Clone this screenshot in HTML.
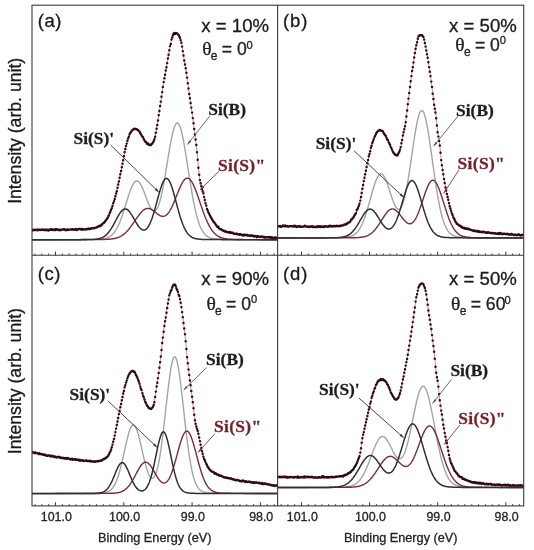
<!DOCTYPE html><html><head><meta charset="utf-8"><title>Si 2p spectra</title><style>html,body{margin:0;padding:0;background:#fff}svg{display:block;filter:blur(0.45px)}text{stroke-width:0.3px;paint-order:stroke}</style></head><body><svg width="534" height="550" viewBox="0 0 534 550">
<defs>
<clipPath id="cpa"><rect x="32.0" y="5.2" width="245.6" height="250.0"/></clipPath>
<clipPath id="cpb"><rect x="277.6" y="5.2" width="246.1" height="250.0"/></clipPath>
<clipPath id="cpc"><rect x="32.0" y="255.2" width="245.6" height="250.7"/></clipPath>
<clipPath id="cpd"><rect x="277.6" y="255.2" width="246.1" height="250.7"/></clipPath>
</defs>
<rect width="534" height="550" fill="#fff"/>
<g clip-path="url(#cpa)" fill="none">
<path d="M32.0 239.7 L32.5 239.7 L33.0 239.7 L33.5 239.7 L34.0 239.7 L34.5 239.7 L35.0 239.7 L35.5 239.7 L36.0 239.7 L36.5 239.7 L37.0 239.7 L37.5 239.7 L38.0 239.7 L38.5 239.7 L39.0 239.7 L39.5 239.7 L40.0 239.7 L40.5 239.7 L41.0 239.7 L41.5 239.7 L42.0 239.7 L42.5 239.7 L43.0 239.7 L43.5 239.7 L44.0 239.7 L44.5 239.7 L45.0 239.7 L45.5 239.7 L46.0 239.7 L46.5 239.7 L47.0 239.7 L47.5 239.7 L48.0 239.7 L48.5 239.7 L49.0 239.7 L49.5 239.7 L50.0 239.7 L50.5 239.7 L51.0 239.7 L51.5 239.7 L52.0 239.7 L52.5 239.7 L53.0 239.7 L53.5 239.7 L54.0 239.7 L54.5 239.7 L55.0 239.7 L55.5 239.7 L56.0 239.7 L56.5 239.7 L57.0 239.7 L57.5 239.7 L58.0 239.7 L58.5 239.7 L59.0 239.7 L59.5 239.7 L60.0 239.7 L60.5 239.7 L61.0 239.7 L61.5 239.6 L62.0 239.6 L62.5 239.6 L63.0 239.6 L63.5 239.6 L64.0 239.6 L64.5 239.6 L65.0 239.6 L65.5 239.6 L66.0 239.6 L66.5 239.6 L67.0 239.6 L67.5 239.6 L68.0 239.6 L68.5 239.6 L69.0 239.6 L69.5 239.6 L70.0 239.6 L70.5 239.6 L71.0 239.6 L71.5 239.6 L72.0 239.6 L72.5 239.6 L73.0 239.6 L73.5 239.6 L74.0 239.6 L74.5 239.6 L75.0 239.6 L75.5 239.6 L76.0 239.6 L76.5 239.6 L77.0 239.6 L77.5 239.6 L78.0 239.6 L78.5 239.6 L79.0 239.6 L79.5 239.6 L80.0 239.6 L80.5 239.6 L81.0 239.6 L81.5 239.6 L82.0 239.5 L82.5 239.5 L83.0 239.5 L83.5 239.5 L84.0 239.5 L84.5 239.5 L85.0 239.5 L85.5 239.5 L86.0 239.5 L86.5 239.5 L87.0 239.5 L87.5 239.5 L88.0 239.5 L88.5 239.5 L89.0 239.5 L89.5 239.5 L90.0 239.5 L90.5 239.5 L91.0 239.5 L91.5 239.5 L92.0 239.4 L92.5 239.4 L93.0 239.4 L93.5 239.4 L94.0 239.4 L94.5 239.4 L95.0 239.4 L95.5 239.4 L96.0 239.4 L96.5 239.3 L97.0 239.3 L97.5 239.3 L98.0 239.3 L98.5 239.2 L99.0 239.2 L99.5 239.2 L100.0 239.2 L100.5 239.1 L101.0 239.1 L101.5 239.0 L102.0 239.0 L102.5 238.9 L103.0 238.8 L103.5 238.8 L104.0 238.7 L104.5 238.6 L105.0 238.5 L105.5 238.3 L106.0 238.2 L106.5 238.0 L107.0 237.9 L107.5 237.7 L108.0 237.5 L108.5 237.2 L109.0 237.0 L109.5 236.7 L110.0 236.4 L110.5 236.1 L111.0 235.7 L111.5 235.3 L112.0 234.9 L112.5 234.4 L113.0 233.9 L113.5 233.3 L114.0 232.7 L114.5 232.1 L115.0 231.4 L115.5 230.6 L116.0 229.9 L116.5 229.0 L117.0 228.1 L117.5 227.2 L118.0 226.2 L118.5 225.1 L119.0 224.0 L119.5 222.8 L120.0 221.6 L120.5 220.3 L121.0 219.0 L121.5 217.6 L122.0 216.2 L122.5 214.8 L123.0 213.3 L123.5 211.8 L124.0 210.2 L124.5 208.6 L125.0 207.0 L125.5 205.4 L126.0 203.8 L126.5 202.2 L127.0 200.6 L127.5 199.0 L128.0 197.4 L128.5 195.8 L129.0 194.3 L129.5 192.8 L130.0 191.4 L130.5 190.1 L131.0 188.8 L131.5 187.6 L132.0 186.4 L132.5 185.4 L133.0 184.4 L133.5 183.6 L134.0 182.9 L134.5 182.2 L135.0 181.7 L135.5 181.4 L136.0 181.1 L136.5 181.0 L137.0 180.9 L137.5 181.0 L138.0 181.3 L138.5 181.6 L139.0 182.1 L139.5 182.7 L140.0 183.3 L140.5 184.1 L141.0 185.0 L141.5 186.0 L142.0 187.0 L142.5 188.1 L143.0 189.3 L143.5 190.5 L144.0 191.8 L144.5 193.1 L145.0 194.4 L145.5 195.8 L146.0 197.1 L146.5 198.4 L147.0 199.8 L147.5 201.0 L148.0 202.3 L148.5 203.5 L149.0 204.6 L149.5 205.7 L150.0 206.7 L150.5 207.6 L151.0 208.5 L151.5 209.2 L152.0 209.8 L152.5 210.3 L153.0 210.7 L153.5 210.9 L154.0 211.1 L154.5 211.0 L155.0 210.9 L155.5 210.5 L156.0 210.1 L156.5 209.5 L157.0 208.7 L157.5 207.7 L158.0 206.7 L158.5 205.4 L159.0 204.0 L159.5 202.4 L160.0 200.7 L160.5 198.9 L161.0 196.8 L161.5 194.7 L162.0 192.4 L162.5 190.0 L163.0 187.5 L163.5 184.9 L164.0 182.1 L164.5 179.3 L165.0 176.4 L165.5 173.5 L166.0 170.4 L166.5 167.4 L167.0 164.3 L167.5 161.3 L168.0 158.2 L168.5 155.2 L169.0 152.2 L169.5 149.2 L170.0 146.4 L170.5 143.6 L171.0 141.0 L171.5 138.4 L172.0 136.0 L172.5 133.8 L173.0 131.8 L173.5 129.9 L174.0 128.2 L174.5 126.8 L175.0 125.6 L175.5 124.6 L176.0 123.8 L176.5 123.3 L177.0 123.0 L177.5 123.0 L178.0 123.3 L178.5 123.7 L179.0 124.5 L179.5 125.5 L180.0 126.7 L180.5 128.1 L181.0 129.8 L181.5 131.7 L182.0 133.7 L182.5 136.0 L183.0 138.4 L183.5 140.9 L184.0 143.6 L184.5 146.5 L185.0 149.4 L185.5 152.4 L186.0 155.5 L186.5 158.6 L187.0 161.8 L187.5 165.1 L188.0 168.3 L188.5 171.5 L189.0 174.7 L189.5 177.9 L190.0 181.1 L190.5 184.2 L191.0 187.2 L191.5 190.2 L192.0 193.1 L192.5 195.9 L193.0 198.7 L193.5 201.3 L194.0 203.8 L194.5 206.3 L195.0 208.6 L195.5 210.8 L196.0 212.9 L196.5 214.9 L197.0 216.8 L197.5 218.6 L198.0 220.3 L198.5 221.8 L199.0 223.3 L199.5 224.7 L200.0 226.0 L200.5 227.2 L201.0 228.3 L201.5 229.3 L202.0 230.3 L202.5 231.1 L203.0 231.9 L203.5 232.7 L204.0 233.3 L204.5 233.9 L205.0 234.5 L205.5 235.0 L206.0 235.4 L206.5 235.9 L207.0 236.2 L207.5 236.6 L208.0 236.9 L208.5 237.1 L209.0 237.4 L209.5 237.6 L210.0 237.8 L210.5 238.0 L211.0 238.1 L211.5 238.3 L212.0 238.4 L212.5 238.5 L213.0 238.6 L213.5 238.7 L214.0 238.7 L214.5 238.8 L215.0 238.9 L215.5 238.9 L216.0 239.0 L216.5 239.0 L217.0 239.1 L217.5 239.1 L218.0 239.1 L218.5 239.1 L219.0 239.2 L219.5 239.2 L220.0 239.2 L220.5 239.2 L221.0 239.2 L221.5 239.3 L222.0 239.3 L222.5 239.3 L223.0 239.3 L223.5 239.3 L224.0 239.3 L224.5 239.3 L225.0 239.3 L225.5 239.4 L226.0 239.4 L226.5 239.4 L227.0 239.4 L227.5 239.4 L228.0 239.4 L228.5 239.4 L229.0 239.4 L229.5 239.4 L230.0 239.4 L230.5 239.4 L231.0 239.4 L231.5 239.4 L232.0 239.4 L232.5 239.5 L233.0 239.5 L233.5 239.5 L234.0 239.5 L234.5 239.5 L235.0 239.5 L235.5 239.5 L236.0 239.5 L236.5 239.5 L237.0 239.5 L237.5 239.5 L238.0 239.5 L238.5 239.5 L239.0 239.5 L239.5 239.5 L240.0 239.5 L240.5 239.5 L241.0 239.5 L241.5 239.5 L242.0 239.5 L242.5 239.5 L243.0 239.5 L243.5 239.6 L244.0 239.6 L244.5 239.6 L245.0 239.6 L245.5 239.6 L246.0 239.6 L246.5 239.6 L247.0 239.6 L247.5 239.6 L248.0 239.6 L248.5 239.6 L249.0 239.6 L249.5 239.6 L250.0 239.6 L250.5 239.6 L251.0 239.6 L251.5 239.6 L252.0 239.6 L252.5 239.6 L253.0 239.6 L253.5 239.6 L254.0 239.6 L254.5 239.6 L255.0 239.6 L255.5 239.6 L256.0 239.6 L256.5 239.6 L257.0 239.6 L257.5 239.6 L258.0 239.6 L258.5 239.6 L259.0 239.6 L259.5 239.6 L260.0 239.6 L260.5 239.6 L261.0 239.6 L261.5 239.6 L262.0 239.6 L262.5 239.6 L263.0 239.6 L263.5 239.6 L264.0 239.6 L264.5 239.6 L265.0 239.7 L265.5 239.7 L266.0 239.7 L266.5 239.7 L267.0 239.7 L267.5 239.7 L268.0 239.7 L268.5 239.7 L269.0 239.7 L269.5 239.7 L270.0 239.7 L270.5 239.7 L271.0 239.7 L271.5 239.7 L272.0 239.7 L272.5 239.7 L273.0 239.7 L273.5 239.7 L274.0 239.7 L274.5 239.7 L275.0 239.7 L275.5 239.7 L276.0 239.7 L276.5 239.7 L277.0 239.7 L277.5 239.7" stroke="#a4a4a4" stroke-width="1.4"/>
<path d="M32.0 239.7 L32.5 239.7 L33.0 239.7 L33.5 239.7 L34.0 239.7 L34.5 239.7 L35.0 239.7 L35.5 239.7 L36.0 239.7 L36.5 239.7 L37.0 239.7 L37.5 239.7 L38.0 239.7 L38.5 239.7 L39.0 239.7 L39.5 239.7 L40.0 239.7 L40.5 239.7 L41.0 239.7 L41.5 239.7 L42.0 239.7 L42.5 239.7 L43.0 239.7 L43.5 239.7 L44.0 239.7 L44.5 239.7 L45.0 239.7 L45.5 239.7 L46.0 239.7 L46.5 239.7 L47.0 239.7 L47.5 239.7 L48.0 239.7 L48.5 239.7 L49.0 239.7 L49.5 239.7 L50.0 239.7 L50.5 239.7 L51.0 239.7 L51.5 239.7 L52.0 239.7 L52.5 239.7 L53.0 239.7 L53.5 239.7 L54.0 239.7 L54.5 239.7 L55.0 239.7 L55.5 239.7 L56.0 239.7 L56.5 239.7 L57.0 239.7 L57.5 239.7 L58.0 239.7 L58.5 239.7 L59.0 239.7 L59.5 239.7 L60.0 239.7 L60.5 239.7 L61.0 239.7 L61.5 239.7 L62.0 239.7 L62.5 239.7 L63.0 239.7 L63.5 239.7 L64.0 239.7 L64.5 239.7 L65.0 239.7 L65.5 239.7 L66.0 239.7 L66.5 239.7 L67.0 239.7 L67.5 239.7 L68.0 239.7 L68.5 239.7 L69.0 239.7 L69.5 239.7 L70.0 239.7 L70.5 239.7 L71.0 239.7 L71.5 239.7 L72.0 239.7 L72.5 239.7 L73.0 239.7 L73.5 239.7 L74.0 239.7 L74.5 239.7 L75.0 239.7 L75.5 239.7 L76.0 239.7 L76.5 239.7 L77.0 239.7 L77.5 239.7 L78.0 239.7 L78.5 239.7 L79.0 239.7 L79.5 239.7 L80.0 239.7 L80.5 239.7 L81.0 239.7 L81.5 239.7 L82.0 239.7 L82.5 239.7 L83.0 239.7 L83.5 239.7 L84.0 239.7 L84.5 239.7 L85.0 239.7 L85.5 239.7 L86.0 239.7 L86.5 239.7 L87.0 239.6 L87.5 239.6 L88.0 239.6 L88.5 239.6 L89.0 239.6 L89.5 239.6 L90.0 239.6 L90.5 239.6 L91.0 239.6 L91.5 239.6 L92.0 239.6 L92.5 239.6 L93.0 239.6 L93.5 239.6 L94.0 239.6 L94.5 239.6 L95.0 239.6 L95.5 239.6 L96.0 239.6 L96.5 239.6 L97.0 239.6 L97.5 239.6 L98.0 239.6 L98.5 239.6 L99.0 239.6 L99.5 239.6 L100.0 239.6 L100.5 239.5 L101.0 239.5 L101.5 239.5 L102.0 239.5 L102.5 239.5 L103.0 239.5 L103.5 239.5 L104.0 239.5 L104.5 239.5 L105.0 239.4 L105.5 239.4 L106.0 239.4 L106.5 239.4 L107.0 239.4 L107.5 239.3 L108.0 239.3 L108.5 239.3 L109.0 239.2 L109.5 239.2 L110.0 239.1 L110.5 239.1 L111.0 239.0 L111.5 239.0 L112.0 238.9 L112.5 238.8 L113.0 238.8 L113.5 238.7 L114.0 238.6 L114.5 238.5 L115.0 238.4 L115.5 238.2 L116.0 238.1 L116.5 238.0 L117.0 237.8 L117.5 237.6 L118.0 237.5 L118.5 237.3 L119.0 237.1 L119.5 236.8 L120.0 236.6 L120.5 236.3 L121.0 236.1 L121.5 235.8 L122.0 235.5 L122.5 235.1 L123.0 234.8 L123.5 234.4 L124.0 234.0 L124.5 233.6 L125.0 233.2 L125.5 232.7 L126.0 232.3 L126.5 231.8 L127.0 231.3 L127.5 230.7 L128.0 230.2 L128.5 229.6 L129.0 229.0 L129.5 228.4 L130.0 227.7 L130.5 227.1 L131.0 226.4 L131.5 225.7 L132.0 225.0 L132.5 224.3 L133.0 223.6 L133.5 222.9 L134.0 222.2 L134.5 221.4 L135.0 220.7 L135.5 219.9 L136.0 219.2 L136.5 218.5 L137.0 217.7 L137.5 217.0 L138.0 216.3 L138.5 215.6 L139.0 215.0 L139.5 214.3 L140.0 213.7 L140.5 213.1 L141.0 212.5 L141.5 212.0 L142.0 211.4 L142.5 211.0 L143.0 210.5 L143.5 210.1 L144.0 209.8 L144.5 209.4 L145.0 209.2 L145.5 208.9 L146.0 208.7 L146.5 208.6 L147.0 208.5 L147.5 208.4 L148.0 208.4 L148.5 208.5 L149.0 208.5 L149.5 208.6 L150.0 208.8 L150.5 209.0 L151.0 209.2 L151.5 209.5 L152.0 209.8 L152.5 210.1 L153.0 210.4 L153.5 210.8 L154.0 211.2 L154.5 211.6 L155.0 212.0 L155.5 212.4 L156.0 212.8 L156.5 213.2 L157.0 213.6 L157.5 214.0 L158.0 214.3 L158.5 214.7 L159.0 215.0 L159.5 215.3 L160.0 215.6 L160.5 215.8 L161.0 216.0 L161.5 216.2 L162.0 216.3 L162.5 216.4 L163.0 216.4 L163.5 216.4 L164.0 216.3 L164.5 216.1 L165.0 215.9 L165.5 215.6 L166.0 215.3 L166.5 214.9 L167.0 214.5 L167.5 214.0 L168.0 213.4 L168.5 212.8 L169.0 212.1 L169.5 211.3 L170.0 210.5 L170.5 209.6 L171.0 208.7 L171.5 207.7 L172.0 206.7 L172.5 205.6 L173.0 204.5 L173.5 203.4 L174.0 202.2 L174.5 201.0 L175.0 199.8 L175.5 198.5 L176.0 197.3 L176.5 196.0 L177.0 194.7 L177.5 193.5 L178.0 192.2 L178.5 191.0 L179.0 189.8 L179.5 188.6 L180.0 187.5 L180.5 186.4 L181.0 185.3 L181.5 184.3 L182.0 183.4 L182.5 182.5 L183.0 181.7 L183.5 180.9 L184.0 180.3 L184.5 179.7 L185.0 179.2 L185.5 178.8 L186.0 178.5 L186.5 178.3 L187.0 178.2 L187.5 178.1 L188.0 178.2 L188.5 178.4 L189.0 178.7 L189.5 179.0 L190.0 179.5 L190.5 180.0 L191.0 180.7 L191.5 181.4 L192.0 182.2 L192.5 183.1 L193.0 184.0 L193.5 185.1 L194.0 186.2 L194.5 187.3 L195.0 188.5 L195.5 189.8 L196.0 191.1 L196.5 192.4 L197.0 193.8 L197.5 195.2 L198.0 196.7 L198.5 198.1 L199.0 199.6 L199.5 201.0 L200.0 202.5 L200.5 204.0 L201.0 205.4 L201.5 206.9 L202.0 208.3 L202.5 209.8 L203.0 211.2 L203.5 212.5 L204.0 213.9 L204.5 215.2 L205.0 216.5 L205.5 217.7 L206.0 218.9 L206.5 220.1 L207.0 221.3 L207.5 222.4 L208.0 223.4 L208.5 224.4 L209.0 225.4 L209.5 226.3 L210.0 227.2 L210.5 228.0 L211.0 228.8 L211.5 229.6 L212.0 230.3 L212.5 231.0 L213.0 231.6 L213.5 232.2 L214.0 232.8 L214.5 233.3 L215.0 233.8 L215.5 234.3 L216.0 234.7 L216.5 235.1 L217.0 235.5 L217.5 235.8 L218.0 236.1 L218.5 236.4 L219.0 236.7 L219.5 237.0 L220.0 237.2 L220.5 237.4 L221.0 237.6 L221.5 237.8 L222.0 238.0 L222.5 238.1 L223.0 238.2 L223.5 238.4 L224.0 238.5 L224.5 238.6 L225.0 238.7 L225.5 238.8 L226.0 238.8 L226.5 238.9 L227.0 239.0 L227.5 239.0 L228.0 239.1 L228.5 239.1 L229.0 239.2 L229.5 239.2 L230.0 239.2 L230.5 239.3 L231.0 239.3 L231.5 239.3 L232.0 239.3 L232.5 239.4 L233.0 239.4 L233.5 239.4 L234.0 239.4 L234.5 239.4 L235.0 239.4 L235.5 239.5 L236.0 239.5 L236.5 239.5 L237.0 239.5 L237.5 239.5 L238.0 239.5 L238.5 239.5 L239.0 239.5 L239.5 239.5 L240.0 239.5 L240.5 239.5 L241.0 239.5 L241.5 239.5 L242.0 239.5 L242.5 239.6 L243.0 239.6 L243.5 239.6 L244.0 239.6 L244.5 239.6 L245.0 239.6 L245.5 239.6 L246.0 239.6 L246.5 239.6 L247.0 239.6 L247.5 239.6 L248.0 239.6 L248.5 239.6 L249.0 239.6 L249.5 239.6 L250.0 239.6 L250.5 239.6 L251.0 239.6 L251.5 239.6 L252.0 239.6 L252.5 239.6 L253.0 239.6 L253.5 239.6 L254.0 239.6 L254.5 239.6 L255.0 239.6 L255.5 239.6 L256.0 239.6 L256.5 239.6 L257.0 239.6 L257.5 239.6 L258.0 239.6 L258.5 239.6 L259.0 239.6 L259.5 239.7 L260.0 239.7 L260.5 239.7 L261.0 239.7 L261.5 239.7 L262.0 239.7 L262.5 239.7 L263.0 239.7 L263.5 239.7 L264.0 239.7 L264.5 239.7 L265.0 239.7 L265.5 239.7 L266.0 239.7 L266.5 239.7 L267.0 239.7 L267.5 239.7 L268.0 239.7 L268.5 239.7 L269.0 239.7 L269.5 239.7 L270.0 239.7 L270.5 239.7 L271.0 239.7 L271.5 239.7 L272.0 239.7 L272.5 239.7 L273.0 239.7 L273.5 239.7 L274.0 239.7 L274.5 239.7 L275.0 239.7 L275.5 239.7 L276.0 239.7 L276.5 239.7 L277.0 239.7 L277.5 239.7" stroke="#7c2c32" stroke-width="1.4"/>
<path d="M32.0 239.8 L32.5 239.8 L33.0 239.8 L33.5 239.8 L34.0 239.8 L34.5 239.8 L35.0 239.8 L35.5 239.8 L36.0 239.8 L36.5 239.8 L37.0 239.8 L37.5 239.7 L38.0 239.7 L38.5 239.7 L39.0 239.7 L39.5 239.7 L40.0 239.7 L40.5 239.7 L41.0 239.7 L41.5 239.7 L42.0 239.7 L42.5 239.7 L43.0 239.7 L43.5 239.7 L44.0 239.7 L44.5 239.7 L45.0 239.7 L45.5 239.7 L46.0 239.7 L46.5 239.7 L47.0 239.7 L47.5 239.7 L48.0 239.7 L48.5 239.7 L49.0 239.7 L49.5 239.7 L50.0 239.7 L50.5 239.7 L51.0 239.7 L51.5 239.7 L52.0 239.7 L52.5 239.7 L53.0 239.7 L53.5 239.7 L54.0 239.7 L54.5 239.7 L55.0 239.7 L55.5 239.7 L56.0 239.7 L56.5 239.7 L57.0 239.7 L57.5 239.7 L58.0 239.7 L58.5 239.7 L59.0 239.7 L59.5 239.7 L60.0 239.7 L60.5 239.7 L61.0 239.7 L61.5 239.7 L62.0 239.7 L62.5 239.7 L63.0 239.7 L63.5 239.7 L64.0 239.7 L64.5 239.7 L65.0 239.7 L65.5 239.7 L66.0 239.7 L66.5 239.7 L67.0 239.7 L67.5 239.7 L68.0 239.7 L68.5 239.7 L69.0 239.7 L69.5 239.7 L70.0 239.7 L70.5 239.7 L71.0 239.7 L71.5 239.7 L72.0 239.7 L72.5 239.7 L73.0 239.7 L73.5 239.7 L74.0 239.7 L74.5 239.7 L75.0 239.7 L75.5 239.7 L76.0 239.7 L76.5 239.7 L77.0 239.7 L77.5 239.7 L78.0 239.7 L78.5 239.7 L79.0 239.7 L79.5 239.7 L80.0 239.7 L80.5 239.7 L81.0 239.6 L81.5 239.6 L82.0 239.6 L82.5 239.6 L83.0 239.6 L83.5 239.6 L84.0 239.6 L84.5 239.6 L85.0 239.6 L85.5 239.6 L86.0 239.6 L86.5 239.6 L87.0 239.6 L87.5 239.6 L88.0 239.6 L88.5 239.6 L89.0 239.6 L89.5 239.6 L90.0 239.5 L90.5 239.5 L91.0 239.5 L91.5 239.5 L92.0 239.5 L92.5 239.5 L93.0 239.4 L93.5 239.4 L94.0 239.4 L94.5 239.3 L95.0 239.3 L95.5 239.2 L96.0 239.2 L96.5 239.1 L97.0 239.0 L97.5 239.0 L98.0 238.9 L98.5 238.8 L99.0 238.7 L99.5 238.5 L100.0 238.4 L100.5 238.2 L101.0 238.1 L101.5 237.9 L102.0 237.7 L102.5 237.4 L103.0 237.2 L103.5 236.9 L104.0 236.6 L104.5 236.3 L105.0 235.9 L105.5 235.5 L106.0 235.1 L106.5 234.6 L107.0 234.1 L107.5 233.6 L108.0 233.0 L108.5 232.4 L109.0 231.8 L109.5 231.1 L110.0 230.4 L110.5 229.7 L111.0 228.9 L111.5 228.2 L112.0 227.3 L112.5 226.5 L113.0 225.6 L113.5 224.7 L114.0 223.8 L114.5 222.9 L115.0 221.9 L115.5 221.0 L116.0 220.0 L116.5 219.1 L117.0 218.2 L117.5 217.2 L118.0 216.3 L118.5 215.5 L119.0 214.6 L119.5 213.8 L120.0 213.1 L120.5 212.4 L121.0 211.7 L121.5 211.1 L122.0 210.6 L122.5 210.1 L123.0 209.7 L123.5 209.4 L124.0 209.2 L124.5 209.0 L125.0 208.9 L125.5 208.9 L126.0 209.0 L126.5 209.2 L127.0 209.4 L127.5 209.7 L128.0 210.1 L128.5 210.6 L129.0 211.1 L129.5 211.7 L130.0 212.4 L130.5 213.1 L131.0 213.8 L131.5 214.6 L132.0 215.4 L132.5 216.2 L133.0 217.1 L133.5 218.0 L134.0 218.9 L134.5 219.7 L135.0 220.6 L135.5 221.5 L136.0 222.4 L136.5 223.2 L137.0 224.0 L137.5 224.8 L138.0 225.5 L138.5 226.2 L139.0 226.9 L139.5 227.5 L140.0 228.0 L140.5 228.5 L141.0 229.0 L141.5 229.3 L142.0 229.6 L142.5 229.8 L143.0 230.0 L143.5 230.1 L144.0 230.1 L144.5 230.0 L145.0 229.8 L145.5 229.6 L146.0 229.3 L146.5 228.8 L147.0 228.3 L147.5 227.7 L148.0 227.0 L148.5 226.3 L149.0 225.4 L149.5 224.4 L150.0 223.4 L150.5 222.3 L151.0 221.0 L151.5 219.7 L152.0 218.4 L152.5 216.9 L153.0 215.4 L153.5 213.8 L154.0 212.1 L154.5 210.4 L155.0 208.7 L155.5 206.9 L156.0 205.1 L156.5 203.2 L157.0 201.4 L157.5 199.5 L158.0 197.7 L158.5 195.8 L159.0 194.1 L159.5 192.3 L160.0 190.6 L160.5 189.0 L161.0 187.4 L161.5 186.0 L162.0 184.6 L162.5 183.4 L163.0 182.2 L163.5 181.2 L164.0 180.4 L164.5 179.7 L165.0 179.1 L165.5 178.7 L166.0 178.5 L166.5 178.4 L167.0 178.5 L167.5 178.7 L168.0 179.1 L168.5 179.7 L169.0 180.4 L169.5 181.3 L170.0 182.3 L170.5 183.4 L171.0 184.7 L171.5 186.0 L172.0 187.5 L172.5 189.1 L173.0 190.7 L173.5 192.4 L174.0 194.2 L174.5 196.0 L175.0 197.9 L175.5 199.7 L176.0 201.6 L176.5 203.5 L177.0 205.4 L177.5 207.2 L178.0 209.1 L178.5 210.9 L179.0 212.7 L179.5 214.4 L180.0 216.0 L180.5 217.7 L181.0 219.2 L181.5 220.7 L182.0 222.1 L182.5 223.5 L183.0 224.8 L183.5 226.0 L184.0 227.1 L184.5 228.2 L185.0 229.2 L185.5 230.1 L186.0 231.0 L186.5 231.8 L187.0 232.6 L187.5 233.3 L188.0 233.9 L188.5 234.5 L189.0 235.0 L189.5 235.5 L190.0 235.9 L190.5 236.3 L191.0 236.7 L191.5 237.0 L192.0 237.3 L192.5 237.6 L193.0 237.8 L193.5 238.0 L194.0 238.2 L194.5 238.4 L195.0 238.5 L195.5 238.6 L196.0 238.7 L196.5 238.8 L197.0 238.9 L197.5 239.0 L198.0 239.1 L198.5 239.1 L199.0 239.2 L199.5 239.2 L200.0 239.3 L200.5 239.3 L201.0 239.3 L201.5 239.4 L202.0 239.4 L202.5 239.4 L203.0 239.4 L203.5 239.5 L204.0 239.5 L204.5 239.5 L205.0 239.5 L205.5 239.5 L206.0 239.5 L206.5 239.5 L207.0 239.5 L207.5 239.5 L208.0 239.5 L208.5 239.6 L209.0 239.6 L209.5 239.6 L210.0 239.6 L210.5 239.6 L211.0 239.6 L211.5 239.6 L212.0 239.6 L212.5 239.6 L213.0 239.6 L213.5 239.6 L214.0 239.6 L214.5 239.6 L215.0 239.6 L215.5 239.6 L216.0 239.6 L216.5 239.6 L217.0 239.6 L217.5 239.6 L218.0 239.6 L218.5 239.6 L219.0 239.6 L219.5 239.6 L220.0 239.6 L220.5 239.6 L221.0 239.6 L221.5 239.7 L222.0 239.7 L222.5 239.7 L223.0 239.7 L223.5 239.7 L224.0 239.7 L224.5 239.7 L225.0 239.7 L225.5 239.7 L226.0 239.7 L226.5 239.7 L227.0 239.7 L227.5 239.7 L228.0 239.7 L228.5 239.7 L229.0 239.7 L229.5 239.7 L230.0 239.7 L230.5 239.7 L231.0 239.7 L231.5 239.7 L232.0 239.7 L232.5 239.7 L233.0 239.7 L233.5 239.7 L234.0 239.7 L234.5 239.7 L235.0 239.7 L235.5 239.7 L236.0 239.7 L236.5 239.7 L237.0 239.7 L237.5 239.7 L238.0 239.7 L238.5 239.7 L239.0 239.7 L239.5 239.7 L240.0 239.7 L240.5 239.7 L241.0 239.7 L241.5 239.7 L242.0 239.7 L242.5 239.7 L243.0 239.7 L243.5 239.7 L244.0 239.7 L244.5 239.7 L245.0 239.7 L245.5 239.7 L246.0 239.7 L246.5 239.7 L247.0 239.7 L247.5 239.7 L248.0 239.7 L248.5 239.7 L249.0 239.7 L249.5 239.7 L250.0 239.7 L250.5 239.7 L251.0 239.7 L251.5 239.7 L252.0 239.7 L252.5 239.7 L253.0 239.7 L253.5 239.7 L254.0 239.7 L254.5 239.7 L255.0 239.7 L255.5 239.7 L256.0 239.7 L256.5 239.7 L257.0 239.7 L257.5 239.7 L258.0 239.7 L258.5 239.7 L259.0 239.7 L259.5 239.7 L260.0 239.7 L260.5 239.7 L261.0 239.7 L261.5 239.7 L262.0 239.7 L262.5 239.7 L263.0 239.7 L263.5 239.7 L264.0 239.7 L264.5 239.7 L265.0 239.7 L265.5 239.7 L266.0 239.7 L266.5 239.7 L267.0 239.8 L267.5 239.8 L268.0 239.8 L268.5 239.8 L269.0 239.8 L269.5 239.8 L270.0 239.8 L270.5 239.8 L271.0 239.8 L271.5 239.8 L272.0 239.8 L272.5 239.8 L273.0 239.8 L273.5 239.8 L274.0 239.8 L274.5 239.8 L275.0 239.8 L275.5 239.8 L276.0 239.8 L276.5 239.8 L277.0 239.8 L277.5 239.8" stroke="#303030" stroke-width="1.5"/>
<path d="M32.0 229.9 L32.5 229.9 L33.0 229.9 L33.5 229.9 L34.0 229.9 L34.5 229.9 L35.0 229.9 L35.5 229.9 L36.0 229.9 L36.5 229.9 L37.0 229.9 L37.5 229.9 L38.0 229.9 L38.5 229.9 L39.0 229.9 L39.5 229.9 L40.0 229.9 L40.5 229.9 L41.0 229.9 L41.5 229.9 L42.0 229.9 L42.5 229.9 L43.0 229.9 L43.5 229.8 L44.0 229.8 L44.5 229.8 L45.0 229.8 L45.5 229.8 L46.0 229.8 L46.5 229.8 L47.0 229.8 L47.5 229.8 L48.0 229.8 L48.5 229.8 L49.0 229.8 L49.5 229.8 L50.0 229.8 L50.5 229.8 L51.0 229.8 L51.5 229.8 L52.0 229.8 L52.5 229.8 L53.0 229.8 L53.5 229.8 L54.0 229.8 L54.5 229.8 L55.0 229.8 L55.5 229.7 L56.0 229.7 L56.5 229.7 L57.0 229.7 L57.5 229.7 L58.0 229.7 L58.5 229.7 L59.0 229.7 L59.5 229.7 L60.0 229.7 L60.5 229.7 L61.0 229.7 L61.5 229.7 L62.0 229.7 L62.5 229.7 L63.0 229.7 L63.5 229.7 L64.0 229.7 L64.5 229.6 L65.0 229.6 L65.5 229.6 L66.0 229.6 L66.5 229.6 L67.0 229.6 L67.5 229.6 L68.0 229.6 L68.5 229.6 L69.0 229.6 L69.5 229.6 L70.0 229.6 L70.5 229.6 L71.0 229.5 L71.5 229.5 L72.0 229.5 L72.5 229.5 L73.0 229.5 L73.5 229.5 L74.0 229.5 L74.5 229.5 L75.0 229.5 L75.5 229.4 L76.0 229.4 L76.5 229.4 L77.0 229.4 L77.5 229.4 L78.0 229.4 L78.5 229.4 L79.0 229.4 L79.5 229.3 L80.0 229.3 L80.5 229.3 L81.0 229.3 L81.5 229.3 L82.0 229.3 L82.5 229.2 L83.0 229.2 L83.5 229.2 L84.0 229.2 L84.5 229.2 L85.0 229.1 L85.5 229.1 L86.0 229.1 L86.5 229.1 L87.0 229.0 L87.5 229.0 L88.0 229.0 L88.5 229.0 L89.0 228.9 L89.5 228.9 L90.0 228.8 L90.5 228.7 L91.0 228.6 L91.5 228.5 L92.0 228.4 L92.5 228.3 L93.0 228.2 L93.5 228.1 L94.0 227.9 L94.5 227.8 L95.0 227.6 L95.5 227.5 L96.0 227.3 L96.5 227.1 L97.0 226.9 L97.5 226.7 L98.0 226.5 L98.5 226.3 L99.0 226.1 L99.5 225.9 L100.0 225.6 L100.5 225.3 L101.0 225.0 L101.5 224.7 L102.0 224.4 L102.5 224.0 L103.0 223.6 L103.5 223.2 L104.0 222.7 L104.5 222.1 L105.0 221.6 L105.5 220.9 L106.0 220.3 L106.5 219.5 L107.0 218.7 L107.5 217.8 L108.0 216.8 L108.5 215.8 L109.0 214.7 L109.5 213.6 L110.0 212.5 L110.5 211.3 L111.0 210.0 L111.5 208.7 L112.0 207.3 L112.5 205.9 L113.0 204.4 L113.5 202.8 L114.0 201.1 L114.5 199.4 L115.0 197.6 L115.5 195.8 L116.0 193.9 L116.5 192.0 L117.0 190.0 L117.5 187.9 L118.0 185.7 L118.5 183.3 L119.0 180.9 L119.5 178.4 L120.0 175.9 L120.5 173.4 L121.0 170.9 L121.5 168.4 L122.0 165.9 L122.5 163.4 L123.0 160.9 L123.5 158.2 L124.0 155.6 L124.5 153.0 L125.0 150.6 L125.5 148.3 L126.0 146.3 L126.5 144.4 L127.0 142.6 L127.5 140.8 L128.0 139.2 L128.5 137.6 L129.0 136.1 L129.5 134.9 L130.0 133.8 L130.5 132.8 L131.0 132.0 L131.5 131.3 L132.0 130.6 L132.5 130.1 L133.0 129.7 L133.5 129.4 L134.0 129.2 L134.5 129.1 L135.0 129.0 L135.5 129.0 L136.0 129.1 L136.5 129.2 L137.0 129.5 L137.5 129.9 L138.0 130.3 L138.5 130.8 L139.0 131.4 L139.5 132.0 L140.0 132.6 L140.5 133.3 L141.0 134.1 L141.5 134.9 L142.0 135.7 L142.5 136.6 L143.0 137.5 L143.5 138.4 L144.0 139.3 L144.5 140.2 L145.0 141.0 L145.5 141.7 L146.0 142.3 L146.5 142.8 L147.0 143.2 L147.5 143.6 L148.0 143.9 L148.5 144.2 L149.0 144.5 L149.5 144.7 L150.0 144.8 L150.5 144.8 L151.0 144.7 L151.5 144.4 L152.0 144.0 L152.5 143.4 L153.0 142.6 L153.5 141.6 L154.0 140.5 L154.5 139.1 L155.0 137.2 L155.5 134.8 L156.0 132.0 L156.5 129.1 L157.0 126.2 L157.5 123.2 L158.0 120.1 L158.5 116.8 L159.0 113.5 L159.5 110.1 L160.0 106.8 L160.5 103.6 L161.0 100.3 L161.5 96.9 L162.0 93.4 L162.5 89.9 L163.0 86.5 L163.5 83.5 L164.0 80.6 L164.5 77.8 L165.0 74.9 L165.5 72.1 L166.0 69.4 L166.5 66.8 L167.0 64.1 L167.5 61.2 L168.0 58.1 L168.5 55.1 L169.0 52.2 L169.5 49.5 L170.0 46.9 L170.5 44.5 L171.0 42.2 L171.5 40.0 L172.0 38.0 L172.5 36.2 L173.0 34.7 L173.5 33.9 L174.0 33.5 L174.5 33.5 L175.0 33.7 L175.5 33.7 L176.0 33.6 L176.5 33.5 L177.0 33.5 L177.5 33.7 L178.0 34.1 L178.5 34.7 L179.0 35.6 L179.5 36.7 L180.0 38.0 L180.5 39.5 L181.0 41.3 L181.5 43.5 L182.0 46.1 L182.5 49.0 L183.0 52.1 L183.5 55.3 L184.0 58.6 L184.5 61.9 L185.0 64.9 L185.5 67.6 L186.0 70.4 L186.5 73.5 L187.0 77.1 L187.5 80.8 L188.0 84.6 L188.5 88.4 L189.0 92.1 L189.5 95.5 L190.0 98.9 L190.5 102.2 L191.0 105.6 L191.5 108.9 L192.0 112.3 L192.5 115.9 L193.0 119.8 L193.5 123.7 L194.0 127.6 L194.5 131.4 L195.0 135.1 L195.5 138.8 L196.0 142.4 L196.5 146.7 L197.0 151.7 L197.5 157.2 L198.0 162.8 L198.5 168.2 L199.0 173.2 L199.5 177.4 L200.0 180.6 L200.5 183.1 L201.0 185.2 L201.5 187.1 L202.0 188.9 L202.5 190.6 L203.0 192.3 L203.5 194.2 L204.0 196.3 L204.5 198.4 L205.0 200.6 L205.5 202.8 L206.0 204.9 L206.5 206.9 L207.0 208.7 L207.5 210.2 L208.0 211.5 L208.5 212.7 L209.0 213.7 L209.5 214.7 L210.0 215.6 L210.5 216.5 L211.0 217.3 L211.5 218.2 L212.0 219.1 L212.5 219.9 L213.0 220.7 L213.5 221.5 L214.0 222.3 L214.5 223.0 L215.0 223.7 L215.5 224.3 L216.0 224.9 L216.5 225.5 L217.0 226.0 L217.5 226.5 L218.0 227.0 L218.5 227.5 L219.0 227.9 L219.5 228.3 L220.0 228.7 L220.5 229.1 L221.0 229.4 L221.5 229.7 L222.0 229.9 L222.5 230.2 L223.0 230.4 L223.5 230.6 L224.0 230.8 L224.5 231.0 L225.0 231.2 L225.5 231.4 L226.0 231.5 L226.5 231.7 L227.0 231.9 L227.5 232.0 L228.0 232.2 L228.5 232.3 L229.0 232.4 L229.5 232.5 L230.0 232.7 L230.5 232.8 L231.0 232.9 L231.5 233.0 L232.0 233.1 L232.5 233.2 L233.0 233.3 L233.5 233.4 L234.0 233.5 L234.5 233.6 L235.0 233.7 L235.5 233.8 L236.0 233.9 L236.5 233.9 L237.0 234.0 L237.5 234.1 L238.0 234.2 L238.5 234.2 L239.0 234.3 L239.5 234.4 L240.0 234.4 L240.5 234.5 L241.0 234.6 L241.5 234.6 L242.0 234.7 L242.5 234.7 L243.0 234.8 L243.5 234.8 L244.0 234.9 L244.5 235.0 L245.0 235.0 L245.5 235.1 L246.0 235.1 L246.5 235.2 L247.0 235.3 L247.5 235.3 L248.0 235.4 L248.5 235.4 L249.0 235.5 L249.5 235.6 L250.0 235.6 L250.5 235.7 L251.0 235.7 L251.5 235.8 L252.0 235.9 L252.5 235.9 L253.0 236.0 L253.5 236.0 L254.0 236.1 L254.5 236.2 L255.0 236.2 L255.5 236.3 L256.0 236.3 L256.5 236.4 L257.0 236.4 L257.5 236.5 L258.0 236.5 L258.5 236.6 L259.0 236.6 L259.5 236.7 L260.0 236.7 L260.5 236.8 L261.0 236.8 L261.5 236.9 L262.0 236.9 L262.5 236.9 L263.0 237.0 L263.5 237.0 L264.0 237.1 L264.5 237.1 L265.0 237.1 L265.5 237.2 L266.0 237.2 L266.5 237.2 L267.0 237.3 L267.5 237.3 L268.0 237.4 L268.5 237.4 L269.0 237.4 L269.5 237.5 L270.0 237.5 L270.5 237.5 L271.0 237.6 L271.5 237.6 L272.0 237.7 L272.5 237.7 L273.0 237.8 L273.5 237.8 L274.0 237.9 L274.5 237.9 L275.0 237.9 L275.5 238.0 L276.0 238.0 L276.5 238.0 L277.0 238.0 L277.5 238.0" stroke="#c07078" stroke-width="0.8"/>
<path d="M32.3 230.4h0M33.0 229.8h0M33.7 229.9h0M34.4 230.0h0M35.1 229.7h0M35.9 229.9h0M36.6 229.9h0M37.3 229.4h0M38.0 230.2h0M38.7 230.0h0M39.4 229.7h0M40.1 229.8h0M40.8 230.0h0M41.5 229.8h0M42.2 229.8h0M43.0 229.4h0M43.7 230.0h0M44.4 229.9h0M45.1 229.9h0M45.8 229.4h0M46.5 230.3h0M47.2 229.9h0M47.9 229.7h0M48.6 230.4h0M49.3 229.8h0M50.1 229.4h0M50.8 229.7h0M51.5 229.1h0M52.2 230.1h0M52.9 229.7h0M53.6 229.6h0M54.3 230.1h0M55.0 229.3h0M55.7 229.9h0M56.4 229.2h0M57.2 229.5h0M57.9 229.4h0M58.6 230.1h0M59.3 230.2h0M60.0 229.6h0M60.7 229.9h0M61.4 229.6h0M62.1 229.8h0M62.8 229.5h0M63.5 229.2h0M64.3 229.1h0M65.0 229.7h0M65.7 230.3h0M66.4 229.7h0M67.1 229.5h0M67.8 230.1h0M68.5 229.7h0M69.2 229.6h0M69.9 229.6h0M70.6 229.5h0M71.4 229.4h0M72.1 229.1h0M72.8 229.6h0M73.5 229.5h0M74.2 229.8h0M74.9 229.4h0M75.6 228.9h0M76.3 229.4h0M77.0 229.9h0M77.7 229.3h0M78.5 229.1h0M79.2 229.0h0M79.9 229.0h0M80.6 229.2h0M81.3 229.0h0M82.0 229.7h0M82.7 229.2h0M83.4 229.2h0M84.1 229.6h0M84.8 229.6h0M85.6 229.1h0M86.3 229.2h0M87.0 229.3h0M87.7 229.0h0M88.4 228.5h0M89.1 229.1h0M89.8 229.1h0M90.5 228.8h0M91.2 228.3h0M91.9 228.4h0M92.7 228.1h0M93.4 228.0h0M94.1 228.3h0M94.8 228.1h0M95.5 227.6h0M96.2 227.4h0M96.9 227.2h0M97.6 226.7h0M98.3 226.4h0M99.0 225.9h0M99.8 225.7h0M100.5 226.0h0M101.2 225.2h0M101.9 224.4h0M102.6 223.8h0M103.3 223.1h0M104.0 222.8h0M104.7 222.0h0M105.4 220.6h0M106.1 220.2h0M106.9 218.8h0M107.6 218.1h0M108.3 216.3h0M109.0 215.3h0M109.7 213.1h0M110.4 211.4h0M111.1 209.8h0M111.8 208.1h0M112.5 205.9h0M113.2 203.3h0M114.0 201.3h0M114.7 198.9h0M115.4 196.2h0M116.1 193.4h0M116.8 191.3h0M117.5 187.8h0M118.2 184.5h0M118.9 181.4h0M119.6 177.8h0M120.3 174.2h0M121.1 170.9h0M121.8 167.3h0M122.5 163.7h0M123.2 160.2h0M123.9 156.2h0M124.6 152.3h0M125.3 149.0h0M126.0 146.1h0M126.7 143.6h0M127.4 140.7h0M128.2 138.2h0M128.9 136.6h0M129.6 134.3h0M130.3 132.7h0M131.0 132.1h0M131.7 130.8h0M132.4 130.3h0M133.1 129.5h0M133.8 128.9h0M134.5 128.7h0M135.3 128.9h0M136.0 129.0h0M136.7 129.1h0M137.4 129.7h0M138.1 129.9h0M138.8 131.1h0M139.5 131.5h0M140.2 132.9h0M140.9 134.2h0M141.6 135.4h0M142.4 136.8h0M143.1 137.2h0M143.8 139.1h0M144.5 140.5h0M145.2 141.5h0M145.9 141.9h0M146.6 143.0h0M147.3 144.0h0M148.0 143.5h0M148.7 144.5h0M149.5 145.0h0M150.2 144.6h0M150.9 144.9h0M151.6 144.1h0M152.3 143.4h0M153.0 142.4h0M153.7 141.2h0M154.4 139.3h0M155.1 136.8h0M155.8 132.7h0M156.6 128.8h0M157.3 124.9h0M158.0 120.4h0M158.7 115.2h0M159.4 111.0h0M160.1 106.0h0M160.8 101.6h0M161.5 96.8h0M162.2 92.1h0M162.9 87.0h0M163.7 82.1h0M164.4 78.2h0M165.1 74.7h0M165.8 70.5h0M166.5 67.2h0M167.2 63.1h0M167.9 58.5h0M168.6 54.7h0M169.3 50.2h0M170.0 46.1h0M170.8 43.9h0M171.5 39.6h0M172.2 37.5h0M172.9 35.3h0M173.6 33.8h0M174.3 33.0h0M175.0 33.9h0M175.7 33.3h0M176.4 33.2h0M177.1 33.5h0M177.9 34.2h0M178.6 34.9h0M179.3 36.4h0M180.0 37.8h0M180.7 40.1h0M181.4 42.7h0M182.1 46.6h0M182.8 51.1h0M183.5 55.4h0M184.2 60.4h0M185.0 64.4h0M185.7 68.3h0M186.4 72.7h0M187.1 77.6h0M187.8 83.2h0M188.5 88.5h0M189.2 94.0h0M189.9 98.3h0M190.6 103.0h0M191.3 107.6h0M192.1 112.6h0M192.8 118.1h0M193.5 123.3h0M194.2 128.9h0M194.9 134.5h0M195.6 139.5h0M196.3 144.9h0M197.0 152.2h0M197.7 159.8h0M198.4 167.7h0M199.2 174.8h0M199.9 180.1h0M200.6 183.3h0M201.3 186.2h0M202.0 188.9h0M202.7 191.2h0M203.4 193.3h0M204.1 197.1h0M204.8 199.9h0M205.5 203.2h0M206.3 205.6h0M207.0 208.9h0M207.7 210.5h0M208.4 212.4h0M209.1 213.5h0M209.8 215.2h0M210.5 216.4h0M211.2 217.7h0M211.9 219.1h0M212.6 220.2h0M213.4 221.5h0M214.1 222.2h0M214.8 223.1h0M215.5 224.3h0M216.2 225.3h0M216.9 226.2h0M217.6 226.9h0M218.3 226.8h0M219.0 228.1h0M219.7 228.9h0M220.5 229.1h0M221.2 229.3h0M221.9 229.9h0M222.6 230.1h0M223.3 230.7h0M224.0 230.8h0M224.7 231.5h0M225.4 231.5h0M226.1 231.4h0M226.8 232.0h0M227.6 232.3h0M228.3 232.1h0M229.0 232.3h0M229.7 231.9h0M230.4 233.0h0M231.1 232.8h0M231.8 232.5h0M232.5 232.7h0M233.2 233.3h0M233.9 233.7h0M234.7 233.6h0M235.4 233.9h0M236.1 233.6h0M236.8 233.6h0M237.5 234.3h0M238.2 234.3h0M238.9 234.3h0M239.6 234.7h0M240.3 234.2h0M241.0 234.4h0M241.8 234.9h0M242.5 235.2h0M243.2 234.8h0M243.9 235.4h0M244.6 234.8h0M245.3 235.1h0M246.0 235.1h0M246.7 234.8h0M247.4 235.4h0M248.1 235.6h0M248.9 235.4h0M249.6 235.5h0M250.3 236.0h0M251.0 235.4h0M251.7 235.4h0M252.4 235.7h0M253.1 235.7h0M253.8 236.5h0M254.5 236.2h0M255.2 236.0h0M256.0 236.1h0M256.7 237.2h0M257.4 236.3h0M258.1 236.3h0M258.8 236.7h0M259.5 236.9h0M260.2 236.8h0M260.9 236.5h0M261.6 236.5h0M262.3 237.1h0M263.1 237.0h0M263.8 236.6h0M264.5 237.4h0M265.2 237.4h0M265.9 237.1h0M266.6 237.2h0M267.3 237.4h0M268.0 237.2h0M268.7 237.0h0M269.4 237.6h0M270.2 237.1h0M270.9 237.7h0M271.6 237.2h0M272.3 237.7h0M273.0 237.7h0M273.7 238.3h0M274.4 237.6h0M275.1 237.5h0M275.8 237.8h0M276.5 237.7h0M277.3 237.8h0" stroke="#300a10" stroke-width="2.45" stroke-linecap="round"/>
</g>
<g clip-path="url(#cpb)" fill="none">
<path d="M277.6 237.9 L278.1 237.9 L278.6 237.9 L279.1 237.9 L279.6 237.9 L280.1 237.9 L280.6 237.9 L281.1 237.9 L281.6 237.9 L282.1 237.9 L282.6 237.9 L283.1 237.9 L283.6 237.9 L284.1 237.9 L284.6 237.9 L285.1 237.9 L285.6 237.9 L286.1 237.9 L286.6 237.9 L287.1 237.9 L287.6 237.9 L288.1 237.9 L288.6 237.9 L289.1 237.9 L289.6 237.9 L290.1 237.9 L290.6 237.9 L291.1 237.9 L291.6 237.9 L292.1 237.9 L292.6 237.9 L293.1 237.9 L293.6 237.9 L294.1 237.9 L294.6 237.9 L295.1 237.9 L295.6 237.9 L296.1 237.9 L296.6 237.9 L297.1 237.9 L297.6 237.9 L298.1 237.9 L298.6 237.9 L299.1 237.9 L299.6 237.9 L300.1 237.9 L300.6 237.9 L301.1 237.9 L301.6 237.9 L302.1 237.9 L302.6 237.9 L303.1 237.9 L303.6 237.8 L304.1 237.8 L304.6 237.8 L305.1 237.8 L305.6 237.8 L306.1 237.8 L306.6 237.8 L307.1 237.8 L307.6 237.8 L308.1 237.8 L308.6 237.8 L309.1 237.8 L309.6 237.8 L310.1 237.8 L310.6 237.8 L311.1 237.8 L311.6 237.8 L312.1 237.8 L312.6 237.8 L313.1 237.8 L313.6 237.8 L314.1 237.8 L314.6 237.8 L315.1 237.8 L315.6 237.8 L316.1 237.8 L316.6 237.8 L317.1 237.8 L317.6 237.8 L318.1 237.8 L318.6 237.8 L319.1 237.8 L319.6 237.8 L320.1 237.8 L320.6 237.8 L321.1 237.8 L321.6 237.8 L322.1 237.8 L322.6 237.8 L323.1 237.8 L323.6 237.8 L324.1 237.8 L324.6 237.7 L325.1 237.7 L325.6 237.7 L326.1 237.7 L326.6 237.7 L327.1 237.7 L327.6 237.7 L328.1 237.7 L328.6 237.7 L329.1 237.7 L329.6 237.7 L330.1 237.7 L330.6 237.7 L331.1 237.7 L331.6 237.7 L332.1 237.7 L332.6 237.7 L333.1 237.7 L333.6 237.7 L334.1 237.7 L334.6 237.7 L335.1 237.6 L335.6 237.6 L336.1 237.6 L336.6 237.6 L337.1 237.6 L337.6 237.6 L338.1 237.6 L338.6 237.6 L339.1 237.6 L339.6 237.6 L340.1 237.5 L340.6 237.5 L341.1 237.5 L341.6 237.5 L342.1 237.5 L342.6 237.4 L343.1 237.4 L343.6 237.4 L344.1 237.4 L344.6 237.3 L345.1 237.3 L345.6 237.2 L346.1 237.2 L346.6 237.1 L347.1 237.1 L347.6 237.0 L348.1 236.9 L348.6 236.8 L349.1 236.7 L349.6 236.6 L350.1 236.5 L350.6 236.3 L351.1 236.2 L351.6 236.0 L352.1 235.8 L352.6 235.5 L353.1 235.3 L353.6 235.0 L354.1 234.7 L354.6 234.4 L355.1 234.0 L355.6 233.6 L356.1 233.2 L356.6 232.7 L357.1 232.2 L357.6 231.6 L358.1 231.0 L358.6 230.3 L359.1 229.6 L359.6 228.9 L360.1 228.0 L360.6 227.2 L361.1 226.2 L361.6 225.2 L362.1 224.2 L362.6 223.0 L363.1 221.9 L363.6 220.6 L364.1 219.3 L364.6 217.9 L365.1 216.5 L365.6 215.0 L366.1 213.5 L366.6 211.9 L367.1 210.3 L367.6 208.6 L368.1 206.9 L368.6 205.2 L369.1 203.4 L369.6 201.6 L370.1 199.8 L370.6 198.0 L371.1 196.2 L371.6 194.4 L372.1 192.6 L372.6 190.9 L373.1 189.2 L373.6 187.5 L374.1 185.9 L374.6 184.4 L375.1 182.9 L375.6 181.5 L376.1 180.2 L376.6 179.0 L377.1 177.9 L377.6 177.0 L378.1 176.1 L378.6 175.4 L379.1 174.8 L379.6 174.3 L380.1 174.0 L380.6 173.8 L381.1 173.8 L381.6 173.9 L382.1 174.1 L382.6 174.5 L383.1 175.0 L383.6 175.7 L384.1 176.4 L384.6 177.3 L385.1 178.3 L385.6 179.4 L386.1 180.6 L386.6 181.8 L387.1 183.2 L387.6 184.6 L388.1 186.1 L388.6 187.5 L389.1 189.1 L389.6 190.6 L390.1 192.2 L390.6 193.7 L391.1 195.3 L391.6 196.8 L392.1 198.2 L392.6 199.6 L393.1 201.0 L393.6 202.3 L394.1 203.5 L394.6 204.6 L395.1 205.7 L395.6 206.6 L396.1 207.4 L396.6 208.0 L397.1 208.6 L397.6 209.0 L398.1 209.3 L398.6 209.4 L399.1 209.3 L399.6 209.1 L400.1 208.7 L400.6 208.2 L401.1 207.5 L401.6 206.6 L402.1 205.5 L402.6 204.3 L403.1 202.9 L403.6 201.3 L404.1 199.5 L404.6 197.6 L405.1 195.5 L405.6 193.2 L406.1 190.8 L406.6 188.2 L407.1 185.5 L407.6 182.7 L408.1 179.7 L408.6 176.7 L409.1 173.5 L409.6 170.2 L410.1 166.9 L410.6 163.5 L411.1 160.1 L411.6 156.6 L412.1 153.2 L412.6 149.7 L413.1 146.3 L413.6 142.9 L414.1 139.6 L414.6 136.4 L415.1 133.3 L415.6 130.3 L416.1 127.5 L416.6 124.8 L417.1 122.3 L417.6 120.1 L418.1 118.0 L418.6 116.1 L419.1 114.5 L419.6 113.2 L420.1 112.1 L420.6 111.3 L421.1 110.8 L421.6 110.5 L422.1 110.6 L422.6 110.9 L423.1 111.5 L423.6 112.4 L424.1 113.6 L424.6 115.0 L425.1 116.7 L425.6 118.6 L426.1 120.8 L426.6 123.1 L427.1 125.7 L427.6 128.5 L428.1 131.4 L428.6 134.5 L429.1 137.7 L429.6 141.0 L430.1 144.4 L430.6 147.9 L431.1 151.4 L431.6 155.0 L432.1 158.6 L432.6 162.2 L433.1 165.7 L433.6 169.3 L434.1 172.8 L434.6 176.3 L435.1 179.7 L435.6 183.1 L436.1 186.3 L436.6 189.5 L437.1 192.5 L437.6 195.5 L438.1 198.3 L438.6 201.0 L439.1 203.6 L439.6 206.1 L440.1 208.5 L440.6 210.7 L441.1 212.8 L441.6 214.8 L442.1 216.7 L442.6 218.5 L443.1 220.1 L443.6 221.6 L444.1 223.1 L444.6 224.4 L445.1 225.6 L445.6 226.7 L446.1 227.8 L446.6 228.7 L447.1 229.6 L447.6 230.4 L448.1 231.1 L448.6 231.8 L449.1 232.4 L449.6 232.9 L450.1 233.4 L450.6 233.8 L451.1 234.2 L451.6 234.6 L452.1 234.9 L452.6 235.2 L453.1 235.5 L453.6 235.7 L454.1 235.9 L454.6 236.1 L455.1 236.2 L455.6 236.4 L456.1 236.5 L456.6 236.6 L457.1 236.7 L457.6 236.8 L458.1 236.9 L458.6 237.0 L459.1 237.0 L459.6 237.1 L460.1 237.1 L460.6 237.2 L461.1 237.2 L461.6 237.2 L462.1 237.3 L462.6 237.3 L463.1 237.3 L463.6 237.4 L464.1 237.4 L464.6 237.4 L465.1 237.4 L465.6 237.4 L466.1 237.4 L466.6 237.5 L467.1 237.5 L467.6 237.5 L468.1 237.5 L468.6 237.5 L469.1 237.5 L469.6 237.5 L470.1 237.5 L470.6 237.5 L471.1 237.6 L471.6 237.6 L472.1 237.6 L472.6 237.6 L473.1 237.6 L473.6 237.6 L474.1 237.6 L474.6 237.6 L475.1 237.6 L475.6 237.6 L476.1 237.6 L476.6 237.6 L477.1 237.6 L477.6 237.6 L478.1 237.6 L478.6 237.7 L479.1 237.7 L479.6 237.7 L480.1 237.7 L480.6 237.7 L481.1 237.7 L481.6 237.7 L482.1 237.7 L482.6 237.7 L483.1 237.7 L483.6 237.7 L484.1 237.7 L484.6 237.7 L485.1 237.7 L485.6 237.7 L486.1 237.7 L486.6 237.7 L487.1 237.7 L487.6 237.7 L488.1 237.7 L488.6 237.7 L489.1 237.7 L489.6 237.7 L490.1 237.8 L490.6 237.8 L491.1 237.8 L491.6 237.8 L492.1 237.8 L492.6 237.8 L493.1 237.8 L493.6 237.8 L494.1 237.8 L494.6 237.8 L495.1 237.8 L495.6 237.8 L496.1 237.8 L496.6 237.8 L497.1 237.8 L497.6 237.8 L498.1 237.8 L498.6 237.8 L499.1 237.8 L499.6 237.8 L500.1 237.8 L500.6 237.8 L501.1 237.8 L501.6 237.8 L502.1 237.8 L502.6 237.8 L503.1 237.8 L503.6 237.8 L504.1 237.8 L504.6 237.8 L505.1 237.8 L505.6 237.8 L506.1 237.8 L506.6 237.8 L507.1 237.8 L507.6 237.8 L508.1 237.8 L508.6 237.8 L509.1 237.8 L509.6 237.8 L510.1 237.8 L510.6 237.8 L511.1 237.8 L511.6 237.9 L512.1 237.9 L512.6 237.9 L513.1 237.9 L513.6 237.9 L514.1 237.9 L514.6 237.9 L515.1 237.9 L515.6 237.9 L516.1 237.9 L516.6 237.9 L517.1 237.9 L517.6 237.9 L518.1 237.9 L518.6 237.9 L519.1 237.9 L519.6 237.9 L520.1 237.9 L520.6 237.9 L521.1 237.9 L521.6 237.9 L522.1 237.9 L522.6 237.9 L523.1 237.9 L523.6 237.9" stroke="#a4a4a4" stroke-width="1.4"/>
<path d="M277.6 238.0 L278.1 238.0 L278.6 238.0 L279.1 238.0 L279.6 238.0 L280.1 238.0 L280.6 238.0 L281.1 238.0 L281.6 238.0 L282.1 238.0 L282.6 238.0 L283.1 238.0 L283.6 238.0 L284.1 238.0 L284.6 238.0 L285.1 238.0 L285.6 238.0 L286.1 238.0 L286.6 238.0 L287.1 238.0 L287.6 238.0 L288.1 238.0 L288.6 238.0 L289.1 238.0 L289.6 238.0 L290.1 238.0 L290.6 238.0 L291.1 238.0 L291.6 238.0 L292.1 238.0 L292.6 238.0 L293.1 238.0 L293.6 238.0 L294.1 238.0 L294.6 238.0 L295.1 238.0 L295.6 238.0 L296.1 238.0 L296.6 237.9 L297.1 237.9 L297.6 237.9 L298.1 237.9 L298.6 237.9 L299.1 237.9 L299.6 237.9 L300.1 237.9 L300.6 237.9 L301.1 237.9 L301.6 237.9 L302.1 237.9 L302.6 237.9 L303.1 237.9 L303.6 237.9 L304.1 237.9 L304.6 237.9 L305.1 237.9 L305.6 237.9 L306.1 237.9 L306.6 237.9 L307.1 237.9 L307.6 237.9 L308.1 237.9 L308.6 237.9 L309.1 237.9 L309.6 237.9 L310.1 237.9 L310.6 237.9 L311.1 237.9 L311.6 237.9 L312.1 237.9 L312.6 237.9 L313.1 237.9 L313.6 237.9 L314.1 237.9 L314.6 237.9 L315.1 237.9 L315.6 237.9 L316.1 237.9 L316.6 237.9 L317.1 237.9 L317.6 237.9 L318.1 237.9 L318.6 237.9 L319.1 237.9 L319.6 237.9 L320.1 237.9 L320.6 237.9 L321.1 237.9 L321.6 237.9 L322.1 237.9 L322.6 237.9 L323.1 237.9 L323.6 237.9 L324.1 237.9 L324.6 237.9 L325.1 237.9 L325.6 237.9 L326.1 237.9 L326.6 237.9 L327.1 237.9 L327.6 237.9 L328.1 237.9 L328.6 237.9 L329.1 237.9 L329.6 237.9 L330.1 237.9 L330.6 237.9 L331.1 237.9 L331.6 237.9 L332.1 237.9 L332.6 237.9 L333.1 237.9 L333.6 237.9 L334.1 237.9 L334.6 237.9 L335.1 237.9 L335.6 237.9 L336.1 237.9 L336.6 237.9 L337.1 237.9 L337.6 237.9 L338.1 237.9 L338.6 237.9 L339.1 237.9 L339.6 237.9 L340.1 237.9 L340.6 237.9 L341.1 237.9 L341.6 237.9 L342.1 237.9 L342.6 237.9 L343.1 237.9 L343.6 237.8 L344.1 237.8 L344.6 237.8 L345.1 237.8 L345.6 237.8 L346.1 237.8 L346.6 237.8 L347.1 237.8 L347.6 237.8 L348.1 237.8 L348.6 237.8 L349.1 237.8 L349.6 237.8 L350.1 237.8 L350.6 237.8 L351.1 237.8 L351.6 237.8 L352.1 237.8 L352.6 237.8 L353.1 237.8 L353.6 237.7 L354.1 237.7 L354.6 237.7 L355.1 237.7 L355.6 237.7 L356.1 237.7 L356.6 237.6 L357.1 237.6 L357.6 237.6 L358.1 237.6 L358.6 237.5 L359.1 237.5 L359.6 237.4 L360.1 237.4 L360.6 237.3 L361.1 237.3 L361.6 237.2 L362.1 237.1 L362.6 237.0 L363.1 237.0 L363.6 236.9 L364.1 236.7 L364.6 236.6 L365.1 236.5 L365.6 236.3 L366.1 236.2 L366.6 236.0 L367.1 235.8 L367.6 235.6 L368.1 235.3 L368.6 235.1 L369.1 234.8 L369.6 234.5 L370.1 234.2 L370.6 233.8 L371.1 233.5 L371.6 233.1 L372.1 232.7 L372.6 232.2 L373.1 231.8 L373.6 231.3 L374.1 230.7 L374.6 230.2 L375.1 229.6 L375.6 229.0 L376.1 228.4 L376.6 227.7 L377.1 227.0 L377.6 226.3 L378.1 225.6 L378.6 224.9 L379.1 224.1 L379.6 223.4 L380.1 222.6 L380.6 221.8 L381.1 221.0 L381.6 220.2 L382.1 219.4 L382.6 218.6 L383.1 217.8 L383.6 217.0 L384.1 216.3 L384.6 215.5 L385.1 214.8 L385.6 214.1 L386.1 213.4 L386.6 212.8 L387.1 212.2 L387.6 211.6 L388.1 211.1 L388.6 210.6 L389.1 210.2 L389.6 209.9 L390.1 209.5 L390.6 209.3 L391.1 209.1 L391.6 209.0 L392.1 208.9 L392.6 208.9 L393.1 208.9 L393.6 209.1 L394.1 209.2 L394.6 209.5 L395.1 209.7 L395.6 210.1 L396.1 210.5 L396.6 210.9 L397.1 211.4 L397.6 211.9 L398.1 212.4 L398.6 213.0 L399.1 213.6 L399.6 214.3 L400.1 214.9 L400.6 215.6 L401.1 216.2 L401.6 216.9 L402.1 217.5 L402.6 218.2 L403.1 218.8 L403.6 219.5 L404.1 220.0 L404.6 220.6 L405.1 221.1 L405.6 221.6 L406.1 222.1 L406.6 222.5 L407.1 222.9 L407.6 223.2 L408.1 223.4 L408.6 223.6 L409.1 223.7 L409.6 223.8 L410.1 223.8 L410.6 223.7 L411.1 223.5 L411.6 223.3 L412.1 223.0 L412.6 222.6 L413.1 222.2 L413.6 221.6 L414.1 221.0 L414.6 220.3 L415.1 219.5 L415.6 218.7 L416.1 217.8 L416.6 216.8 L417.1 215.7 L417.6 214.6 L418.1 213.4 L418.6 212.1 L419.1 210.8 L419.6 209.5 L420.1 208.1 L420.6 206.7 L421.1 205.2 L421.6 203.7 L422.1 202.2 L422.6 200.7 L423.1 199.2 L423.6 197.7 L424.1 196.2 L424.6 194.7 L425.1 193.2 L425.6 191.8 L426.1 190.4 L426.6 189.1 L427.1 187.9 L427.6 186.7 L428.1 185.6 L428.6 184.6 L429.1 183.7 L429.6 182.8 L430.1 182.1 L430.6 181.5 L431.1 181.0 L431.6 180.6 L432.1 180.4 L432.6 180.3 L433.1 180.3 L433.6 180.4 L434.1 180.6 L434.6 181.0 L435.1 181.5 L435.6 182.1 L436.1 182.8 L436.6 183.6 L437.1 184.5 L437.6 185.6 L438.1 186.7 L438.6 187.9 L439.1 189.1 L439.6 190.5 L440.1 191.9 L440.6 193.3 L441.1 194.8 L441.6 196.3 L442.1 197.9 L442.6 199.5 L443.1 201.0 L443.6 202.6 L444.1 204.2 L444.6 205.8 L445.1 207.4 L445.6 209.0 L446.1 210.5 L446.6 212.0 L447.1 213.5 L447.6 214.9 L448.1 216.3 L448.6 217.7 L449.1 219.0 L449.6 220.2 L450.1 221.4 L450.6 222.6 L451.1 223.7 L451.6 224.7 L452.1 225.7 L452.6 226.6 L453.1 227.5 L453.6 228.3 L454.1 229.1 L454.6 229.9 L455.1 230.5 L455.6 231.2 L456.1 231.8 L456.6 232.3 L457.1 232.8 L457.6 233.3 L458.1 233.7 L458.6 234.1 L459.1 234.5 L459.6 234.8 L460.1 235.1 L460.6 235.4 L461.1 235.6 L461.6 235.8 L462.1 236.0 L462.6 236.2 L463.1 236.4 L463.6 236.5 L464.1 236.7 L464.6 236.8 L465.1 236.9 L465.6 237.0 L466.1 237.1 L466.6 237.2 L467.1 237.2 L467.6 237.3 L468.1 237.3 L468.6 237.4 L469.1 237.4 L469.6 237.5 L470.1 237.5 L470.6 237.5 L471.1 237.6 L471.6 237.6 L472.1 237.6 L472.6 237.6 L473.1 237.6 L473.6 237.7 L474.1 237.7 L474.6 237.7 L475.1 237.7 L475.6 237.7 L476.1 237.7 L476.6 237.7 L477.1 237.7 L477.6 237.7 L478.1 237.7 L478.6 237.8 L479.1 237.8 L479.6 237.8 L480.1 237.8 L480.6 237.8 L481.1 237.8 L481.6 237.8 L482.1 237.8 L482.6 237.8 L483.1 237.8 L483.6 237.8 L484.1 237.8 L484.6 237.8 L485.1 237.8 L485.6 237.8 L486.1 237.8 L486.6 237.8 L487.1 237.8 L487.6 237.8 L488.1 237.8 L488.6 237.8 L489.1 237.8 L489.6 237.8 L490.1 237.8 L490.6 237.8 L491.1 237.8 L491.6 237.8 L492.1 237.8 L492.6 237.9 L493.1 237.9 L493.6 237.9 L494.1 237.9 L494.6 237.9 L495.1 237.9 L495.6 237.9 L496.1 237.9 L496.6 237.9 L497.1 237.9 L497.6 237.9 L498.1 237.9 L498.6 237.9 L499.1 237.9 L499.6 237.9 L500.1 237.9 L500.6 237.9 L501.1 237.9 L501.6 237.9 L502.1 237.9 L502.6 237.9 L503.1 237.9 L503.6 237.9 L504.1 237.9 L504.6 237.9 L505.1 237.9 L505.6 237.9 L506.1 237.9 L506.6 237.9 L507.1 237.9 L507.6 237.9 L508.1 237.9 L508.6 237.9 L509.1 237.9 L509.6 237.9 L510.1 237.9 L510.6 237.9 L511.1 237.9 L511.6 237.9 L512.1 237.9 L512.6 237.9 L513.1 237.9 L513.6 237.9 L514.1 237.9 L514.6 237.9 L515.1 237.9 L515.6 237.9 L516.1 237.9 L516.6 237.9 L517.1 237.9 L517.6 237.9 L518.1 237.9 L518.6 237.9 L519.1 237.9 L519.6 237.9 L520.1 237.9 L520.6 237.9 L521.1 237.9 L521.6 237.9 L522.1 237.9 L522.6 237.9 L523.1 237.9 L523.6 237.9" stroke="#7c2c32" stroke-width="1.4"/>
<path d="M277.6 238.0 L278.1 238.0 L278.6 238.0 L279.1 238.0 L279.6 238.0 L280.1 238.0 L280.6 238.0 L281.1 238.0 L281.6 238.0 L282.1 238.0 L282.6 238.0 L283.1 238.0 L283.6 238.0 L284.1 238.0 L284.6 238.0 L285.1 237.9 L285.6 237.9 L286.1 237.9 L286.6 237.9 L287.1 237.9 L287.6 237.9 L288.1 237.9 L288.6 237.9 L289.1 237.9 L289.6 237.9 L290.1 237.9 L290.6 237.9 L291.1 237.9 L291.6 237.9 L292.1 237.9 L292.6 237.9 L293.1 237.9 L293.6 237.9 L294.1 237.9 L294.6 237.9 L295.1 237.9 L295.6 237.9 L296.1 237.9 L296.6 237.9 L297.1 237.9 L297.6 237.9 L298.1 237.9 L298.6 237.9 L299.1 237.9 L299.6 237.9 L300.1 237.9 L300.6 237.9 L301.1 237.9 L301.6 237.9 L302.1 237.9 L302.6 237.9 L303.1 237.9 L303.6 237.9 L304.1 237.9 L304.6 237.9 L305.1 237.9 L305.6 237.9 L306.1 237.9 L306.6 237.9 L307.1 237.9 L307.6 237.9 L308.1 237.9 L308.6 237.9 L309.1 237.9 L309.6 237.9 L310.1 237.9 L310.6 237.9 L311.1 237.9 L311.6 237.9 L312.1 237.9 L312.6 237.9 L313.1 237.9 L313.6 237.9 L314.1 237.9 L314.6 237.9 L315.1 237.9 L315.6 237.9 L316.1 237.9 L316.6 237.9 L317.1 237.9 L317.6 237.9 L318.1 237.9 L318.6 237.9 L319.1 237.9 L319.6 237.9 L320.1 237.9 L320.6 237.9 L321.1 237.9 L321.6 237.9 L322.1 237.9 L322.6 237.9 L323.1 237.9 L323.6 237.9 L324.1 237.9 L324.6 237.9 L325.1 237.9 L325.6 237.9 L326.1 237.9 L326.6 237.8 L327.1 237.8 L327.6 237.8 L328.1 237.8 L328.6 237.8 L329.1 237.8 L329.6 237.8 L330.1 237.8 L330.6 237.8 L331.1 237.8 L331.6 237.8 L332.1 237.8 L332.6 237.8 L333.1 237.8 L333.6 237.8 L334.1 237.8 L334.6 237.8 L335.1 237.7 L335.6 237.7 L336.1 237.7 L336.6 237.7 L337.1 237.7 L337.6 237.6 L338.1 237.6 L338.6 237.6 L339.1 237.5 L339.6 237.5 L340.1 237.5 L340.6 237.4 L341.1 237.3 L341.6 237.3 L342.1 237.2 L342.6 237.1 L343.1 237.0 L343.6 236.9 L344.1 236.8 L344.6 236.7 L345.1 236.5 L345.6 236.3 L346.1 236.2 L346.6 236.0 L347.1 235.7 L347.6 235.5 L348.1 235.2 L348.6 235.0 L349.1 234.6 L349.6 234.3 L350.1 233.9 L350.6 233.5 L351.1 233.1 L351.6 232.7 L352.1 232.2 L352.6 231.7 L353.1 231.1 L353.6 230.5 L354.1 229.9 L354.6 229.3 L355.1 228.6 L355.6 227.9 L356.1 227.1 L356.6 226.4 L357.1 225.6 L357.6 224.8 L358.1 224.0 L358.6 223.1 L359.1 222.3 L359.6 221.4 L360.1 220.5 L360.6 219.7 L361.1 218.8 L361.6 217.9 L362.1 217.1 L362.6 216.3 L363.1 215.4 L363.6 214.7 L364.1 213.9 L364.6 213.2 L365.1 212.5 L365.6 211.9 L366.1 211.4 L366.6 210.8 L367.1 210.4 L367.6 210.0 L368.1 209.7 L368.6 209.4 L369.1 209.3 L369.6 209.2 L370.1 209.1 L370.6 209.2 L371.1 209.3 L371.6 209.5 L372.1 209.8 L372.6 210.1 L373.1 210.5 L373.6 210.9 L374.1 211.5 L374.6 212.0 L375.1 212.7 L375.6 213.3 L376.1 214.0 L376.6 214.8 L377.1 215.5 L377.6 216.3 L378.1 217.1 L378.6 217.9 L379.1 218.7 L379.6 219.6 L380.1 220.4 L380.6 221.2 L381.1 222.0 L381.6 222.7 L382.1 223.5 L382.6 224.2 L383.1 224.9 L383.6 225.5 L384.1 226.1 L384.6 226.7 L385.1 227.2 L385.6 227.6 L386.1 228.0 L386.6 228.3 L387.1 228.6 L387.6 228.8 L388.1 229.0 L388.6 229.1 L389.1 229.1 L389.6 229.0 L390.1 228.9 L390.6 228.6 L391.1 228.3 L391.6 228.0 L392.1 227.5 L392.6 227.0 L393.1 226.4 L393.6 225.7 L394.1 224.9 L394.6 224.0 L395.1 223.1 L395.6 222.1 L396.1 221.0 L396.6 219.8 L397.1 218.5 L397.6 217.2 L398.1 215.8 L398.6 214.4 L399.1 212.9 L399.6 211.3 L400.1 209.7 L400.6 208.1 L401.1 206.4 L401.6 204.7 L402.1 203.0 L402.6 201.3 L403.1 199.6 L403.6 197.9 L404.1 196.2 L404.6 194.6 L405.1 193.0 L405.6 191.5 L406.1 190.0 L406.6 188.6 L407.1 187.3 L407.6 186.0 L408.1 184.9 L408.6 183.9 L409.1 183.0 L409.6 182.3 L410.1 181.6 L410.6 181.2 L411.1 180.8 L411.6 180.6 L412.1 180.6 L412.6 180.7 L413.1 181.0 L413.6 181.4 L414.1 181.9 L414.6 182.6 L415.1 183.4 L415.6 184.3 L416.1 185.4 L416.6 186.6 L417.1 187.8 L417.6 189.2 L418.1 190.7 L418.6 192.2 L419.1 193.8 L419.6 195.4 L420.1 197.1 L420.6 198.8 L421.1 200.5 L421.6 202.2 L422.1 204.0 L422.6 205.7 L423.1 207.4 L423.6 209.1 L424.1 210.8 L424.6 212.4 L425.1 214.0 L425.6 215.6 L426.1 217.1 L426.6 218.5 L427.1 219.9 L427.6 221.2 L428.1 222.5 L428.6 223.7 L429.1 224.8 L429.6 225.9 L430.1 226.9 L430.6 227.8 L431.1 228.7 L431.6 229.5 L432.1 230.3 L432.6 231.0 L433.1 231.7 L433.6 232.3 L434.1 232.8 L434.6 233.3 L435.1 233.8 L435.6 234.2 L436.1 234.6 L436.6 235.0 L437.1 235.3 L437.6 235.6 L438.1 235.8 L438.6 236.0 L439.1 236.2 L439.6 236.4 L440.1 236.6 L440.6 236.7 L441.1 236.8 L441.6 237.0 L442.1 237.1 L442.6 237.1 L443.1 237.2 L443.6 237.3 L444.1 237.3 L444.6 237.4 L445.1 237.4 L445.6 237.5 L446.1 237.5 L446.6 237.6 L447.1 237.6 L447.6 237.6 L448.1 237.6 L448.6 237.6 L449.1 237.7 L449.6 237.7 L450.1 237.7 L450.6 237.7 L451.1 237.7 L451.6 237.7 L452.1 237.7 L452.6 237.7 L453.1 237.7 L453.6 237.8 L454.1 237.8 L454.6 237.8 L455.1 237.8 L455.6 237.8 L456.1 237.8 L456.6 237.8 L457.1 237.8 L457.6 237.8 L458.1 237.8 L458.6 237.8 L459.1 237.8 L459.6 237.8 L460.1 237.8 L460.6 237.8 L461.1 237.8 L461.6 237.8 L462.1 237.8 L462.6 237.8 L463.1 237.8 L463.6 237.8 L464.1 237.8 L464.6 237.8 L465.1 237.8 L465.6 237.8 L466.1 237.9 L466.6 237.9 L467.1 237.9 L467.6 237.9 L468.1 237.9 L468.6 237.9 L469.1 237.9 L469.6 237.9 L470.1 237.9 L470.6 237.9 L471.1 237.9 L471.6 237.9 L472.1 237.9 L472.6 237.9 L473.1 237.9 L473.6 237.9 L474.1 237.9 L474.6 237.9 L475.1 237.9 L475.6 237.9 L476.1 237.9 L476.6 237.9 L477.1 237.9 L477.6 237.9 L478.1 237.9 L478.6 237.9 L479.1 237.9 L479.6 237.9 L480.1 237.9 L480.6 237.9 L481.1 237.9 L481.6 237.9 L482.1 237.9 L482.6 237.9 L483.1 237.9 L483.6 237.9 L484.1 237.9 L484.6 237.9 L485.1 237.9 L485.6 237.9 L486.1 237.9 L486.6 237.9 L487.1 237.9 L487.6 237.9 L488.1 237.9 L488.6 237.9 L489.1 237.9 L489.6 237.9 L490.1 237.9 L490.6 237.9 L491.1 237.9 L491.6 237.9 L492.1 237.9 L492.6 237.9 L493.1 237.9 L493.6 237.9 L494.1 237.9 L494.6 237.9 L495.1 237.9 L495.6 237.9 L496.1 237.9 L496.6 237.9 L497.1 237.9 L497.6 237.9 L498.1 237.9 L498.6 237.9 L499.1 237.9 L499.6 237.9 L500.1 237.9 L500.6 237.9 L501.1 237.9 L501.6 237.9 L502.1 237.9 L502.6 237.9 L503.1 237.9 L503.6 237.9 L504.1 237.9 L504.6 237.9 L505.1 237.9 L505.6 237.9 L506.1 237.9 L506.6 237.9 L507.1 237.9 L507.6 237.9 L508.1 237.9 L508.6 237.9 L509.1 237.9 L509.6 237.9 L510.1 238.0 L510.6 238.0 L511.1 238.0 L511.6 238.0 L512.1 238.0 L512.6 238.0 L513.1 238.0 L513.6 238.0 L514.1 238.0 L514.6 238.0 L515.1 238.0 L515.6 238.0 L516.1 238.0 L516.6 238.0 L517.1 238.0 L517.6 238.0 L518.1 238.0 L518.6 238.0 L519.1 238.0 L519.6 238.0 L520.1 238.0 L520.6 238.0 L521.1 238.0 L521.6 238.0 L522.1 238.0 L522.6 238.0 L523.1 238.0 L523.6 238.0" stroke="#303030" stroke-width="1.5"/>
<path d="M277.6 226.1 L278.1 226.1 L278.6 226.1 L279.1 226.1 L279.6 226.1 L280.1 226.1 L280.6 226.1 L281.1 226.1 L281.6 226.1 L282.1 226.1 L282.6 226.1 L283.1 226.1 L283.6 226.1 L284.1 226.1 L284.6 226.1 L285.1 226.1 L285.6 226.1 L286.1 226.2 L286.6 226.2 L287.1 226.2 L287.6 226.2 L288.1 226.2 L288.6 226.2 L289.1 226.2 L289.6 226.2 L290.1 226.2 L290.6 226.3 L291.1 226.3 L291.6 226.3 L292.1 226.3 L292.6 226.3 L293.1 226.3 L293.6 226.3 L294.1 226.3 L294.6 226.4 L295.1 226.4 L295.6 226.4 L296.1 226.4 L296.6 226.4 L297.1 226.4 L297.6 226.4 L298.1 226.5 L298.6 226.5 L299.1 226.5 L299.6 226.5 L300.1 226.5 L300.6 226.5 L301.1 226.5 L301.6 226.6 L302.1 226.6 L302.6 226.6 L303.1 226.6 L303.6 226.6 L304.1 226.6 L304.6 226.6 L305.1 226.6 L305.6 226.6 L306.1 226.6 L306.6 226.7 L307.1 226.7 L307.6 226.7 L308.1 226.7 L308.6 226.7 L309.1 226.7 L309.6 226.7 L310.1 226.7 L310.6 226.7 L311.1 226.7 L311.6 226.7 L312.1 226.7 L312.6 226.7 L313.1 226.7 L313.6 226.7 L314.1 226.7 L314.6 226.7 L315.1 226.7 L315.6 226.7 L316.1 226.7 L316.6 226.7 L317.1 226.7 L317.6 226.7 L318.1 226.7 L318.6 226.7 L319.1 226.7 L319.6 226.6 L320.1 226.6 L320.6 226.6 L321.1 226.6 L321.6 226.6 L322.1 226.6 L322.6 226.6 L323.1 226.6 L323.6 226.6 L324.1 226.6 L324.6 226.6 L325.1 226.6 L325.6 226.5 L326.1 226.5 L326.6 226.5 L327.1 226.5 L327.6 226.5 L328.1 226.5 L328.6 226.5 L329.1 226.5 L329.6 226.5 L330.1 226.4 L330.6 226.4 L331.1 226.4 L331.6 226.4 L332.1 226.4 L332.6 226.4 L333.1 226.3 L333.6 226.3 L334.1 226.3 L334.6 226.3 L335.1 226.3 L335.6 226.2 L336.1 226.2 L336.6 226.2 L337.1 226.1 L337.6 226.1 L338.1 226.0 L338.6 226.0 L339.1 225.9 L339.6 225.9 L340.1 225.8 L340.6 225.7 L341.1 225.6 L341.6 225.5 L342.1 225.4 L342.6 225.2 L343.1 225.1 L343.6 225.0 L344.1 224.8 L344.6 224.6 L345.1 224.4 L345.6 224.2 L346.1 224.0 L346.6 223.7 L347.1 223.4 L347.6 223.1 L348.1 222.8 L348.6 222.5 L349.1 222.1 L349.6 221.8 L350.1 221.3 L350.6 220.9 L351.1 220.3 L351.6 219.8 L352.1 219.2 L352.6 218.5 L353.1 217.8 L353.6 217.0 L354.1 216.2 L354.6 215.4 L355.1 214.4 L355.6 213.4 L356.1 212.4 L356.6 211.3 L357.1 210.1 L357.6 209.0 L358.1 207.8 L358.6 206.5 L359.1 205.1 L359.6 203.5 L360.1 201.7 L360.6 199.3 L361.1 196.4 L361.6 193.2 L362.1 190.1 L362.6 187.4 L363.1 184.9 L363.6 182.4 L364.1 179.9 L364.6 177.4 L365.1 174.9 L365.6 172.4 L366.1 169.8 L366.6 167.2 L367.1 164.6 L367.6 162.1 L368.1 159.7 L368.6 157.5 L369.1 155.3 L369.6 153.2 L370.1 151.2 L370.6 149.3 L371.1 147.4 L371.6 145.6 L372.1 143.9 L372.6 142.3 L373.1 140.8 L373.6 139.4 L374.1 138.1 L374.6 136.9 L375.1 135.7 L375.6 134.7 L376.1 133.7 L376.6 132.9 L377.1 132.1 L377.6 131.5 L378.1 131.0 L378.6 130.6 L379.1 130.3 L379.6 130.2 L380.1 130.1 L380.6 130.1 L381.1 130.3 L381.6 130.6 L382.1 131.0 L382.6 131.5 L383.1 132.0 L383.6 132.7 L384.1 133.4 L384.6 134.2 L385.1 135.0 L385.6 135.9 L386.1 136.8 L386.6 137.7 L387.1 138.7 L387.6 139.7 L388.1 140.8 L388.6 141.9 L389.1 143.0 L389.6 144.2 L390.1 145.3 L390.6 146.5 L391.1 147.6 L391.6 148.7 L392.1 149.8 L392.6 150.8 L393.1 151.8 L393.6 152.7 L394.1 153.6 L394.6 154.3 L395.1 154.9 L395.6 155.3 L396.1 155.5 L396.6 155.5 L397.1 155.2 L397.6 154.8 L398.1 154.2 L398.6 153.4 L399.1 152.4 L399.6 151.2 L400.1 149.8 L400.6 147.8 L401.1 145.3 L401.6 142.6 L402.1 139.8 L402.6 137.0 L403.1 134.5 L403.6 132.3 L404.1 130.1 L404.6 127.8 L405.1 125.3 L405.6 122.4 L406.1 119.1 L406.6 115.0 L407.1 110.5 L407.6 106.1 L408.1 102.0 L408.6 98.0 L409.1 94.0 L409.6 90.0 L410.1 86.0 L410.6 82.1 L411.1 78.2 L411.6 74.5 L412.1 71.2 L412.6 68.2 L413.1 65.1 L413.6 61.8 L414.1 58.5 L414.6 55.2 L415.1 52.1 L415.6 49.1 L416.1 46.5 L416.6 44.0 L417.1 41.8 L417.6 39.8 L418.1 38.0 L418.6 36.5 L419.1 35.6 L419.6 35.4 L420.1 35.4 L420.6 35.3 L421.1 35.1 L421.6 35.0 L422.1 35.2 L422.6 35.6 L423.1 36.4 L423.6 37.5 L424.1 39.3 L424.6 41.7 L425.1 44.4 L425.6 47.0 L426.1 49.4 L426.6 51.9 L427.1 54.7 L427.6 57.5 L428.1 60.6 L428.6 63.8 L429.1 66.9 L429.6 70.0 L430.1 73.2 L430.6 76.7 L431.1 80.4 L431.6 84.3 L432.1 88.4 L432.6 92.4 L433.1 96.4 L433.6 100.5 L434.1 104.4 L434.6 107.5 L435.1 109.9 L435.6 112.7 L436.1 116.9 L436.6 122.0 L437.1 127.2 L437.6 131.6 L438.1 135.0 L438.6 137.9 L439.1 140.8 L439.6 144.1 L440.1 148.7 L440.6 154.2 L441.1 159.1 L441.6 162.8 L442.1 166.3 L442.6 169.7 L443.1 173.0 L443.6 176.2 L444.1 179.4 L444.6 182.3 L445.1 185.0 L445.6 187.6 L446.1 189.9 L446.6 192.3 L447.1 194.5 L447.6 196.8 L448.1 199.0 L448.6 201.2 L449.1 203.3 L449.6 205.2 L450.1 207.1 L450.6 208.9 L451.1 210.6 L451.6 212.2 L452.1 213.7 L452.6 215.2 L453.1 216.5 L453.6 217.8 L454.1 218.9 L454.6 219.9 L455.1 220.8 L455.6 221.6 L456.1 222.3 L456.6 223.0 L457.1 223.6 L457.6 224.2 L458.1 224.7 L458.6 225.2 L459.1 225.6 L459.6 226.0 L460.1 226.3 L460.6 226.6 L461.1 226.9 L461.6 227.1 L462.1 227.3 L462.6 227.5 L463.1 227.6 L463.6 227.8 L464.1 227.9 L464.6 228.1 L465.1 228.2 L465.6 228.3 L466.1 228.4 L466.6 228.5 L467.1 228.6 L467.6 228.8 L468.1 228.9 L468.6 229.1 L469.1 229.2 L469.6 229.4 L470.1 229.5 L470.6 229.7 L471.1 229.9 L471.6 230.0 L472.1 230.2 L472.6 230.3 L473.1 230.4 L473.6 230.6 L474.1 230.7 L474.6 230.8 L475.1 230.9 L475.6 231.0 L476.1 231.0 L476.6 231.1 L477.1 231.2 L477.6 231.3 L478.1 231.4 L478.6 231.5 L479.1 231.5 L479.6 231.6 L480.1 231.7 L480.6 231.7 L481.1 231.8 L481.6 231.9 L482.1 231.9 L482.6 232.0 L483.1 232.1 L483.6 232.1 L484.1 232.2 L484.6 232.3 L485.1 232.3 L485.6 232.4 L486.1 232.4 L486.6 232.5 L487.1 232.5 L487.6 232.6 L488.1 232.6 L488.6 232.7 L489.1 232.7 L489.6 232.8 L490.1 232.8 L490.6 232.9 L491.1 232.9 L491.6 233.0 L492.1 233.0 L492.6 233.0 L493.1 233.1 L493.6 233.1 L494.1 233.2 L494.6 233.2 L495.1 233.2 L495.6 233.3 L496.1 233.3 L496.6 233.4 L497.1 233.4 L497.6 233.4 L498.1 233.5 L498.6 233.5 L499.1 233.5 L499.6 233.6 L500.1 233.6 L500.6 233.7 L501.1 233.7 L501.6 233.7 L502.1 233.8 L502.6 233.8 L503.1 233.8 L503.6 233.9 L504.1 233.9 L504.6 234.0 L505.1 234.0 L505.6 234.0 L506.1 234.1 L506.6 234.1 L507.1 234.2 L507.6 234.2 L508.1 234.2 L508.6 234.3 L509.1 234.3 L509.6 234.4 L510.1 234.4 L510.6 234.5 L511.1 234.5 L511.6 234.5 L512.1 234.6 L512.6 234.6 L513.1 234.7 L513.6 234.7 L514.1 234.7 L514.6 234.8 L515.1 234.8 L515.6 234.9 L516.1 234.9 L516.6 234.9 L517.1 234.9 L517.6 235.0 L518.1 235.0 L518.6 235.0 L519.1 235.0 L519.6 235.1 L520.1 235.1 L520.6 235.1 L521.1 235.1 L521.6 235.1 L522.1 235.1 L522.6 235.1 L523.1 235.1 L523.6 235.1" stroke="#c07078" stroke-width="0.8"/>
<path d="M277.9 226.2h0M278.6 226.3h0M279.3 226.6h0M280.0 225.9h0M280.7 226.8h0M281.4 226.7h0M282.2 226.1h0M282.9 225.5h0M283.6 226.1h0M284.3 226.2h0M285.0 225.5h0M285.7 226.2h0M286.4 226.1h0M287.1 226.0h0M287.8 226.4h0M288.5 226.5h0M289.3 226.1h0M290.0 226.3h0M290.7 226.1h0M291.4 226.1h0M292.1 226.3h0M292.8 226.5h0M293.5 226.2h0M294.2 225.7h0M294.9 226.5h0M295.6 225.9h0M296.4 226.4h0M297.1 226.9h0M297.8 226.4h0M298.5 226.1h0M299.2 226.1h0M299.9 226.8h0M300.6 226.5h0M301.3 226.7h0M302.0 226.8h0M302.7 226.6h0M303.5 226.5h0M304.2 226.3h0M304.9 225.8h0M305.6 226.2h0M306.3 226.6h0M307.0 226.6h0M307.7 226.8h0M308.4 226.6h0M309.1 226.7h0M309.8 226.9h0M310.6 226.5h0M311.3 226.6h0M312.0 226.3h0M312.7 227.0h0M313.4 226.7h0M314.1 226.8h0M314.8 227.1h0M315.5 227.0h0M316.2 226.7h0M316.9 226.9h0M317.7 226.3h0M318.4 226.8h0M319.1 226.7h0M319.8 226.2h0M320.5 227.0h0M321.2 226.4h0M321.9 226.8h0M322.6 226.5h0M323.3 226.9h0M324.0 226.9h0M324.8 226.3h0M325.5 226.1h0M326.2 226.5h0M326.9 226.8h0M327.6 226.4h0M328.3 226.3h0M329.0 226.6h0M329.7 225.7h0M330.4 226.2h0M331.1 226.0h0M331.9 226.5h0M332.6 226.2h0M333.3 226.0h0M334.0 226.2h0M334.7 225.9h0M335.4 226.2h0M336.1 226.0h0M336.8 226.0h0M337.5 225.9h0M338.2 226.3h0M339.0 225.9h0M339.7 226.0h0M340.4 225.9h0M341.1 225.4h0M341.8 225.6h0M342.5 225.4h0M343.2 225.2h0M343.9 224.7h0M344.6 224.5h0M345.3 224.5h0M346.1 224.6h0M346.8 223.4h0M347.5 223.4h0M348.2 222.7h0M348.9 222.5h0M349.6 221.9h0M350.3 221.4h0M351.0 219.6h0M351.7 219.5h0M352.4 218.4h0M353.2 217.7h0M353.9 216.4h0M354.6 215.2h0M355.3 214.2h0M356.0 213.1h0M356.7 210.2h0M357.4 209.3h0M358.1 207.8h0M358.8 205.8h0M359.5 203.6h0M360.3 200.6h0M361.0 196.9h0M361.7 192.9h0M362.4 188.8h0M363.1 184.9h0M363.8 181.1h0M364.5 177.8h0M365.2 174.2h0M365.9 170.8h0M366.6 167.0h0M367.4 163.2h0M368.1 159.9h0M368.8 156.3h0M369.5 153.9h0M370.2 151.2h0M370.9 147.8h0M371.6 145.7h0M372.3 142.9h0M373.0 141.3h0M373.7 139.3h0M374.5 137.1h0M375.2 135.8h0M375.9 134.0h0M376.6 132.7h0M377.3 131.7h0M378.0 131.1h0M378.7 130.5h0M379.4 130.3h0M380.1 129.9h0M380.8 130.4h0M381.6 130.8h0M382.3 131.0h0M383.0 131.5h0M383.7 133.0h0M384.4 134.2h0M385.1 135.0h0M385.8 135.9h0M386.5 137.7h0M387.2 139.4h0M387.9 140.0h0M388.7 142.2h0M389.4 143.5h0M390.1 145.0h0M390.8 147.1h0M391.5 148.2h0M392.2 150.1h0M392.9 151.8h0M393.6 152.8h0M394.3 153.7h0M395.0 154.4h0M395.8 155.0h0M396.5 155.0h0M397.2 155.6h0M397.9 154.4h0M398.6 153.1h0M399.3 151.6h0M400.0 149.7h0M400.7 147.1h0M401.4 143.2h0M402.1 140.0h0M402.9 135.5h0M403.6 132.2h0M404.3 129.3h0M405.0 126.3h0M405.7 122.2h0M406.4 116.4h0M407.1 110.4h0M407.8 104.2h0M408.5 98.6h0M409.2 92.9h0M410.0 86.9h0M410.7 81.2h0M411.4 76.1h0M412.1 71.0h0M412.8 67.3h0M413.5 62.4h0M414.2 57.4h0M414.9 53.0h0M415.6 48.8h0M416.3 45.2h0M417.1 42.2h0M417.8 38.7h0M418.5 36.3h0M419.2 35.6h0M419.9 35.3h0M420.6 35.3h0M421.3 35.1h0M422.0 35.1h0M422.7 36.1h0M423.4 36.9h0M424.2 39.6h0M424.9 42.9h0M425.6 46.6h0M426.3 50.5h0M427.0 54.3h0M427.7 57.7h0M428.4 62.3h0M429.1 67.1h0M429.8 71.8h0M430.5 76.1h0M431.3 81.6h0M432.0 86.9h0M432.7 93.7h0M433.4 98.9h0M434.1 104.7h0M434.8 108.7h0M435.5 112.5h0M436.2 118.3h0M436.9 125.5h0M437.6 132.2h0M438.4 136.6h0M439.1 141.0h0M439.8 145.4h0M440.5 152.8h0M441.2 160.1h0M441.9 165.3h0M442.6 169.9h0M443.3 174.3h0M444.0 179.0h0M444.7 183.0h0M445.5 187.4h0M446.2 190.5h0M446.9 193.9h0M447.6 196.9h0M448.3 199.8h0M449.0 203.2h0M449.7 206.2h0M450.4 208.5h0M451.1 210.7h0M451.8 213.3h0M452.6 215.0h0M453.3 217.2h0M454.0 218.4h0M454.7 219.8h0M455.4 221.4h0M456.1 222.4h0M456.8 223.8h0M457.5 224.0h0M458.2 224.8h0M458.9 225.2h0M459.7 225.5h0M460.4 226.0h0M461.1 227.0h0M461.8 226.8h0M462.5 227.8h0M463.2 228.1h0M463.9 227.8h0M464.6 228.5h0M465.3 228.3h0M466.0 228.7h0M466.8 228.5h0M467.5 229.0h0M468.2 228.7h0M468.9 229.3h0M469.6 229.3h0M470.3 229.6h0M471.0 230.0h0M471.7 230.1h0M472.4 230.2h0M473.1 230.7h0M473.9 230.9h0M474.6 230.4h0M475.3 231.1h0M476.0 231.2h0M476.7 230.9h0M477.4 231.4h0M478.1 231.0h0M478.8 231.9h0M479.5 231.5h0M480.2 231.7h0M481.0 232.1h0M481.7 231.9h0M482.4 232.2h0M483.1 231.8h0M483.8 232.0h0M484.5 231.9h0M485.2 232.3h0M485.9 232.7h0M486.6 232.5h0M487.3 232.8h0M488.1 232.3h0M488.8 232.4h0M489.5 232.6h0M490.2 233.0h0M490.9 233.0h0M491.6 232.9h0M492.3 233.2h0M493.0 233.0h0M493.7 233.1h0M494.4 233.6h0M495.2 233.1h0M495.9 233.4h0M496.6 233.8h0M497.3 233.4h0M498.0 233.7h0M498.7 233.3h0M499.4 234.1h0M500.1 233.0h0M500.8 233.4h0M501.5 233.4h0M502.3 234.2h0M503.0 233.9h0M503.7 233.8h0M504.4 233.6h0M505.1 234.1h0M505.8 234.1h0M506.5 233.9h0M507.2 233.8h0M507.9 233.9h0M508.6 234.4h0M509.4 234.4h0M510.1 234.4h0M510.8 234.4h0M511.5 234.0h0M512.2 234.6h0M512.9 234.4h0M513.6 234.7h0M514.3 234.9h0M515.0 234.6h0M515.7 234.6h0M516.5 235.2h0M517.2 235.0h0M517.9 234.8h0M518.6 234.2h0M519.3 235.0h0M520.0 235.2h0M520.7 235.4h0M521.4 234.9h0M522.1 234.9h0M522.8 235.0h0M523.6 235.3h0" stroke="#300a10" stroke-width="2.45" stroke-linecap="round"/>
</g>
<g clip-path="url(#cpc)" fill="none">
<path d="M32.0 493.5 L32.5 493.5 L33.0 493.5 L33.5 493.5 L34.0 493.5 L34.5 493.5 L35.0 493.5 L35.5 493.5 L36.0 493.5 L36.5 493.5 L37.0 493.5 L37.5 493.5 L38.0 493.5 L38.5 493.5 L39.0 493.5 L39.5 493.5 L40.0 493.5 L40.5 493.5 L41.0 493.5 L41.5 493.5 L42.0 493.5 L42.5 493.5 L43.0 493.5 L43.5 493.5 L44.0 493.5 L44.5 493.5 L45.0 493.5 L45.5 493.5 L46.0 493.5 L46.5 493.5 L47.0 493.5 L47.5 493.5 L48.0 493.5 L48.5 493.5 L49.0 493.5 L49.5 493.5 L50.0 493.5 L50.5 493.5 L51.0 493.5 L51.5 493.5 L52.0 493.5 L52.5 493.5 L53.0 493.5 L53.5 493.5 L54.0 493.5 L54.5 493.5 L55.0 493.5 L55.5 493.5 L56.0 493.5 L56.5 493.5 L57.0 493.5 L57.5 493.5 L58.0 493.5 L58.5 493.5 L59.0 493.5 L59.5 493.5 L60.0 493.5 L60.5 493.5 L61.0 493.5 L61.5 493.5 L62.0 493.5 L62.5 493.5 L63.0 493.5 L63.5 493.5 L64.0 493.5 L64.5 493.5 L65.0 493.5 L65.5 493.5 L66.0 493.5 L66.5 493.4 L67.0 493.4 L67.5 493.4 L68.0 493.4 L68.5 493.4 L69.0 493.4 L69.5 493.4 L70.0 493.4 L70.5 493.4 L71.0 493.4 L71.5 493.4 L72.0 493.4 L72.5 493.4 L73.0 493.4 L73.5 493.4 L74.0 493.4 L74.5 493.4 L75.0 493.4 L75.5 493.4 L76.0 493.4 L76.5 493.4 L77.0 493.4 L77.5 493.4 L78.0 493.4 L78.5 493.4 L79.0 493.4 L79.5 493.4 L80.0 493.4 L80.5 493.4 L81.0 493.4 L81.5 493.4 L82.0 493.4 L82.5 493.4 L83.0 493.4 L83.5 493.4 L84.0 493.4 L84.5 493.4 L85.0 493.3 L85.5 493.3 L86.0 493.3 L86.5 493.3 L87.0 493.3 L87.5 493.3 L88.0 493.3 L88.5 493.3 L89.0 493.3 L89.5 493.3 L90.0 493.3 L90.5 493.3 L91.0 493.3 L91.5 493.3 L92.0 493.3 L92.5 493.3 L93.0 493.3 L93.5 493.3 L94.0 493.2 L94.5 493.2 L95.0 493.2 L95.5 493.2 L96.0 493.2 L96.5 493.2 L97.0 493.2 L97.5 493.2 L98.0 493.2 L98.5 493.1 L99.0 493.1 L99.5 493.1 L100.0 493.1 L100.5 493.0 L101.0 493.0 L101.5 493.0 L102.0 492.9 L102.5 492.9 L103.0 492.8 L103.5 492.8 L104.0 492.7 L104.5 492.6 L105.0 492.5 L105.5 492.4 L106.0 492.3 L106.5 492.2 L107.0 492.0 L107.5 491.8 L108.0 491.6 L108.5 491.4 L109.0 491.1 L109.5 490.8 L110.0 490.5 L110.5 490.1 L111.0 489.7 L111.5 489.2 L112.0 488.7 L112.5 488.1 L113.0 487.4 L113.5 486.7 L114.0 485.9 L114.5 485.1 L115.0 484.1 L115.5 483.1 L116.0 482.0 L116.5 480.8 L117.0 479.6 L117.5 478.2 L118.0 476.7 L118.5 475.2 L119.0 473.5 L119.5 471.8 L120.0 470.0 L120.5 468.1 L121.0 466.1 L121.5 464.1 L122.0 462.0 L122.5 459.8 L123.0 457.6 L123.5 455.4 L124.0 453.1 L124.5 450.9 L125.0 448.6 L125.5 446.3 L126.0 444.1 L126.5 441.9 L127.0 439.8 L127.5 437.8 L128.0 435.9 L128.5 434.1 L129.0 432.4 L129.5 430.8 L130.0 429.4 L130.5 428.2 L131.0 427.1 L131.5 426.3 L132.0 425.6 L132.5 425.2 L133.0 424.9 L133.5 424.9 L134.0 425.1 L134.5 425.5 L135.0 426.1 L135.5 426.9 L136.0 427.8 L136.5 429.0 L137.0 430.3 L137.5 431.8 L138.0 433.5 L138.5 435.3 L139.0 437.1 L139.5 439.1 L140.0 441.2 L140.5 443.3 L141.0 445.4 L141.5 447.6 L142.0 449.9 L142.5 452.1 L143.0 454.3 L143.5 456.4 L144.0 458.5 L144.5 460.6 L145.0 462.6 L145.5 464.5 L146.0 466.3 L146.5 468.0 L147.0 469.6 L147.5 471.1 L148.0 472.5 L148.5 473.7 L149.0 474.8 L149.5 475.8 L150.0 476.6 L150.5 477.3 L151.0 477.8 L151.5 478.1 L152.0 478.3 L152.5 478.3 L153.0 478.1 L153.5 477.8 L154.0 477.3 L154.5 476.5 L155.0 475.6 L155.5 474.5 L156.0 473.2 L156.5 471.7 L157.0 470.0 L157.5 468.1 L158.0 465.9 L158.5 463.6 L159.0 461.0 L159.5 458.3 L160.0 455.3 L160.5 452.1 L161.0 448.8 L161.5 445.2 L162.0 441.5 L162.5 437.6 L163.0 433.6 L163.5 429.4 L164.0 425.2 L164.5 420.8 L165.0 416.4 L165.5 411.9 L166.0 407.4 L166.5 402.9 L167.0 398.4 L167.5 394.0 L168.0 389.7 L168.5 385.6 L169.0 381.6 L169.5 377.8 L170.0 374.2 L170.5 370.9 L171.0 367.9 L171.5 365.2 L172.0 362.8 L172.5 360.8 L173.0 359.2 L173.5 358.0 L174.0 357.2 L174.5 356.8 L175.0 356.9 L175.5 357.3 L176.0 358.2 L176.5 359.5 L177.0 361.2 L177.5 363.3 L178.0 365.8 L178.5 368.6 L179.0 371.6 L179.5 375.0 L180.0 378.7 L180.5 382.5 L181.0 386.6 L181.5 390.8 L182.0 395.1 L182.5 399.5 L183.0 404.0 L183.5 408.6 L184.0 413.1 L184.5 417.6 L185.0 422.1 L185.5 426.5 L186.0 430.8 L186.5 435.0 L187.0 439.1 L187.5 443.0 L188.0 446.8 L188.5 450.4 L189.0 453.9 L189.5 457.1 L190.0 460.2 L190.5 463.1 L191.0 465.9 L191.5 468.4 L192.0 470.8 L192.5 473.0 L193.0 475.0 L193.5 476.9 L194.0 478.6 L194.5 480.1 L195.0 481.6 L195.5 482.9 L196.0 484.0 L196.5 485.1 L197.0 486.0 L197.5 486.9 L198.0 487.6 L198.5 488.3 L199.0 488.9 L199.5 489.4 L200.0 489.9 L200.5 490.3 L201.0 490.7 L201.5 491.0 L202.0 491.3 L202.5 491.5 L203.0 491.7 L203.5 491.9 L204.0 492.0 L204.5 492.2 L205.0 492.3 L205.5 492.4 L206.0 492.5 L206.5 492.6 L207.0 492.6 L207.5 492.7 L208.0 492.8 L208.5 492.8 L209.0 492.8 L209.5 492.9 L210.0 492.9 L210.5 492.9 L211.0 493.0 L211.5 493.0 L212.0 493.0 L212.5 493.0 L213.0 493.0 L213.5 493.0 L214.0 493.1 L214.5 493.1 L215.0 493.1 L215.5 493.1 L216.0 493.1 L216.5 493.1 L217.0 493.1 L217.5 493.1 L218.0 493.2 L218.5 493.2 L219.0 493.2 L219.5 493.2 L220.0 493.2 L220.5 493.2 L221.0 493.2 L221.5 493.2 L222.0 493.2 L222.5 493.2 L223.0 493.2 L223.5 493.2 L224.0 493.2 L224.5 493.3 L225.0 493.3 L225.5 493.3 L226.0 493.3 L226.5 493.3 L227.0 493.3 L227.5 493.3 L228.0 493.3 L228.5 493.3 L229.0 493.3 L229.5 493.3 L230.0 493.3 L230.5 493.3 L231.0 493.3 L231.5 493.3 L232.0 493.3 L232.5 493.3 L233.0 493.3 L233.5 493.3 L234.0 493.3 L234.5 493.4 L235.0 493.4 L235.5 493.4 L236.0 493.4 L236.5 493.4 L237.0 493.4 L237.5 493.4 L238.0 493.4 L238.5 493.4 L239.0 493.4 L239.5 493.4 L240.0 493.4 L240.5 493.4 L241.0 493.4 L241.5 493.4 L242.0 493.4 L242.5 493.4 L243.0 493.4 L243.5 493.4 L244.0 493.4 L244.5 493.4 L245.0 493.4 L245.5 493.4 L246.0 493.4 L246.5 493.4 L247.0 493.4 L247.5 493.4 L248.0 493.4 L248.5 493.4 L249.0 493.4 L249.5 493.4 L250.0 493.4 L250.5 493.4 L251.0 493.4 L251.5 493.4 L252.0 493.4 L252.5 493.4 L253.0 493.4 L253.5 493.5 L254.0 493.5 L254.5 493.5 L255.0 493.5 L255.5 493.5 L256.0 493.5 L256.5 493.5 L257.0 493.5 L257.5 493.5 L258.0 493.5 L258.5 493.5 L259.0 493.5 L259.5 493.5 L260.0 493.5 L260.5 493.5 L261.0 493.5 L261.5 493.5 L262.0 493.5 L262.5 493.5 L263.0 493.5 L263.5 493.5 L264.0 493.5 L264.5 493.5 L265.0 493.5 L265.5 493.5 L266.0 493.5 L266.5 493.5 L267.0 493.5 L267.5 493.5 L268.0 493.5 L268.5 493.5 L269.0 493.5 L269.5 493.5 L270.0 493.5 L270.5 493.5 L271.0 493.5 L271.5 493.5 L272.0 493.5 L272.5 493.5 L273.0 493.5 L273.5 493.5 L274.0 493.5 L274.5 493.5 L275.0 493.5 L275.5 493.5 L276.0 493.5 L276.5 493.5 L277.0 493.5 L277.5 493.5" stroke="#a4a4a4" stroke-width="1.4"/>
<path d="M32.0 493.6 L32.5 493.6 L33.0 493.6 L33.5 493.6 L34.0 493.6 L34.5 493.6 L35.0 493.6 L35.5 493.6 L36.0 493.6 L36.5 493.6 L37.0 493.6 L37.5 493.6 L38.0 493.6 L38.5 493.6 L39.0 493.6 L39.5 493.6 L40.0 493.6 L40.5 493.6 L41.0 493.6 L41.5 493.6 L42.0 493.6 L42.5 493.6 L43.0 493.6 L43.5 493.6 L44.0 493.6 L44.5 493.6 L45.0 493.6 L45.5 493.6 L46.0 493.6 L46.5 493.6 L47.0 493.6 L47.5 493.6 L48.0 493.6 L48.5 493.6 L49.0 493.6 L49.5 493.6 L50.0 493.6 L50.5 493.6 L51.0 493.6 L51.5 493.6 L52.0 493.6 L52.5 493.6 L53.0 493.6 L53.5 493.6 L54.0 493.6 L54.5 493.6 L55.0 493.6 L55.5 493.5 L56.0 493.5 L56.5 493.5 L57.0 493.5 L57.5 493.5 L58.0 493.5 L58.5 493.5 L59.0 493.5 L59.5 493.5 L60.0 493.5 L60.5 493.5 L61.0 493.5 L61.5 493.5 L62.0 493.5 L62.5 493.5 L63.0 493.5 L63.5 493.5 L64.0 493.5 L64.5 493.5 L65.0 493.5 L65.5 493.5 L66.0 493.5 L66.5 493.5 L67.0 493.5 L67.5 493.5 L68.0 493.5 L68.5 493.5 L69.0 493.5 L69.5 493.5 L70.0 493.5 L70.5 493.5 L71.0 493.5 L71.5 493.5 L72.0 493.5 L72.5 493.5 L73.0 493.5 L73.5 493.5 L74.0 493.5 L74.5 493.5 L75.0 493.5 L75.5 493.5 L76.0 493.5 L76.5 493.5 L77.0 493.5 L77.5 493.5 L78.0 493.5 L78.5 493.5 L79.0 493.5 L79.5 493.5 L80.0 493.5 L80.5 493.5 L81.0 493.5 L81.5 493.5 L82.0 493.5 L82.5 493.5 L83.0 493.5 L83.5 493.5 L84.0 493.5 L84.5 493.5 L85.0 493.5 L85.5 493.5 L86.0 493.5 L86.5 493.5 L87.0 493.5 L87.5 493.5 L88.0 493.5 L88.5 493.5 L89.0 493.5 L89.5 493.5 L90.0 493.5 L90.5 493.5 L91.0 493.5 L91.5 493.5 L92.0 493.5 L92.5 493.5 L93.0 493.5 L93.5 493.5 L94.0 493.5 L94.5 493.5 L95.0 493.5 L95.5 493.5 L96.0 493.5 L96.5 493.5 L97.0 493.5 L97.5 493.5 L98.0 493.5 L98.5 493.5 L99.0 493.5 L99.5 493.5 L100.0 493.4 L100.5 493.4 L101.0 493.4 L101.5 493.4 L102.0 493.4 L102.5 493.4 L103.0 493.4 L103.5 493.4 L104.0 493.4 L104.5 493.4 L105.0 493.4 L105.5 493.4 L106.0 493.4 L106.5 493.4 L107.0 493.4 L107.5 493.4 L108.0 493.4 L108.5 493.4 L109.0 493.4 L109.5 493.3 L110.0 493.3 L110.5 493.3 L111.0 493.3 L111.5 493.3 L112.0 493.3 L112.5 493.2 L113.0 493.2 L113.5 493.2 L114.0 493.2 L114.5 493.1 L115.0 493.1 L115.5 493.0 L116.0 493.0 L116.5 492.9 L117.0 492.8 L117.5 492.8 L118.0 492.7 L118.5 492.6 L119.0 492.5 L119.5 492.3 L120.0 492.2 L120.5 492.0 L121.0 491.9 L121.5 491.7 L122.0 491.5 L122.5 491.2 L123.0 491.0 L123.5 490.7 L124.0 490.4 L124.5 490.1 L125.0 489.7 L125.5 489.3 L126.0 488.9 L126.5 488.5 L127.0 488.0 L127.5 487.5 L128.0 486.9 L128.5 486.3 L129.0 485.7 L129.5 485.1 L130.0 484.4 L130.5 483.6 L131.0 482.9 L131.5 482.1 L132.0 481.3 L132.5 480.4 L133.0 479.6 L133.5 478.7 L134.0 477.8 L134.5 476.8 L135.0 475.9 L135.5 475.0 L136.0 474.0 L136.5 473.1 L137.0 472.1 L137.5 471.2 L138.0 470.3 L138.5 469.4 L139.0 468.5 L139.5 467.7 L140.0 466.9 L140.5 466.2 L141.0 465.5 L141.5 464.8 L142.0 464.2 L142.5 463.7 L143.0 463.3 L143.5 462.9 L144.0 462.6 L144.5 462.4 L145.0 462.2 L145.5 462.2 L146.0 462.2 L146.5 462.3 L147.0 462.5 L147.5 462.7 L148.0 463.0 L148.5 463.4 L149.0 463.9 L149.5 464.4 L150.0 465.0 L150.5 465.7 L151.0 466.4 L151.5 467.1 L152.0 467.9 L152.5 468.7 L153.0 469.6 L153.5 470.4 L154.0 471.3 L154.5 472.2 L155.0 473.1 L155.5 473.9 L156.0 474.8 L156.5 475.7 L157.0 476.5 L157.5 477.3 L158.0 478.1 L158.5 478.8 L159.0 479.5 L159.5 480.1 L160.0 480.7 L160.5 481.2 L161.0 481.7 L161.5 482.1 L162.0 482.4 L162.5 482.7 L163.0 482.9 L163.5 483.0 L164.0 483.1 L164.5 483.0 L165.0 482.9 L165.5 482.7 L166.0 482.4 L166.5 482.0 L167.0 481.6 L167.5 481.0 L168.0 480.4 L168.5 479.6 L169.0 478.8 L169.5 477.9 L170.0 476.9 L170.5 475.8 L171.0 474.6 L171.5 473.3 L172.0 471.9 L172.5 470.5 L173.0 469.0 L173.5 467.4 L174.0 465.8 L174.5 464.1 L175.0 462.4 L175.5 460.6 L176.0 458.8 L176.5 456.9 L177.0 455.1 L177.5 453.2 L178.0 451.4 L178.5 449.5 L179.0 447.7 L179.5 446.0 L180.0 444.2 L180.5 442.6 L181.0 441.0 L181.5 439.5 L182.0 438.1 L182.5 436.7 L183.0 435.6 L183.5 434.5 L184.0 433.5 L184.5 432.8 L185.0 432.1 L185.5 431.6 L186.0 431.3 L186.5 431.1 L187.0 431.1 L187.5 431.2 L188.0 431.6 L188.5 432.0 L189.0 432.6 L189.5 433.4 L190.0 434.3 L190.5 435.4 L191.0 436.6 L191.5 437.9 L192.0 439.3 L192.5 440.8 L193.0 442.4 L193.5 444.0 L194.0 445.8 L194.5 447.6 L195.0 449.4 L195.5 451.2 L196.0 453.1 L196.5 455.0 L197.0 456.9 L197.5 458.8 L198.0 460.7 L198.5 462.5 L199.0 464.3 L199.5 466.1 L200.0 467.8 L200.5 469.5 L201.0 471.1 L201.5 472.7 L202.0 474.2 L202.5 475.6 L203.0 477.0 L203.5 478.3 L204.0 479.5 L204.5 480.6 L205.0 481.7 L205.5 482.7 L206.0 483.7 L206.5 484.6 L207.0 485.4 L207.5 486.2 L208.0 486.9 L208.5 487.5 L209.0 488.1 L209.5 488.6 L210.0 489.1 L210.5 489.6 L211.0 490.0 L211.5 490.4 L212.0 490.7 L212.5 491.0 L213.0 491.3 L213.5 491.5 L214.0 491.7 L214.5 491.9 L215.0 492.1 L215.5 492.2 L216.0 492.4 L216.5 492.5 L217.0 492.6 L217.5 492.7 L218.0 492.8 L218.5 492.8 L219.0 492.9 L219.5 493.0 L220.0 493.0 L220.5 493.1 L221.0 493.1 L221.5 493.1 L222.0 493.2 L222.5 493.2 L223.0 493.2 L223.5 493.2 L224.0 493.2 L224.5 493.3 L225.0 493.3 L225.5 493.3 L226.0 493.3 L226.5 493.3 L227.0 493.3 L227.5 493.3 L228.0 493.3 L228.5 493.3 L229.0 493.3 L229.5 493.3 L230.0 493.4 L230.5 493.4 L231.0 493.4 L231.5 493.4 L232.0 493.4 L232.5 493.4 L233.0 493.4 L233.5 493.4 L234.0 493.4 L234.5 493.4 L235.0 493.4 L235.5 493.4 L236.0 493.4 L236.5 493.4 L237.0 493.4 L237.5 493.4 L238.0 493.4 L238.5 493.4 L239.0 493.4 L239.5 493.4 L240.0 493.4 L240.5 493.4 L241.0 493.4 L241.5 493.4 L242.0 493.4 L242.5 493.4 L243.0 493.4 L243.5 493.5 L244.0 493.5 L244.5 493.5 L245.0 493.5 L245.5 493.5 L246.0 493.5 L246.5 493.5 L247.0 493.5 L247.5 493.5 L248.0 493.5 L248.5 493.5 L249.0 493.5 L249.5 493.5 L250.0 493.5 L250.5 493.5 L251.0 493.5 L251.5 493.5 L252.0 493.5 L252.5 493.5 L253.0 493.5 L253.5 493.5 L254.0 493.5 L254.5 493.5 L255.0 493.5 L255.5 493.5 L256.0 493.5 L256.5 493.5 L257.0 493.5 L257.5 493.5 L258.0 493.5 L258.5 493.5 L259.0 493.5 L259.5 493.5 L260.0 493.5 L260.5 493.5 L261.0 493.5 L261.5 493.5 L262.0 493.5 L262.5 493.5 L263.0 493.5 L263.5 493.5 L264.0 493.5 L264.5 493.5 L265.0 493.5 L265.5 493.5 L266.0 493.5 L266.5 493.5 L267.0 493.5 L267.5 493.5 L268.0 493.5 L268.5 493.5 L269.0 493.5 L269.5 493.5 L270.0 493.5 L270.5 493.5 L271.0 493.5 L271.5 493.5 L272.0 493.5 L272.5 493.5 L273.0 493.5 L273.5 493.5 L274.0 493.5 L274.5 493.5 L275.0 493.5 L275.5 493.5 L276.0 493.5 L276.5 493.5 L277.0 493.5 L277.5 493.5" stroke="#7c2c32" stroke-width="1.4"/>
<path d="M32.0 493.6 L32.5 493.6 L33.0 493.6 L33.5 493.6 L34.0 493.6 L34.5 493.6 L35.0 493.6 L35.5 493.6 L36.0 493.6 L36.5 493.6 L37.0 493.6 L37.5 493.6 L38.0 493.6 L38.5 493.6 L39.0 493.6 L39.5 493.6 L40.0 493.6 L40.5 493.6 L41.0 493.6 L41.5 493.6 L42.0 493.6 L42.5 493.6 L43.0 493.6 L43.5 493.6 L44.0 493.6 L44.5 493.6 L45.0 493.6 L45.5 493.6 L46.0 493.6 L46.5 493.6 L47.0 493.6 L47.5 493.6 L48.0 493.6 L48.5 493.6 L49.0 493.6 L49.5 493.6 L50.0 493.6 L50.5 493.6 L51.0 493.6 L51.5 493.6 L52.0 493.6 L52.5 493.6 L53.0 493.6 L53.5 493.6 L54.0 493.6 L54.5 493.6 L55.0 493.6 L55.5 493.6 L56.0 493.6 L56.5 493.6 L57.0 493.6 L57.5 493.5 L58.0 493.5 L58.5 493.5 L59.0 493.5 L59.5 493.5 L60.0 493.5 L60.5 493.5 L61.0 493.5 L61.5 493.5 L62.0 493.5 L62.5 493.5 L63.0 493.5 L63.5 493.5 L64.0 493.5 L64.5 493.5 L65.0 493.5 L65.5 493.5 L66.0 493.5 L66.5 493.5 L67.0 493.5 L67.5 493.5 L68.0 493.5 L68.5 493.5 L69.0 493.5 L69.5 493.5 L70.0 493.5 L70.5 493.5 L71.0 493.5 L71.5 493.5 L72.0 493.5 L72.5 493.5 L73.0 493.5 L73.5 493.5 L74.0 493.5 L74.5 493.5 L75.0 493.5 L75.5 493.5 L76.0 493.5 L76.5 493.5 L77.0 493.5 L77.5 493.5 L78.0 493.5 L78.5 493.5 L79.0 493.5 L79.5 493.5 L80.0 493.5 L80.5 493.5 L81.0 493.5 L81.5 493.5 L82.0 493.5 L82.5 493.5 L83.0 493.5 L83.5 493.5 L84.0 493.5 L84.5 493.5 L85.0 493.5 L85.5 493.5 L86.0 493.5 L86.5 493.5 L87.0 493.5 L87.5 493.5 L88.0 493.5 L88.5 493.5 L89.0 493.5 L89.5 493.4 L90.0 493.4 L90.5 493.4 L91.0 493.4 L91.5 493.4 L92.0 493.4 L92.5 493.4 L93.0 493.4 L93.5 493.4 L94.0 493.4 L94.5 493.4 L95.0 493.4 L95.5 493.3 L96.0 493.3 L96.5 493.3 L97.0 493.3 L97.5 493.2 L98.0 493.2 L98.5 493.1 L99.0 493.1 L99.5 493.0 L100.0 492.9 L100.5 492.8 L101.0 492.7 L101.5 492.6 L102.0 492.5 L102.5 492.3 L103.0 492.1 L103.5 491.9 L104.0 491.6 L104.5 491.3 L105.0 491.0 L105.5 490.6 L106.0 490.2 L106.5 489.8 L107.0 489.3 L107.5 488.7 L108.0 488.1 L108.5 487.4 L109.0 486.7 L109.5 485.9 L110.0 485.0 L110.5 484.1 L111.0 483.2 L111.5 482.1 L112.0 481.1 L112.5 480.0 L113.0 478.8 L113.5 477.6 L114.0 476.4 L114.5 475.2 L115.0 474.0 L115.5 472.8 L116.0 471.6 L116.5 470.4 L117.0 469.2 L117.5 468.2 L118.0 467.2 L118.5 466.2 L119.0 465.4 L119.5 464.6 L120.0 464.0 L120.5 463.5 L121.0 463.1 L121.5 462.8 L122.0 462.7 L122.5 462.7 L123.0 462.8 L123.5 463.1 L124.0 463.5 L124.5 464.1 L125.0 464.7 L125.5 465.5 L126.0 466.3 L126.5 467.3 L127.0 468.3 L127.5 469.4 L128.0 470.5 L128.5 471.7 L129.0 472.9 L129.5 474.1 L130.0 475.3 L130.5 476.5 L131.0 477.7 L131.5 478.9 L132.0 480.0 L132.5 481.1 L133.0 482.2 L133.5 483.2 L134.0 484.1 L134.5 485.0 L135.0 485.8 L135.5 486.6 L136.0 487.2 L136.5 487.9 L137.0 488.4 L137.5 488.9 L138.0 489.4 L138.5 489.8 L139.0 490.1 L139.5 490.4 L140.0 490.6 L140.5 490.7 L141.0 490.8 L141.5 490.9 L142.0 490.9 L142.5 490.8 L143.0 490.7 L143.5 490.5 L144.0 490.2 L144.5 489.9 L145.0 489.5 L145.5 489.0 L146.0 488.4 L146.5 487.8 L147.0 487.0 L147.5 486.2 L148.0 485.2 L148.5 484.2 L149.0 483.0 L149.5 481.7 L150.0 480.3 L150.5 478.8 L151.0 477.2 L151.5 475.4 L152.0 473.5 L152.5 471.5 L153.0 469.5 L153.5 467.3 L154.0 465.0 L154.5 462.7 L155.0 460.3 L155.5 457.9 L156.0 455.4 L156.5 453.0 L157.0 450.6 L157.5 448.2 L158.0 445.9 L158.5 443.7 L159.0 441.6 L159.5 439.7 L160.0 437.9 L160.5 436.4 L161.0 435.0 L161.5 433.9 L162.0 433.0 L162.5 432.4 L163.0 432.0 L163.5 431.9 L164.0 432.1 L164.5 432.6 L165.0 433.3 L165.5 434.3 L166.0 435.5 L166.5 437.0 L167.0 438.6 L167.5 440.5 L168.0 442.5 L168.5 444.6 L169.0 446.9 L169.5 449.2 L170.0 451.6 L170.5 454.0 L171.0 456.5 L171.5 458.9 L172.0 461.3 L172.5 463.7 L173.0 466.0 L173.5 468.2 L174.0 470.4 L174.5 472.4 L175.0 474.4 L175.5 476.2 L176.0 477.9 L176.5 479.6 L177.0 481.0 L177.5 482.4 L178.0 483.7 L178.5 484.8 L179.0 485.8 L179.5 486.8 L180.0 487.6 L180.5 488.4 L181.0 489.0 L181.5 489.6 L182.0 490.2 L182.5 490.6 L183.0 491.0 L183.5 491.4 L184.0 491.7 L184.5 491.9 L185.0 492.1 L185.5 492.3 L186.0 492.5 L186.5 492.6 L187.0 492.7 L187.5 492.8 L188.0 492.9 L188.5 493.0 L189.0 493.1 L189.5 493.1 L190.0 493.1 L190.5 493.2 L191.0 493.2 L191.5 493.2 L192.0 493.3 L192.5 493.3 L193.0 493.3 L193.5 493.3 L194.0 493.3 L194.5 493.3 L195.0 493.3 L195.5 493.4 L196.0 493.4 L196.5 493.4 L197.0 493.4 L197.5 493.4 L198.0 493.4 L198.5 493.4 L199.0 493.4 L199.5 493.4 L200.0 493.4 L200.5 493.4 L201.0 493.4 L201.5 493.4 L202.0 493.4 L202.5 493.4 L203.0 493.4 L203.5 493.4 L204.0 493.4 L204.5 493.4 L205.0 493.4 L205.5 493.5 L206.0 493.5 L206.5 493.5 L207.0 493.5 L207.5 493.5 L208.0 493.5 L208.5 493.5 L209.0 493.5 L209.5 493.5 L210.0 493.5 L210.5 493.5 L211.0 493.5 L211.5 493.5 L212.0 493.5 L212.5 493.5 L213.0 493.5 L213.5 493.5 L214.0 493.5 L214.5 493.5 L215.0 493.5 L215.5 493.5 L216.0 493.5 L216.5 493.5 L217.0 493.5 L217.5 493.5 L218.0 493.5 L218.5 493.5 L219.0 493.5 L219.5 493.5 L220.0 493.5 L220.5 493.5 L221.0 493.5 L221.5 493.5 L222.0 493.5 L222.5 493.5 L223.0 493.5 L223.5 493.5 L224.0 493.5 L224.5 493.5 L225.0 493.5 L225.5 493.5 L226.0 493.5 L226.5 493.5 L227.0 493.5 L227.5 493.5 L228.0 493.5 L228.5 493.5 L229.0 493.5 L229.5 493.5 L230.0 493.5 L230.5 493.5 L231.0 493.5 L231.5 493.5 L232.0 493.5 L232.5 493.5 L233.0 493.5 L233.5 493.5 L234.0 493.5 L234.5 493.5 L235.0 493.5 L235.5 493.5 L236.0 493.5 L236.5 493.5 L237.0 493.5 L237.5 493.5 L238.0 493.5 L238.5 493.5 L239.0 493.5 L239.5 493.5 L240.0 493.6 L240.5 493.6 L241.0 493.6 L241.5 493.6 L242.0 493.6 L242.5 493.6 L243.0 493.6 L243.5 493.6 L244.0 493.6 L244.5 493.6 L245.0 493.6 L245.5 493.6 L246.0 493.6 L246.5 493.6 L247.0 493.6 L247.5 493.6 L248.0 493.6 L248.5 493.6 L249.0 493.6 L249.5 493.6 L250.0 493.6 L250.5 493.6 L251.0 493.6 L251.5 493.6 L252.0 493.6 L252.5 493.6 L253.0 493.6 L253.5 493.6 L254.0 493.6 L254.5 493.6 L255.0 493.6 L255.5 493.6 L256.0 493.6 L256.5 493.6 L257.0 493.6 L257.5 493.6 L258.0 493.6 L258.5 493.6 L259.0 493.6 L259.5 493.6 L260.0 493.6 L260.5 493.6 L261.0 493.6 L261.5 493.6 L262.0 493.6 L262.5 493.6 L263.0 493.6 L263.5 493.6 L264.0 493.6 L264.5 493.6 L265.0 493.6 L265.5 493.6 L266.0 493.6 L266.5 493.6 L267.0 493.6 L267.5 493.6 L268.0 493.6 L268.5 493.6 L269.0 493.6 L269.5 493.6 L270.0 493.6 L270.5 493.6 L271.0 493.6 L271.5 493.6 L272.0 493.6 L272.5 493.6 L273.0 493.6 L273.5 493.6 L274.0 493.6 L274.5 493.6 L275.0 493.6 L275.5 493.6 L276.0 493.6 L276.5 493.6 L277.0 493.6 L277.5 493.6" stroke="#303030" stroke-width="1.5"/>
<path d="M32.0 452.4 L32.5 452.5 L33.0 452.6 L33.5 452.7 L34.0 452.7 L34.5 452.8 L35.0 452.9 L35.5 453.0 L36.0 453.1 L36.5 453.1 L37.0 453.2 L37.5 453.3 L38.0 453.4 L38.5 453.5 L39.0 453.6 L39.5 453.7 L40.0 453.8 L40.5 453.9 L41.0 454.0 L41.5 454.1 L42.0 454.2 L42.5 454.3 L43.0 454.4 L43.5 454.5 L44.0 454.6 L44.5 454.7 L45.0 454.8 L45.5 454.9 L46.0 455.0 L46.5 455.2 L47.0 455.3 L47.5 455.4 L48.0 455.5 L48.5 455.6 L49.0 455.7 L49.5 455.8 L50.0 455.9 L50.5 456.0 L51.0 456.1 L51.5 456.2 L52.0 456.3 L52.5 456.4 L53.0 456.5 L53.5 456.6 L54.0 456.7 L54.5 456.7 L55.0 456.8 L55.5 456.9 L56.0 457.0 L56.5 457.1 L57.0 457.2 L57.5 457.2 L58.0 457.3 L58.5 457.4 L59.0 457.4 L59.5 457.5 L60.0 457.6 L60.5 457.6 L61.0 457.7 L61.5 457.8 L62.0 457.8 L62.5 457.9 L63.0 458.0 L63.5 458.0 L64.0 458.1 L64.5 458.2 L65.0 458.2 L65.5 458.3 L66.0 458.4 L66.5 458.4 L67.0 458.5 L67.5 458.6 L68.0 458.6 L68.5 458.7 L69.0 458.8 L69.5 458.8 L70.0 458.9 L70.5 459.0 L71.0 459.0 L71.5 459.1 L72.0 459.1 L72.5 459.2 L73.0 459.3 L73.5 459.3 L74.0 459.4 L74.5 459.5 L75.0 459.5 L75.5 459.6 L76.0 459.7 L76.5 459.7 L77.0 459.8 L77.5 459.8 L78.0 459.9 L78.5 460.0 L79.0 460.0 L79.5 460.1 L80.0 460.2 L80.5 460.2 L81.0 460.3 L81.5 460.3 L82.0 460.4 L82.5 460.5 L83.0 460.5 L83.5 460.6 L84.0 460.6 L84.5 460.7 L85.0 460.7 L85.5 460.8 L86.0 460.8 L86.5 460.9 L87.0 460.9 L87.5 461.0 L88.0 461.0 L88.5 461.1 L89.0 461.1 L89.5 461.1 L90.0 461.2 L90.5 461.2 L91.0 461.3 L91.5 461.3 L92.0 461.3 L92.5 461.4 L93.0 461.4 L93.5 461.4 L94.0 461.4 L94.5 461.5 L95.0 461.5 L95.5 461.5 L96.0 461.5 L96.5 461.5 L97.0 461.5 L97.5 461.5 L98.0 461.4 L98.5 461.3 L99.0 461.2 L99.5 461.0 L100.0 460.9 L100.5 460.7 L101.0 460.5 L101.5 460.3 L102.0 460.0 L102.5 459.8 L103.0 459.6 L103.5 459.3 L104.0 459.0 L104.5 458.8 L105.0 458.5 L105.5 458.2 L106.0 457.9 L106.5 457.5 L107.0 457.0 L107.5 456.5 L108.0 455.8 L108.5 455.1 L109.0 454.3 L109.5 453.3 L110.0 452.3 L110.5 451.0 L111.0 449.7 L111.5 448.2 L112.0 446.6 L112.5 444.8 L113.0 443.0 L113.5 441.0 L114.0 438.8 L114.5 436.4 L115.0 433.9 L115.5 431.5 L116.0 429.0 L116.5 426.5 L117.0 424.0 L117.5 421.4 L118.0 418.9 L118.5 416.4 L119.0 413.9 L119.5 411.3 L120.0 408.8 L120.5 406.3 L121.0 403.9 L121.5 401.5 L122.0 399.1 L122.5 396.8 L123.0 394.5 L123.5 392.4 L124.0 390.3 L124.5 388.3 L125.0 386.4 L125.5 384.5 L126.0 382.8 L126.5 381.1 L127.0 379.6 L127.5 378.2 L128.0 376.9 L128.5 375.7 L129.0 374.7 L129.5 373.8 L130.0 373.0 L130.5 372.3 L131.0 371.8 L131.5 371.4 L132.0 371.1 L132.5 371.0 L133.0 371.0 L133.5 371.2 L134.0 371.6 L134.5 372.1 L135.0 372.8 L135.5 373.6 L136.0 374.6 L136.5 375.7 L137.0 376.8 L137.5 378.1 L138.0 379.4 L138.5 380.8 L139.0 382.2 L139.5 383.7 L140.0 385.2 L140.5 386.8 L141.0 388.5 L141.5 390.1 L142.0 391.8 L142.5 393.5 L143.0 395.1 L143.5 396.6 L144.0 398.0 L144.5 399.4 L145.0 400.8 L145.5 402.0 L146.0 403.2 L146.5 404.4 L147.0 405.4 L147.5 406.3 L148.0 407.0 L148.5 407.6 L149.0 408.0 L149.5 408.2 L150.0 408.3 L150.5 408.4 L151.0 408.4 L151.5 408.3 L152.0 408.0 L152.5 407.5 L153.0 406.7 L153.5 405.4 L154.0 403.8 L154.5 401.5 L155.0 398.3 L155.5 394.5 L156.0 390.7 L156.5 387.4 L157.0 384.3 L157.5 381.1 L158.0 377.9 L158.5 374.4 L159.0 370.8 L159.5 367.1 L160.0 363.3 L160.5 359.3 L161.0 355.1 L161.5 350.2 L162.0 345.1 L162.5 340.7 L163.0 336.7 L163.5 332.7 L164.0 328.9 L164.5 325.2 L165.0 321.9 L165.5 318.8 L166.0 315.7 L166.5 312.5 L167.0 309.2 L167.5 305.8 L168.0 302.6 L168.5 299.6 L169.0 297.0 L169.5 295.0 L170.0 293.4 L170.5 292.1 L171.0 290.8 L171.5 289.4 L172.0 288.0 L172.5 286.8 L173.0 285.8 L173.5 285.0 L174.0 284.5 L174.5 284.4 L175.0 284.8 L175.5 285.6 L176.0 286.7 L176.5 288.1 L177.0 289.7 L177.5 291.2 L178.0 292.4 L178.5 293.7 L179.0 295.2 L179.5 297.0 L180.0 299.4 L180.5 301.9 L181.0 304.7 L181.5 307.7 L182.0 311.1 L182.5 314.7 L183.0 318.5 L183.5 322.5 L184.0 326.6 L184.5 330.8 L185.0 335.2 L185.5 339.7 L186.0 344.5 L186.5 350.1 L187.0 356.0 L187.5 360.8 L188.0 365.1 L188.5 369.2 L189.0 373.4 L189.5 377.4 L190.0 381.1 L190.5 384.7 L191.0 388.4 L191.5 392.3 L192.0 396.2 L192.5 400.2 L193.0 404.1 L193.5 408.2 L194.0 412.7 L194.5 417.0 L195.0 420.5 L195.5 423.3 L196.0 425.5 L196.5 427.3 L197.0 428.8 L197.5 430.3 L198.0 432.0 L198.5 434.1 L199.0 436.5 L199.5 439.1 L200.0 441.8 L200.5 444.4 L201.0 446.9 L201.5 449.2 L202.0 451.2 L202.5 453.1 L203.0 454.9 L203.5 456.6 L204.0 458.2 L204.5 459.7 L205.0 461.0 L205.5 462.2 L206.0 463.3 L206.5 464.3 L207.0 465.3 L207.5 466.1 L208.0 466.9 L208.5 467.6 L209.0 468.3 L209.5 468.9 L210.0 469.5 L210.5 470.0 L211.0 470.5 L211.5 471.0 L212.0 471.4 L212.5 471.8 L213.0 472.1 L213.5 472.5 L214.0 472.7 L214.5 473.0 L215.0 473.3 L215.5 473.5 L216.0 473.7 L216.5 473.9 L217.0 474.2 L217.5 474.4 L218.0 474.6 L218.5 474.8 L219.0 475.0 L219.5 475.2 L220.0 475.4 L220.5 475.6 L221.0 475.8 L221.5 476.0 L222.0 476.2 L222.5 476.4 L223.0 476.6 L223.5 476.7 L224.0 476.9 L224.5 477.1 L225.0 477.2 L225.5 477.3 L226.0 477.5 L226.5 477.6 L227.0 477.7 L227.5 477.9 L228.0 478.0 L228.5 478.1 L229.0 478.3 L229.5 478.4 L230.0 478.5 L230.5 478.7 L231.0 478.8 L231.5 478.9 L232.0 479.0 L232.5 479.1 L233.0 479.3 L233.5 479.4 L234.0 479.5 L234.5 479.6 L235.0 479.7 L235.5 479.8 L236.0 479.9 L236.5 480.0 L237.0 480.0 L237.5 480.1 L238.0 480.2 L238.5 480.3 L239.0 480.4 L239.5 480.5 L240.0 480.5 L240.5 480.6 L241.0 480.7 L241.5 480.8 L242.0 480.9 L242.5 481.0 L243.0 481.0 L243.5 481.1 L244.0 481.2 L244.5 481.3 L245.0 481.3 L245.5 481.4 L246.0 481.5 L246.5 481.6 L247.0 481.6 L247.5 481.7 L248.0 481.8 L248.5 481.9 L249.0 481.9 L249.5 482.0 L250.0 482.0 L250.5 482.1 L251.0 482.1 L251.5 482.2 L252.0 482.2 L252.5 482.3 L253.0 482.3 L253.5 482.4 L254.0 482.5 L254.5 482.5 L255.0 482.6 L255.5 482.6 L256.0 482.7 L256.5 482.7 L257.0 482.8 L257.5 482.8 L258.0 482.9 L258.5 483.0 L259.0 483.0 L259.5 483.1 L260.0 483.2 L260.5 483.3 L261.0 483.3 L261.5 483.4 L262.0 483.5 L262.5 483.5 L263.0 483.6 L263.5 483.7 L264.0 483.8 L264.5 483.8 L265.0 483.9 L265.5 484.0 L266.0 484.0 L266.5 484.1 L267.0 484.2 L267.5 484.3 L268.0 484.3 L268.5 484.4 L269.0 484.5 L269.5 484.5 L270.0 484.6 L270.5 484.7 L271.0 484.8 L271.5 484.8 L272.0 484.9 L272.5 485.0 L273.0 485.1 L273.5 485.2 L274.0 485.2 L274.5 485.3 L275.0 485.4 L275.5 485.5 L276.0 485.6 L276.5 485.6 L277.0 485.7 L277.5 485.8" stroke="#c07078" stroke-width="0.8"/>
<path d="M32.3 452.2h0M33.0 452.6h0M33.7 452.4h0M34.4 452.9h0M35.1 452.5h0M35.9 453.1h0M36.6 453.0h0M37.3 453.2h0M38.0 453.6h0M38.7 453.9h0M39.4 453.2h0M40.1 454.1h0M40.8 454.1h0M41.5 454.0h0M42.2 454.6h0M43.0 454.5h0M43.7 454.9h0M44.4 454.5h0M45.1 454.6h0M45.8 455.3h0M46.5 455.8h0M47.2 455.5h0M47.9 455.7h0M48.6 455.5h0M49.3 455.4h0M50.1 455.8h0M50.8 456.5h0M51.5 455.7h0M52.2 456.2h0M52.9 455.9h0M53.6 456.6h0M54.3 457.0h0M55.0 456.5h0M55.7 456.8h0M56.4 457.4h0M57.2 457.2h0M57.9 456.9h0M58.6 457.0h0M59.3 456.9h0M60.0 457.8h0M60.7 457.5h0M61.4 458.1h0M62.1 458.1h0M62.8 457.8h0M63.5 457.9h0M64.3 458.4h0M65.0 458.3h0M65.7 458.4h0M66.4 458.0h0M67.1 458.8h0M67.8 458.4h0M68.5 458.1h0M69.2 458.6h0M69.9 459.0h0M70.6 459.6h0M71.4 459.0h0M72.1 458.8h0M72.8 459.8h0M73.5 459.4h0M74.2 459.4h0M74.9 459.2h0M75.6 459.3h0M76.3 460.1h0M77.0 459.7h0M77.7 459.7h0M78.5 459.8h0M79.2 460.5h0M79.9 460.0h0M80.6 460.4h0M81.3 460.4h0M82.0 460.5h0M82.7 460.2h0M83.4 460.7h0M84.1 461.1h0M84.8 460.7h0M85.6 460.5h0M86.3 460.5h0M87.0 461.0h0M87.7 460.9h0M88.4 461.0h0M89.1 461.1h0M89.8 460.8h0M90.5 461.4h0M91.2 461.3h0M91.9 461.3h0M92.7 461.4h0M93.4 461.7h0M94.1 461.5h0M94.8 461.2h0M95.5 461.8h0M96.2 461.4h0M96.9 461.3h0M97.6 461.0h0M98.3 461.3h0M99.0 460.9h0M99.8 460.8h0M100.5 460.8h0M101.2 460.4h0M101.9 460.4h0M102.6 459.8h0M103.3 459.3h0M104.0 458.9h0M104.7 458.5h0M105.4 458.4h0M106.1 457.8h0M106.9 457.0h0M107.6 456.6h0M108.3 455.5h0M109.0 454.2h0M109.7 452.5h0M110.4 451.4h0M111.1 449.4h0M111.8 447.2h0M112.5 444.6h0M113.2 441.8h0M114.0 439.0h0M114.7 435.6h0M115.4 432.1h0M116.1 428.6h0M116.8 424.9h0M117.5 421.5h0M118.2 417.9h0M118.9 414.1h0M119.6 410.9h0M120.3 407.3h0M121.1 403.9h0M121.8 400.2h0M122.5 396.9h0M123.2 393.4h0M123.9 391.0h0M124.6 387.3h0M125.3 385.1h0M126.0 382.6h0M126.7 380.6h0M127.4 378.3h0M128.2 376.3h0M128.9 374.6h0M129.6 373.5h0M130.3 372.6h0M131.0 371.8h0M131.7 371.2h0M132.4 370.9h0M133.1 371.0h0M133.8 371.7h0M134.5 371.8h0M135.3 373.2h0M136.0 375.0h0M136.7 376.2h0M137.4 377.7h0M138.1 379.8h0M138.8 381.4h0M139.5 383.7h0M140.2 386.4h0M140.9 388.8h0M141.6 390.1h0M142.4 393.2h0M143.1 395.8h0M143.8 397.2h0M144.5 399.4h0M145.2 401.7h0M145.9 402.9h0M146.6 404.7h0M147.3 405.9h0M148.0 406.5h0M148.7 407.9h0M149.5 408.2h0M150.2 408.6h0M150.9 409.0h0M151.6 408.5h0M152.3 407.6h0M153.0 406.8h0M153.7 404.9h0M154.4 402.2h0M155.1 396.9h0M155.8 391.6h0M156.6 386.5h0M157.3 382.8h0M158.0 378.1h0M158.7 373.0h0M159.4 367.7h0M160.1 362.3h0M160.8 356.5h0M161.5 349.9h0M162.2 342.9h0M162.9 337.6h0M163.7 331.7h0M164.4 326.0h0M165.1 321.3h0M165.8 317.4h0M166.5 312.7h0M167.2 307.9h0M167.9 303.4h0M168.6 299.4h0M169.3 295.3h0M170.0 293.1h0M170.8 291.0h0M171.5 289.7h0M172.2 287.5h0M172.9 285.8h0M173.6 284.7h0M174.3 284.6h0M175.0 284.7h0M175.7 285.9h0M176.4 288.3h0M177.1 289.8h0M177.9 291.7h0M178.6 294.6h0M179.3 296.0h0M180.0 299.1h0M180.7 302.8h0M181.4 307.1h0M182.1 312.1h0M182.8 317.3h0M183.5 322.9h0M184.2 328.5h0M185.0 334.3h0M185.7 341.3h0M186.4 349.0h0M187.1 357.2h0M187.8 363.3h0M188.5 369.5h0M189.2 375.0h0M189.9 380.5h0M190.6 385.3h0M191.3 390.9h0M192.1 396.7h0M192.8 402.2h0M193.5 408.2h0M194.2 414.8h0M194.9 420.2h0M195.6 423.7h0M196.3 426.4h0M197.0 428.7h0M197.7 430.8h0M198.4 433.8h0M199.2 437.4h0M199.9 441.1h0M200.6 444.8h0M201.3 448.2h0M202.0 451.1h0M202.7 453.7h0M203.4 456.8h0M204.1 458.9h0M204.8 460.3h0M205.5 462.1h0M206.3 463.7h0M207.0 465.2h0M207.7 466.8h0M208.4 467.8h0M209.1 468.7h0M209.8 469.6h0M210.5 470.4h0M211.2 470.9h0M211.9 471.5h0M212.6 471.8h0M213.4 471.9h0M214.1 472.7h0M214.8 473.7h0M215.5 473.3h0M216.2 473.6h0M216.9 474.4h0M217.6 474.4h0M218.3 474.6h0M219.0 475.5h0M219.7 475.5h0M220.5 475.8h0M221.2 475.7h0M221.9 476.3h0M222.6 476.5h0M223.3 476.9h0M224.0 477.2h0M224.7 477.4h0M225.4 477.4h0M226.1 477.7h0M226.8 477.4h0M227.6 478.1h0M228.3 478.3h0M229.0 478.2h0M229.7 478.2h0M230.4 478.6h0M231.1 478.5h0M231.8 479.1h0M232.5 479.2h0M233.2 479.0h0M233.9 479.5h0M234.7 479.9h0M235.4 480.0h0M236.1 480.2h0M236.8 480.0h0M237.5 480.0h0M238.2 480.1h0M238.9 480.5h0M239.6 481.1h0M240.3 481.0h0M241.0 481.2h0M241.8 481.2h0M242.5 480.5h0M243.2 481.0h0M243.9 481.0h0M244.6 481.6h0M245.3 481.9h0M246.0 481.3h0M246.7 481.6h0M247.4 481.9h0M248.1 481.7h0M248.9 481.7h0M249.6 481.8h0M250.3 482.3h0M251.0 481.9h0M251.7 482.5h0M252.4 482.3h0M253.1 482.6h0M253.8 482.9h0M254.5 482.3h0M255.2 482.4h0M256.0 482.8h0M256.7 482.4h0M257.4 482.6h0M258.1 482.9h0M258.8 483.1h0M259.5 482.8h0M260.2 483.1h0M260.9 483.5h0M261.6 483.8h0M262.3 483.0h0M263.1 484.0h0M263.8 484.0h0M264.5 483.5h0M265.2 483.5h0M265.9 484.1h0M266.6 484.0h0M267.3 484.3h0M268.0 484.6h0M268.7 484.3h0M269.4 484.6h0M270.2 484.8h0M270.9 485.0h0M271.6 485.3h0M272.3 485.4h0M273.0 485.1h0M273.7 485.1h0M274.4 486.0h0M275.1 485.6h0M275.8 485.6h0M276.5 485.3h0M277.3 486.0h0" stroke="#300a10" stroke-width="2.45" stroke-linecap="round"/>
</g>
<g clip-path="url(#cpd)" fill="none">
<path d="M277.6 487.5 L278.1 487.5 L278.6 487.5 L279.1 487.5 L279.6 487.5 L280.1 487.5 L280.6 487.5 L281.1 487.5 L281.6 487.5 L282.1 487.5 L282.6 487.5 L283.1 487.5 L283.6 487.5 L284.1 487.5 L284.6 487.5 L285.1 487.5 L285.6 487.5 L286.1 487.5 L286.6 487.5 L287.1 487.5 L287.6 487.5 L288.1 487.5 L288.6 487.5 L289.1 487.5 L289.6 487.5 L290.1 487.5 L290.6 487.5 L291.1 487.5 L291.6 487.5 L292.1 487.5 L292.6 487.5 L293.1 487.5 L293.6 487.5 L294.1 487.5 L294.6 487.5 L295.1 487.5 L295.6 487.5 L296.1 487.5 L296.6 487.5 L297.1 487.5 L297.6 487.5 L298.1 487.5 L298.6 487.5 L299.1 487.5 L299.6 487.5 L300.1 487.5 L300.6 487.5 L301.1 487.5 L301.6 487.5 L302.1 487.5 L302.6 487.5 L303.1 487.5 L303.6 487.5 L304.1 487.5 L304.6 487.5 L305.1 487.5 L305.6 487.5 L306.1 487.5 L306.6 487.5 L307.1 487.5 L307.6 487.5 L308.1 487.5 L308.6 487.5 L309.1 487.4 L309.6 487.4 L310.1 487.4 L310.6 487.4 L311.1 487.4 L311.6 487.4 L312.1 487.4 L312.6 487.4 L313.1 487.4 L313.6 487.4 L314.1 487.4 L314.6 487.4 L315.1 487.4 L315.6 487.4 L316.1 487.4 L316.6 487.4 L317.1 487.4 L317.6 487.4 L318.1 487.4 L318.6 487.4 L319.1 487.4 L319.6 487.4 L320.1 487.4 L320.6 487.4 L321.1 487.4 L321.6 487.4 L322.1 487.4 L322.6 487.4 L323.1 487.4 L323.6 487.4 L324.1 487.4 L324.6 487.4 L325.1 487.4 L325.6 487.4 L326.1 487.4 L326.6 487.4 L327.1 487.4 L327.6 487.4 L328.1 487.4 L328.6 487.4 L329.1 487.3 L329.6 487.3 L330.1 487.3 L330.6 487.3 L331.1 487.3 L331.6 487.3 L332.1 487.3 L332.6 487.3 L333.1 487.3 L333.6 487.3 L334.1 487.3 L334.6 487.3 L335.1 487.3 L335.6 487.3 L336.1 487.3 L336.6 487.3 L337.1 487.3 L337.6 487.3 L338.1 487.2 L338.6 487.2 L339.1 487.2 L339.6 487.2 L340.1 487.2 L340.6 487.2 L341.1 487.2 L341.6 487.1 L342.1 487.1 L342.6 487.1 L343.1 487.1 L343.6 487.0 L344.1 487.0 L344.6 487.0 L345.1 486.9 L345.6 486.9 L346.1 486.9 L346.6 486.8 L347.1 486.7 L347.6 486.7 L348.1 486.6 L348.6 486.5 L349.1 486.4 L349.6 486.3 L350.1 486.2 L350.6 486.1 L351.1 485.9 L351.6 485.8 L352.1 485.6 L352.6 485.4 L353.1 485.2 L353.6 485.0 L354.1 484.8 L354.6 484.5 L355.1 484.2 L355.6 483.9 L356.1 483.6 L356.6 483.2 L357.1 482.8 L357.6 482.4 L358.1 481.9 L358.6 481.4 L359.1 480.9 L359.6 480.3 L360.1 479.7 L360.6 479.0 L361.1 478.3 L361.6 477.6 L362.1 476.8 L362.6 476.0 L363.1 475.1 L363.6 474.2 L364.1 473.3 L364.6 472.3 L365.1 471.3 L365.6 470.2 L366.1 469.1 L366.6 468.0 L367.1 466.8 L367.6 465.6 L368.1 464.4 L368.6 463.1 L369.1 461.8 L369.6 460.5 L370.1 459.2 L370.6 457.8 L371.1 456.5 L371.6 455.2 L372.1 453.8 L372.6 452.5 L373.1 451.2 L373.6 449.9 L374.1 448.6 L374.6 447.4 L375.1 446.2 L375.6 445.1 L376.1 444.0 L376.6 442.9 L377.1 442.0 L377.6 441.0 L378.1 440.2 L378.6 439.4 L379.1 438.7 L379.6 438.1 L380.1 437.6 L380.6 437.2 L381.1 436.9 L381.6 436.6 L382.1 436.5 L382.6 436.4 L383.1 436.5 L383.6 436.6 L384.1 436.9 L384.6 437.2 L385.1 437.6 L385.6 438.1 L386.1 438.7 L386.6 439.3 L387.1 440.1 L387.6 440.8 L388.1 441.7 L388.6 442.6 L389.1 443.5 L389.6 444.4 L390.1 445.4 L390.6 446.4 L391.1 447.5 L391.6 448.5 L392.1 449.5 L392.6 450.5 L393.1 451.5 L393.6 452.4 L394.1 453.4 L394.6 454.2 L395.1 455.0 L395.6 455.8 L396.1 456.5 L396.6 457.1 L397.1 457.6 L397.6 458.1 L398.1 458.5 L398.6 458.7 L399.1 458.9 L399.6 458.9 L400.1 458.9 L400.6 458.7 L401.1 458.4 L401.6 458.0 L402.1 457.4 L402.6 456.8 L403.1 456.0 L403.6 455.0 L404.1 454.0 L404.6 452.8 L405.1 451.5 L405.6 450.1 L406.1 448.5 L406.6 446.9 L407.1 445.1 L407.6 443.3 L408.1 441.3 L408.6 439.2 L409.1 437.1 L409.6 434.9 L410.1 432.6 L410.6 430.2 L411.1 427.8 L411.6 425.4 L412.1 423.0 L412.6 420.5 L413.1 418.0 L413.6 415.5 L414.1 413.1 L414.6 410.7 L415.1 408.3 L415.6 406.0 L416.1 403.7 L416.6 401.6 L417.1 399.5 L417.6 397.6 L418.1 395.7 L418.6 394.0 L419.1 392.5 L419.6 391.1 L420.1 389.9 L420.6 388.8 L421.1 387.9 L421.6 387.2 L422.1 386.7 L422.6 386.4 L423.1 386.3 L423.6 386.4 L424.1 386.6 L424.6 387.1 L425.1 387.8 L425.6 388.6 L426.1 389.6 L426.6 390.9 L427.1 392.2 L427.6 393.8 L428.1 395.5 L428.6 397.3 L429.1 399.3 L429.6 401.4 L430.1 403.6 L430.6 405.9 L431.1 408.3 L431.6 410.7 L432.1 413.2 L432.6 415.8 L433.1 418.4 L433.6 421.1 L434.1 423.7 L434.6 426.4 L435.1 429.1 L435.6 431.7 L436.1 434.4 L436.6 437.0 L437.1 439.5 L437.6 442.0 L438.1 444.5 L438.6 446.9 L439.1 449.2 L439.6 451.5 L440.1 453.7 L440.6 455.8 L441.1 457.8 L441.6 459.8 L442.1 461.6 L442.6 463.4 L443.1 465.1 L443.6 466.7 L444.1 468.2 L444.6 469.7 L445.1 471.0 L445.6 472.3 L446.1 473.5 L446.6 474.7 L447.1 475.7 L447.6 476.7 L448.1 477.6 L448.6 478.4 L449.1 479.2 L449.6 480.0 L450.1 480.6 L450.6 481.2 L451.1 481.8 L451.6 482.3 L452.1 482.8 L452.6 483.2 L453.1 483.6 L453.6 484.0 L454.1 484.3 L454.6 484.6 L455.1 484.9 L455.6 485.1 L456.1 485.3 L456.6 485.5 L457.1 485.7 L457.6 485.9 L458.1 486.0 L458.6 486.1 L459.1 486.2 L459.6 486.3 L460.1 486.4 L460.6 486.5 L461.1 486.6 L461.6 486.7 L462.1 486.7 L462.6 486.8 L463.1 486.8 L463.6 486.9 L464.1 486.9 L464.6 486.9 L465.1 487.0 L465.6 487.0 L466.1 487.0 L466.6 487.0 L467.1 487.1 L467.6 487.1 L468.1 487.1 L468.6 487.1 L469.1 487.1 L469.6 487.1 L470.1 487.1 L470.6 487.2 L471.1 487.2 L471.6 487.2 L472.1 487.2 L472.6 487.2 L473.1 487.2 L473.6 487.2 L474.1 487.2 L474.6 487.2 L475.1 487.2 L475.6 487.2 L476.1 487.2 L476.6 487.2 L477.1 487.3 L477.6 487.3 L478.1 487.3 L478.6 487.3 L479.1 487.3 L479.6 487.3 L480.1 487.3 L480.6 487.3 L481.1 487.3 L481.6 487.3 L482.1 487.3 L482.6 487.3 L483.1 487.3 L483.6 487.3 L484.1 487.3 L484.6 487.3 L485.1 487.3 L485.6 487.3 L486.1 487.3 L486.6 487.3 L487.1 487.3 L487.6 487.4 L488.1 487.4 L488.6 487.4 L489.1 487.4 L489.6 487.4 L490.1 487.4 L490.6 487.4 L491.1 487.4 L491.6 487.4 L492.1 487.4 L492.6 487.4 L493.1 487.4 L493.6 487.4 L494.1 487.4 L494.6 487.4 L495.1 487.4 L495.6 487.4 L496.1 487.4 L496.6 487.4 L497.1 487.4 L497.6 487.4 L498.1 487.4 L498.6 487.4 L499.1 487.4 L499.6 487.4 L500.1 487.4 L500.6 487.4 L501.1 487.4 L501.6 487.4 L502.1 487.4 L502.6 487.4 L503.1 487.4 L503.6 487.4 L504.1 487.4 L504.6 487.4 L505.1 487.4 L505.6 487.4 L506.1 487.4 L506.6 487.4 L507.1 487.4 L507.6 487.4 L508.1 487.4 L508.6 487.5 L509.1 487.5 L509.6 487.5 L510.1 487.5 L510.6 487.5 L511.1 487.5 L511.6 487.5 L512.1 487.5 L512.6 487.5 L513.1 487.5 L513.6 487.5 L514.1 487.5 L514.6 487.5 L515.1 487.5 L515.6 487.5 L516.1 487.5 L516.6 487.5 L517.1 487.5 L517.6 487.5 L518.1 487.5 L518.6 487.5 L519.1 487.5 L519.6 487.5 L520.1 487.5 L520.6 487.5 L521.1 487.5 L521.6 487.5 L522.1 487.5 L522.6 487.5 L523.1 487.5 L523.6 487.5" stroke="#a4a4a4" stroke-width="1.4"/>
<path d="M277.6 487.6 L278.1 487.6 L278.6 487.5 L279.1 487.5 L279.6 487.5 L280.1 487.5 L280.6 487.5 L281.1 487.5 L281.6 487.5 L282.1 487.5 L282.6 487.5 L283.1 487.5 L283.6 487.5 L284.1 487.5 L284.6 487.5 L285.1 487.5 L285.6 487.5 L286.1 487.5 L286.6 487.5 L287.1 487.5 L287.6 487.5 L288.1 487.5 L288.6 487.5 L289.1 487.5 L289.6 487.5 L290.1 487.5 L290.6 487.5 L291.1 487.5 L291.6 487.5 L292.1 487.5 L292.6 487.5 L293.1 487.5 L293.6 487.5 L294.1 487.5 L294.6 487.5 L295.1 487.5 L295.6 487.5 L296.1 487.5 L296.6 487.5 L297.1 487.5 L297.6 487.5 L298.1 487.5 L298.6 487.5 L299.1 487.5 L299.6 487.5 L300.1 487.5 L300.6 487.5 L301.1 487.5 L301.6 487.5 L302.1 487.5 L302.6 487.5 L303.1 487.5 L303.6 487.5 L304.1 487.5 L304.6 487.5 L305.1 487.5 L305.6 487.5 L306.1 487.5 L306.6 487.5 L307.1 487.5 L307.6 487.5 L308.1 487.5 L308.6 487.5 L309.1 487.5 L309.6 487.5 L310.1 487.5 L310.6 487.5 L311.1 487.5 L311.6 487.5 L312.1 487.5 L312.6 487.5 L313.1 487.5 L313.6 487.5 L314.1 487.5 L314.6 487.5 L315.1 487.5 L315.6 487.5 L316.1 487.5 L316.6 487.5 L317.1 487.5 L317.6 487.5 L318.1 487.5 L318.6 487.5 L319.1 487.5 L319.6 487.5 L320.1 487.5 L320.6 487.5 L321.1 487.5 L321.6 487.5 L322.1 487.5 L322.6 487.5 L323.1 487.5 L323.6 487.5 L324.1 487.5 L324.6 487.5 L325.1 487.5 L325.6 487.5 L326.1 487.5 L326.6 487.5 L327.1 487.5 L327.6 487.5 L328.1 487.5 L328.6 487.5 L329.1 487.5 L329.6 487.5 L330.1 487.5 L330.6 487.5 L331.1 487.5 L331.6 487.5 L332.1 487.5 L332.6 487.5 L333.1 487.4 L333.6 487.4 L334.1 487.4 L334.6 487.4 L335.1 487.4 L335.6 487.4 L336.1 487.4 L336.6 487.4 L337.1 487.4 L337.6 487.4 L338.1 487.4 L338.6 487.4 L339.1 487.4 L339.6 487.4 L340.1 487.4 L340.6 487.4 L341.1 487.4 L341.6 487.4 L342.1 487.4 L342.6 487.4 L343.1 487.4 L343.6 487.4 L344.1 487.4 L344.6 487.4 L345.1 487.4 L345.6 487.3 L346.1 487.3 L346.6 487.3 L347.1 487.3 L347.6 487.3 L348.1 487.3 L348.6 487.3 L349.1 487.3 L349.6 487.2 L350.1 487.2 L350.6 487.2 L351.1 487.2 L351.6 487.2 L352.1 487.1 L352.6 487.1 L353.1 487.1 L353.6 487.0 L354.1 487.0 L354.6 486.9 L355.1 486.9 L355.6 486.8 L356.1 486.7 L356.6 486.7 L357.1 486.6 L357.6 486.5 L358.1 486.4 L358.6 486.3 L359.1 486.2 L359.6 486.1 L360.1 485.9 L360.6 485.8 L361.1 485.6 L361.6 485.4 L362.1 485.2 L362.6 485.0 L363.1 484.8 L363.6 484.6 L364.1 484.3 L364.6 484.0 L365.1 483.7 L365.6 483.4 L366.1 483.1 L366.6 482.7 L367.1 482.3 L367.6 481.9 L368.1 481.5 L368.6 481.0 L369.1 480.6 L369.6 480.1 L370.1 479.5 L370.6 479.0 L371.1 478.4 L371.6 477.8 L372.1 477.2 L372.6 476.6 L373.1 475.9 L373.6 475.2 L374.1 474.5 L374.6 473.8 L375.1 473.1 L375.6 472.4 L376.1 471.6 L376.6 470.8 L377.1 470.1 L377.6 469.3 L378.1 468.5 L378.6 467.7 L379.1 467.0 L379.6 466.2 L380.1 465.4 L380.6 464.7 L381.1 463.9 L381.6 463.2 L382.1 462.5 L382.6 461.8 L383.1 461.2 L383.6 460.6 L384.1 460.0 L384.6 459.4 L385.1 458.9 L385.6 458.4 L386.1 458.0 L386.6 457.6 L387.1 457.3 L387.6 457.0 L388.1 456.8 L388.6 456.6 L389.1 456.5 L389.6 456.4 L390.1 456.3 L390.6 456.4 L391.1 456.4 L391.6 456.5 L392.1 456.7 L392.6 456.9 L393.1 457.2 L393.6 457.5 L394.1 457.8 L394.6 458.2 L395.1 458.5 L395.6 459.0 L396.1 459.4 L396.6 459.9 L397.1 460.4 L397.6 460.9 L398.1 461.4 L398.6 461.9 L399.1 462.3 L399.6 462.8 L400.1 463.3 L400.6 463.8 L401.1 464.2 L401.6 464.6 L402.1 465.0 L402.6 465.3 L403.1 465.7 L403.6 465.9 L404.1 466.1 L404.6 466.3 L405.1 466.4 L405.6 466.5 L406.1 466.5 L406.6 466.4 L407.1 466.3 L407.6 466.1 L408.1 465.8 L408.6 465.5 L409.1 465.1 L409.6 464.6 L410.1 464.1 L410.6 463.5 L411.1 462.8 L411.6 462.0 L412.1 461.2 L412.6 460.3 L413.1 459.4 L413.6 458.4 L414.1 457.3 L414.6 456.2 L415.1 455.0 L415.6 453.8 L416.1 452.5 L416.6 451.2 L417.1 449.9 L417.6 448.6 L418.1 447.2 L418.6 445.8 L419.1 444.5 L419.6 443.1 L420.1 441.7 L420.6 440.3 L421.1 439.0 L421.6 437.7 L422.1 436.4 L422.6 435.2 L423.1 434.0 L423.6 432.9 L424.1 431.9 L424.6 430.9 L425.1 430.0 L425.6 429.1 L426.1 428.4 L426.6 427.7 L427.1 427.2 L427.6 426.7 L428.1 426.4 L428.6 426.1 L429.1 426.0 L429.6 425.9 L430.1 426.0 L430.6 426.2 L431.1 426.5 L431.6 426.9 L432.1 427.4 L432.6 428.0 L433.1 428.7 L433.6 429.5 L434.1 430.4 L434.6 431.3 L435.1 432.4 L435.6 433.5 L436.1 434.7 L436.6 436.0 L437.1 437.3 L437.6 438.6 L438.1 440.1 L438.6 441.5 L439.1 443.0 L439.6 444.5 L440.1 446.0 L440.6 447.6 L441.1 449.1 L441.6 450.7 L442.1 452.2 L442.6 453.8 L443.1 455.3 L443.6 456.8 L444.1 458.3 L444.6 459.8 L445.1 461.2 L445.6 462.6 L446.1 464.0 L446.6 465.3 L447.1 466.6 L447.6 467.8 L448.1 469.0 L448.6 470.2 L449.1 471.3 L449.6 472.3 L450.1 473.3 L450.6 474.3 L451.1 475.2 L451.6 476.1 L452.1 476.9 L452.6 477.7 L453.1 478.5 L453.6 479.1 L454.1 479.8 L454.6 480.4 L455.1 481.0 L455.6 481.5 L456.1 482.0 L456.6 482.5 L457.1 482.9 L457.6 483.3 L458.1 483.6 L458.6 484.0 L459.1 484.3 L459.6 484.6 L460.1 484.8 L460.6 485.1 L461.1 485.3 L461.6 485.5 L462.1 485.7 L462.6 485.8 L463.1 486.0 L463.6 486.1 L464.1 486.2 L464.6 486.4 L465.1 486.5 L465.6 486.5 L466.1 486.6 L466.6 486.7 L467.1 486.8 L467.6 486.8 L468.1 486.9 L468.6 486.9 L469.1 487.0 L469.6 487.0 L470.1 487.1 L470.6 487.1 L471.1 487.1 L471.6 487.1 L472.1 487.2 L472.6 487.2 L473.1 487.2 L473.6 487.2 L474.1 487.2 L474.6 487.2 L475.1 487.3 L475.6 487.3 L476.1 487.3 L476.6 487.3 L477.1 487.3 L477.6 487.3 L478.1 487.3 L478.6 487.3 L479.1 487.3 L479.6 487.3 L480.1 487.3 L480.6 487.3 L481.1 487.3 L481.6 487.4 L482.1 487.4 L482.6 487.4 L483.1 487.4 L483.6 487.4 L484.1 487.4 L484.6 487.4 L485.1 487.4 L485.6 487.4 L486.1 487.4 L486.6 487.4 L487.1 487.4 L487.6 487.4 L488.1 487.4 L488.6 487.4 L489.1 487.4 L489.6 487.4 L490.1 487.4 L490.6 487.4 L491.1 487.4 L491.6 487.4 L492.1 487.4 L492.6 487.4 L493.1 487.4 L493.6 487.4 L494.1 487.4 L494.6 487.4 L495.1 487.4 L495.6 487.4 L496.1 487.4 L496.6 487.4 L497.1 487.4 L497.6 487.4 L498.1 487.5 L498.6 487.5 L499.1 487.5 L499.6 487.5 L500.1 487.5 L500.6 487.5 L501.1 487.5 L501.6 487.5 L502.1 487.5 L502.6 487.5 L503.1 487.5 L503.6 487.5 L504.1 487.5 L504.6 487.5 L505.1 487.5 L505.6 487.5 L506.1 487.5 L506.6 487.5 L507.1 487.5 L507.6 487.5 L508.1 487.5 L508.6 487.5 L509.1 487.5 L509.6 487.5 L510.1 487.5 L510.6 487.5 L511.1 487.5 L511.6 487.5 L512.1 487.5 L512.6 487.5 L513.1 487.5 L513.6 487.5 L514.1 487.5 L514.6 487.5 L515.1 487.5 L515.6 487.5 L516.1 487.5 L516.6 487.5 L517.1 487.5 L517.6 487.5 L518.1 487.5 L518.6 487.5 L519.1 487.5 L519.6 487.5 L520.1 487.5 L520.6 487.5 L521.1 487.5 L521.6 487.5 L522.1 487.5 L522.6 487.5 L523.1 487.5 L523.6 487.5" stroke="#7c2c32" stroke-width="1.4"/>
<path d="M277.6 487.5 L278.1 487.5 L278.6 487.5 L279.1 487.5 L279.6 487.5 L280.1 487.5 L280.6 487.5 L281.1 487.5 L281.6 487.5 L282.1 487.5 L282.6 487.5 L283.1 487.5 L283.6 487.5 L284.1 487.5 L284.6 487.5 L285.1 487.5 L285.6 487.5 L286.1 487.5 L286.6 487.5 L287.1 487.5 L287.6 487.5 L288.1 487.5 L288.6 487.5 L289.1 487.5 L289.6 487.5 L290.1 487.5 L290.6 487.5 L291.1 487.5 L291.6 487.5 L292.1 487.5 L292.6 487.5 L293.1 487.5 L293.6 487.5 L294.1 487.5 L294.6 487.5 L295.1 487.5 L295.6 487.5 L296.1 487.5 L296.6 487.5 L297.1 487.5 L297.6 487.5 L298.1 487.5 L298.6 487.5 L299.1 487.5 L299.6 487.5 L300.1 487.5 L300.6 487.5 L301.1 487.5 L301.6 487.5 L302.1 487.5 L302.6 487.5 L303.1 487.5 L303.6 487.5 L304.1 487.5 L304.6 487.5 L305.1 487.5 L305.6 487.5 L306.1 487.5 L306.6 487.5 L307.1 487.5 L307.6 487.5 L308.1 487.5 L308.6 487.5 L309.1 487.5 L309.6 487.5 L310.1 487.5 L310.6 487.5 L311.1 487.5 L311.6 487.5 L312.1 487.5 L312.6 487.5 L313.1 487.5 L313.6 487.5 L314.1 487.5 L314.6 487.5 L315.1 487.5 L315.6 487.5 L316.1 487.5 L316.6 487.5 L317.1 487.5 L317.6 487.5 L318.1 487.4 L318.6 487.4 L319.1 487.4 L319.6 487.4 L320.1 487.4 L320.6 487.4 L321.1 487.4 L321.6 487.4 L322.1 487.4 L322.6 487.4 L323.1 487.4 L323.6 487.4 L324.1 487.4 L324.6 487.4 L325.1 487.4 L325.6 487.4 L326.1 487.4 L326.6 487.4 L327.1 487.4 L327.6 487.4 L328.1 487.4 L328.6 487.4 L329.1 487.4 L329.6 487.3 L330.1 487.3 L330.6 487.3 L331.1 487.3 L331.6 487.3 L332.1 487.3 L332.6 487.3 L333.1 487.2 L333.6 487.2 L334.1 487.2 L334.6 487.2 L335.1 487.1 L335.6 487.1 L336.1 487.1 L336.6 487.0 L337.1 487.0 L337.6 486.9 L338.1 486.9 L338.6 486.8 L339.1 486.7 L339.6 486.6 L340.1 486.5 L340.6 486.4 L341.1 486.3 L341.6 486.2 L342.1 486.1 L342.6 485.9 L343.1 485.7 L343.6 485.6 L344.1 485.4 L344.6 485.2 L345.1 484.9 L345.6 484.7 L346.1 484.4 L346.6 484.1 L347.1 483.8 L347.6 483.4 L348.1 483.1 L348.6 482.7 L349.1 482.3 L349.6 481.8 L350.1 481.3 L350.6 480.8 L351.1 480.3 L351.6 479.7 L352.1 479.2 L352.6 478.5 L353.1 477.9 L353.6 477.2 L354.1 476.5 L354.6 475.8 L355.1 475.1 L355.6 474.3 L356.1 473.5 L356.6 472.7 L357.1 471.9 L357.6 471.0 L358.1 470.2 L358.6 469.3 L359.1 468.5 L359.6 467.6 L360.1 466.7 L360.6 465.9 L361.1 465.0 L361.6 464.2 L362.1 463.3 L362.6 462.5 L363.1 461.8 L363.6 461.0 L364.1 460.3 L364.6 459.6 L365.1 459.0 L365.6 458.4 L366.1 457.8 L366.6 457.3 L367.1 456.9 L367.6 456.5 L368.1 456.2 L368.6 455.9 L369.1 455.7 L369.6 455.6 L370.1 455.5 L370.6 455.5 L371.1 455.6 L371.6 455.7 L372.1 455.9 L372.6 456.1 L373.1 456.4 L373.6 456.8 L374.1 457.2 L374.6 457.7 L375.1 458.2 L375.6 458.8 L376.1 459.4 L376.6 460.0 L377.1 460.7 L377.6 461.3 L378.1 462.1 L378.6 462.8 L379.1 463.5 L379.6 464.3 L380.1 465.0 L380.6 465.7 L381.1 466.5 L381.6 467.2 L382.1 467.9 L382.6 468.5 L383.1 469.2 L383.6 469.8 L384.1 470.4 L384.6 470.9 L385.1 471.4 L385.6 471.8 L386.1 472.2 L386.6 472.5 L387.1 472.7 L387.6 472.9 L388.1 473.1 L388.6 473.1 L389.1 473.1 L389.6 473.0 L390.1 472.8 L390.6 472.6 L391.1 472.3 L391.6 471.9 L392.1 471.4 L392.6 470.8 L393.1 470.2 L393.6 469.4 L394.1 468.6 L394.6 467.7 L395.1 466.8 L395.6 465.7 L396.1 464.6 L396.6 463.4 L397.1 462.1 L397.6 460.8 L398.1 459.4 L398.6 458.0 L399.1 456.5 L399.6 455.0 L400.1 453.4 L400.6 451.8 L401.1 450.2 L401.6 448.5 L402.1 446.9 L402.6 445.2 L403.1 443.6 L403.6 441.9 L404.1 440.3 L404.6 438.7 L405.1 437.1 L405.6 435.6 L406.1 434.2 L406.6 432.8 L407.1 431.5 L407.6 430.3 L408.1 429.1 L408.6 428.1 L409.1 427.1 L409.6 426.3 L410.1 425.6 L410.6 425.0 L411.1 424.5 L411.6 424.2 L412.1 423.9 L412.6 423.8 L413.1 423.9 L413.6 424.1 L414.1 424.4 L414.6 424.8 L415.1 425.4 L415.6 426.1 L416.1 426.9 L416.6 427.8 L417.1 428.8 L417.6 429.9 L418.1 431.2 L418.6 432.5 L419.1 433.9 L419.6 435.3 L420.1 436.8 L420.6 438.4 L421.1 440.0 L421.6 441.7 L422.1 443.4 L422.6 445.1 L423.1 446.8 L423.6 448.5 L424.1 450.3 L424.6 452.0 L425.1 453.7 L425.6 455.4 L426.1 457.0 L426.6 458.7 L427.1 460.3 L427.6 461.8 L428.1 463.4 L428.6 464.8 L429.1 466.2 L429.6 467.6 L430.1 468.9 L430.6 470.2 L431.1 471.4 L431.6 472.5 L432.1 473.6 L432.6 474.7 L433.1 475.7 L433.6 476.6 L434.1 477.4 L434.6 478.3 L435.1 479.0 L435.6 479.7 L436.1 480.4 L436.6 481.0 L437.1 481.6 L437.6 482.1 L438.1 482.6 L438.6 483.0 L439.1 483.5 L439.6 483.8 L440.1 484.2 L440.6 484.5 L441.1 484.8 L441.6 485.0 L442.1 485.3 L442.6 485.5 L443.1 485.7 L443.6 485.9 L444.1 486.0 L444.6 486.2 L445.1 486.3 L445.6 486.4 L446.1 486.5 L446.6 486.6 L447.1 486.7 L447.6 486.8 L448.1 486.8 L448.6 486.9 L449.1 486.9 L449.6 487.0 L450.1 487.0 L450.6 487.1 L451.1 487.1 L451.6 487.1 L452.1 487.1 L452.6 487.2 L453.1 487.2 L453.6 487.2 L454.1 487.2 L454.6 487.2 L455.1 487.3 L455.6 487.3 L456.1 487.3 L456.6 487.3 L457.1 487.3 L457.6 487.3 L458.1 487.3 L458.6 487.3 L459.1 487.3 L459.6 487.3 L460.1 487.3 L460.6 487.3 L461.1 487.4 L461.6 487.4 L462.1 487.4 L462.6 487.4 L463.1 487.4 L463.6 487.4 L464.1 487.4 L464.6 487.4 L465.1 487.4 L465.6 487.4 L466.1 487.4 L466.6 487.4 L467.1 487.4 L467.6 487.4 L468.1 487.4 L468.6 487.4 L469.1 487.4 L469.6 487.4 L470.1 487.4 L470.6 487.4 L471.1 487.4 L471.6 487.4 L472.1 487.4 L472.6 487.4 L473.1 487.4 L473.6 487.4 L474.1 487.4 L474.6 487.4 L475.1 487.4 L475.6 487.4 L476.1 487.4 L476.6 487.5 L477.1 487.5 L477.6 487.5 L478.1 487.5 L478.6 487.5 L479.1 487.5 L479.6 487.5 L480.1 487.5 L480.6 487.5 L481.1 487.5 L481.6 487.5 L482.1 487.5 L482.6 487.5 L483.1 487.5 L483.6 487.5 L484.1 487.5 L484.6 487.5 L485.1 487.5 L485.6 487.5 L486.1 487.5 L486.6 487.5 L487.1 487.5 L487.6 487.5 L488.1 487.5 L488.6 487.5 L489.1 487.5 L489.6 487.5 L490.1 487.5 L490.6 487.5 L491.1 487.5 L491.6 487.5 L492.1 487.5 L492.6 487.5 L493.1 487.5 L493.6 487.5 L494.1 487.5 L494.6 487.5 L495.1 487.5 L495.6 487.5 L496.1 487.5 L496.6 487.5 L497.1 487.5 L497.6 487.5 L498.1 487.5 L498.6 487.5 L499.1 487.5 L499.6 487.5 L500.1 487.5 L500.6 487.5 L501.1 487.5 L501.6 487.5 L502.1 487.5 L502.6 487.5 L503.1 487.5 L503.6 487.5 L504.1 487.5 L504.6 487.5 L505.1 487.5 L505.6 487.5 L506.1 487.5 L506.6 487.5 L507.1 487.5 L507.6 487.5 L508.1 487.5 L508.6 487.5 L509.1 487.5 L509.6 487.5 L510.1 487.5 L510.6 487.5 L511.1 487.5 L511.6 487.5 L512.1 487.5 L512.6 487.5 L513.1 487.5 L513.6 487.5 L514.1 487.5 L514.6 487.5 L515.1 487.5 L515.6 487.5 L516.1 487.5 L516.6 487.5 L517.1 487.5 L517.6 487.5 L518.1 487.5 L518.6 487.5 L519.1 487.5 L519.6 487.5 L520.1 487.5 L520.6 487.5 L521.1 487.5 L521.6 487.5 L522.1 487.5 L522.6 487.5 L523.1 487.5 L523.6 487.5" stroke="#303030" stroke-width="1.5"/>
<path d="M277.6 477.2 L278.1 477.2 L278.6 477.2 L279.1 477.2 L279.6 477.2 L280.1 477.2 L280.6 477.2 L281.1 477.2 L281.6 477.2 L282.1 477.2 L282.6 477.2 L283.1 477.2 L283.6 477.2 L284.1 477.2 L284.6 477.2 L285.1 477.2 L285.6 477.2 L286.1 477.2 L286.6 477.2 L287.1 477.2 L287.6 477.2 L288.1 477.2 L288.6 477.2 L289.1 477.2 L289.6 477.2 L290.1 477.2 L290.6 477.2 L291.1 477.2 L291.6 477.2 L292.1 477.2 L292.6 477.2 L293.1 477.2 L293.6 477.2 L294.1 477.2 L294.6 477.2 L295.1 477.2 L295.6 477.2 L296.1 477.2 L296.6 477.2 L297.1 477.2 L297.6 477.2 L298.1 477.2 L298.6 477.2 L299.1 477.2 L299.6 477.2 L300.1 477.2 L300.6 477.2 L301.1 477.2 L301.6 477.2 L302.1 477.2 L302.6 477.2 L303.1 477.2 L303.6 477.2 L304.1 477.2 L304.6 477.2 L305.1 477.2 L305.6 477.2 L306.1 477.2 L306.6 477.2 L307.1 477.2 L307.6 477.2 L308.1 477.2 L308.6 477.2 L309.1 477.2 L309.6 477.2 L310.1 477.2 L310.6 477.2 L311.1 477.2 L311.6 477.2 L312.1 477.2 L312.6 477.2 L313.1 477.2 L313.6 477.2 L314.1 477.2 L314.6 477.2 L315.1 477.2 L315.6 477.2 L316.1 477.2 L316.6 477.2 L317.1 477.2 L317.6 477.2 L318.1 477.2 L318.6 477.2 L319.1 477.2 L319.6 477.2 L320.1 477.2 L320.6 477.2 L321.1 477.2 L321.6 477.2 L322.1 477.2 L322.6 477.2 L323.1 477.2 L323.6 477.2 L324.1 477.2 L324.6 477.1 L325.1 477.1 L325.6 477.1 L326.1 477.1 L326.6 477.1 L327.1 477.1 L327.6 477.1 L328.1 477.1 L328.6 477.1 L329.1 477.1 L329.6 477.1 L330.1 477.1 L330.6 477.1 L331.1 477.1 L331.6 477.0 L332.1 477.0 L332.6 477.0 L333.1 477.0 L333.6 477.0 L334.1 476.9 L334.6 476.9 L335.1 476.9 L335.6 476.9 L336.1 476.8 L336.6 476.8 L337.1 476.7 L337.6 476.7 L338.1 476.6 L338.6 476.6 L339.1 476.5 L339.6 476.4 L340.1 476.4 L340.6 476.3 L341.1 476.2 L341.6 476.1 L342.1 476.0 L342.6 475.9 L343.1 475.8 L343.6 475.6 L344.1 475.5 L344.6 475.3 L345.1 475.1 L345.6 474.9 L346.1 474.7 L346.6 474.4 L347.1 474.1 L347.6 473.8 L348.1 473.6 L348.6 473.3 L349.1 472.9 L349.6 472.6 L350.1 472.2 L350.6 471.8 L351.1 471.3 L351.6 470.8 L352.1 470.3 L352.6 469.7 L353.1 469.1 L353.6 468.5 L354.1 467.9 L354.6 467.2 L355.1 466.4 L355.6 465.5 L356.1 464.5 L356.6 463.5 L357.1 462.3 L357.6 461.2 L358.1 459.9 L358.6 458.6 L359.1 457.2 L359.6 455.7 L360.1 453.9 L360.6 451.2 L361.1 447.6 L361.6 443.7 L362.1 440.2 L362.6 437.4 L363.1 435.1 L363.6 432.8 L364.1 430.6 L364.6 428.4 L365.1 426.2 L365.6 423.9 L366.1 421.7 L366.6 419.4 L367.1 417.1 L367.6 414.8 L368.1 412.6 L368.6 410.5 L369.1 408.4 L369.6 406.4 L370.1 404.4 L370.6 402.4 L371.1 400.5 L371.6 398.6 L372.1 396.8 L372.6 395.1 L373.1 393.4 L373.6 391.7 L374.1 390.2 L374.6 388.7 L375.1 387.3 L375.6 386.0 L376.1 384.8 L376.6 383.7 L377.1 382.8 L377.6 381.9 L378.1 381.1 L378.6 380.5 L379.1 380.1 L379.6 379.8 L380.1 379.7 L380.6 379.6 L381.1 379.6 L381.6 379.6 L382.1 379.6 L382.6 379.6 L383.1 379.7 L383.6 379.9 L384.1 380.2 L384.6 380.5 L385.1 381.0 L385.6 381.5 L386.1 382.1 L386.6 382.8 L387.1 383.6 L387.6 384.6 L388.1 385.7 L388.6 386.8 L389.1 388.0 L389.6 389.2 L390.1 390.4 L390.6 391.5 L391.1 392.6 L391.6 393.7 L392.1 394.7 L392.6 395.7 L393.1 396.7 L393.6 397.5 L394.1 398.2 L394.6 398.8 L395.1 399.2 L395.6 399.5 L396.1 399.5 L396.6 399.3 L397.1 399.0 L397.6 398.5 L398.1 397.8 L398.6 396.9 L399.1 395.8 L399.6 394.5 L400.1 393.1 L400.6 391.1 L401.1 388.7 L401.6 386.1 L402.1 383.4 L402.6 380.9 L403.1 378.6 L403.6 376.4 L404.1 374.0 L404.6 371.5 L405.1 368.9 L405.6 366.2 L406.1 363.4 L406.6 361.0 L407.1 358.7 L407.6 356.2 L408.1 353.1 L408.6 349.8 L409.1 346.5 L409.6 343.1 L410.1 339.8 L410.6 336.5 L411.1 333.4 L411.6 330.1 L412.1 326.7 L412.6 323.3 L413.1 319.8 L413.6 316.5 L414.1 313.1 L414.6 309.7 L415.1 305.9 L415.6 302.0 L416.1 298.6 L416.6 295.9 L417.1 293.5 L417.6 291.2 L418.1 289.2 L418.6 287.4 L419.1 285.9 L419.6 284.7 L420.1 284.2 L420.6 283.9 L421.1 283.7 L421.6 283.4 L422.1 283.4 L422.6 283.6 L423.1 284.1 L423.6 284.8 L424.1 285.8 L424.6 287.1 L425.1 288.8 L425.6 291.0 L426.1 293.5 L426.6 296.3 L427.1 299.5 L427.6 303.6 L428.1 307.9 L428.6 311.8 L429.1 315.0 L429.6 318.1 L430.1 321.3 L430.6 324.6 L431.1 328.1 L431.6 332.0 L432.1 335.9 L432.6 340.0 L433.1 344.0 L433.6 347.8 L434.1 351.8 L434.6 356.3 L435.1 361.6 L435.6 367.1 L436.1 371.7 L436.6 375.1 L437.1 377.9 L437.6 380.7 L438.1 384.2 L438.6 388.9 L439.1 394.2 L439.6 399.1 L440.1 403.1 L440.6 406.5 L441.1 409.7 L441.6 412.9 L442.1 416.3 L442.6 419.7 L443.1 423.0 L443.6 426.2 L444.1 429.3 L444.6 432.2 L445.1 434.9 L445.6 437.4 L446.1 439.8 L446.6 442.1 L447.1 444.4 L447.6 446.9 L448.1 449.6 L448.6 452.4 L449.1 455.1 L449.6 457.5 L450.1 459.6 L450.6 461.2 L451.1 462.7 L451.6 464.1 L452.1 465.4 L452.6 466.6 L453.1 467.7 L453.6 468.7 L454.1 469.6 L454.6 470.5 L455.1 471.3 L455.6 472.0 L456.1 472.7 L456.6 473.3 L457.1 473.9 L457.6 474.4 L458.1 474.9 L458.6 475.3 L459.1 475.8 L459.6 476.2 L460.1 476.6 L460.6 477.0 L461.1 477.3 L461.6 477.7 L462.1 478.0 L462.6 478.3 L463.1 478.6 L463.6 478.9 L464.1 479.2 L464.6 479.4 L465.1 479.6 L465.6 479.9 L466.1 480.1 L466.6 480.2 L467.1 480.4 L467.6 480.6 L468.1 480.8 L468.6 481.0 L469.1 481.1 L469.6 481.3 L470.1 481.5 L470.6 481.6 L471.1 481.8 L471.6 481.9 L472.1 482.0 L472.6 482.2 L473.1 482.3 L473.6 482.4 L474.1 482.5 L474.6 482.6 L475.1 482.7 L475.6 482.7 L476.1 482.8 L476.6 482.9 L477.1 483.0 L477.6 483.0 L478.1 483.1 L478.6 483.2 L479.1 483.2 L479.6 483.3 L480.1 483.3 L480.6 483.4 L481.1 483.4 L481.6 483.5 L482.1 483.5 L482.6 483.6 L483.1 483.6 L483.6 483.7 L484.1 483.7 L484.6 483.8 L485.1 483.8 L485.6 483.9 L486.1 483.9 L486.6 484.0 L487.1 484.0 L487.6 484.0 L488.1 484.1 L488.6 484.1 L489.1 484.2 L489.6 484.2 L490.1 484.2 L490.6 484.3 L491.1 484.3 L491.6 484.4 L492.1 484.4 L492.6 484.4 L493.1 484.5 L493.6 484.5 L494.1 484.5 L494.6 484.6 L495.1 484.6 L495.6 484.6 L496.1 484.7 L496.6 484.7 L497.1 484.7 L497.6 484.8 L498.1 484.8 L498.6 484.8 L499.1 484.9 L499.6 484.9 L500.1 484.9 L500.6 484.9 L501.1 485.0 L501.6 485.0 L502.1 485.0 L502.6 485.0 L503.1 485.1 L503.6 485.1 L504.1 485.1 L504.6 485.1 L505.1 485.2 L505.6 485.2 L506.1 485.2 L506.6 485.2 L507.1 485.2 L507.6 485.3 L508.1 485.3 L508.6 485.3 L509.1 485.3 L509.6 485.4 L510.1 485.4 L510.6 485.4 L511.1 485.4 L511.6 485.4 L512.1 485.5 L512.6 485.5 L513.1 485.5 L513.6 485.5 L514.1 485.5 L514.6 485.5 L515.1 485.6 L515.6 485.6 L516.1 485.6 L516.6 485.6 L517.1 485.6 L517.6 485.6 L518.1 485.6 L518.6 485.7 L519.1 485.7 L519.6 485.7 L520.1 485.7 L520.6 485.7 L521.1 485.7 L521.6 485.7 L522.1 485.7 L522.6 485.7 L523.1 485.7 L523.6 485.7" stroke="#c07078" stroke-width="0.8"/>
<path d="M277.9 477.0h0M278.6 477.1h0M279.3 476.8h0M280.0 477.1h0M280.7 477.2h0M281.4 476.8h0M282.2 476.9h0M282.9 477.2h0M283.6 476.8h0M284.3 476.8h0M285.0 477.0h0M285.7 476.8h0M286.4 477.4h0M287.1 476.9h0M287.8 477.4h0M288.5 477.4h0M289.3 476.9h0M290.0 477.2h0M290.7 477.1h0M291.4 476.9h0M292.1 477.1h0M292.8 477.1h0M293.5 477.4h0M294.2 477.5h0M294.9 476.9h0M295.6 477.1h0M296.4 477.3h0M297.1 477.5h0M297.8 476.5h0M298.5 477.6h0M299.2 477.1h0M299.9 477.6h0M300.6 477.1h0M301.3 477.0h0M302.0 477.2h0M302.7 477.5h0M303.5 477.2h0M304.2 476.5h0M304.9 477.4h0M305.6 476.8h0M306.3 476.9h0M307.0 476.9h0M307.7 476.7h0M308.4 476.9h0M309.1 476.9h0M309.8 477.0h0M310.6 477.2h0M311.3 477.1h0M312.0 476.8h0M312.7 477.2h0M313.4 477.5h0M314.1 477.5h0M314.8 477.2h0M315.5 477.4h0M316.2 477.4h0M316.9 477.6h0M317.7 477.7h0M318.4 477.1h0M319.1 477.1h0M319.8 477.6h0M320.5 477.6h0M321.2 477.6h0M321.9 476.5h0M322.6 477.1h0M323.3 476.2h0M324.0 477.4h0M324.8 477.2h0M325.5 477.2h0M326.2 477.1h0M326.9 477.5h0M327.6 477.0h0M328.3 477.4h0M329.0 477.3h0M329.7 477.2h0M330.4 477.2h0M331.1 477.1h0M331.9 476.7h0M332.6 477.2h0M333.3 477.2h0M334.0 476.9h0M334.7 477.1h0M335.4 477.1h0M336.1 476.5h0M336.8 476.7h0M337.5 476.6h0M338.2 476.4h0M339.0 476.6h0M339.7 476.2h0M340.4 476.2h0M341.1 476.3h0M341.8 476.2h0M342.5 476.0h0M343.2 476.4h0M343.9 475.4h0M344.6 475.4h0M345.3 474.7h0M346.1 474.8h0M346.8 474.6h0M347.5 474.3h0M348.2 473.3h0M348.9 473.0h0M349.6 472.9h0M350.3 472.0h0M351.0 471.7h0M351.7 470.4h0M352.4 470.3h0M353.2 469.4h0M353.9 468.3h0M354.6 467.0h0M355.3 466.0h0M356.0 464.8h0M356.7 463.3h0M357.4 461.6h0M358.1 459.8h0M358.8 458.0h0M359.5 456.2h0M360.3 452.6h0M361.0 448.2h0M361.7 442.7h0M362.4 438.3h0M363.1 434.6h0M363.8 432.1h0M364.5 428.8h0M365.2 425.5h0M365.9 422.2h0M366.6 419.2h0M367.4 415.9h0M368.1 412.8h0M368.8 409.5h0M369.5 407.0h0M370.2 403.6h0M370.9 401.6h0M371.6 397.7h0M372.3 395.8h0M373.0 393.2h0M373.7 391.5h0M374.5 388.7h0M375.2 387.6h0M375.9 384.9h0M376.6 384.3h0M377.3 382.5h0M378.0 381.3h0M378.7 380.5h0M379.4 380.5h0M380.1 379.9h0M380.8 379.0h0M381.6 379.9h0M382.3 379.7h0M383.0 379.2h0M383.7 380.2h0M384.4 380.1h0M385.1 381.0h0M385.8 381.8h0M386.5 382.5h0M387.2 384.1h0M387.9 385.0h0M388.7 387.0h0M389.4 388.5h0M390.1 390.3h0M390.8 392.5h0M391.5 393.5h0M392.2 394.7h0M392.9 396.3h0M393.6 397.3h0M394.3 398.5h0M395.0 399.2h0M395.8 399.5h0M396.5 399.4h0M397.2 398.8h0M397.9 398.2h0M398.6 397.2h0M399.3 395.1h0M400.0 393.3h0M400.7 390.5h0M401.4 387.3h0M402.1 383.4h0M402.9 379.5h0M403.6 376.5h0M404.3 372.7h0M405.0 369.2h0M405.7 365.6h0M406.4 362.1h0M407.1 358.9h0M407.8 354.7h0M408.5 349.9h0M409.2 345.6h0M410.0 340.6h0M410.7 336.2h0M411.4 331.6h0M412.1 327.0h0M412.8 322.1h0M413.5 317.3h0M414.2 312.2h0M414.9 307.5h0M415.6 301.6h0M416.3 297.3h0M417.1 294.2h0M417.8 290.6h0M418.5 287.5h0M419.2 286.1h0M419.9 284.6h0M420.6 284.2h0M421.3 283.6h0M422.0 283.5h0M422.7 283.6h0M423.4 284.3h0M424.2 286.3h0M424.9 287.9h0M425.6 290.8h0M426.3 294.4h0M427.0 299.4h0M427.7 304.8h0M428.4 310.4h0M429.1 315.2h0M429.8 319.8h0M430.5 324.5h0M431.3 328.9h0M432.0 335.1h0M432.7 340.6h0M433.4 346.0h0M434.1 351.7h0M434.8 358.7h0M435.5 366.7h0M436.2 372.7h0M436.9 377.2h0M437.6 380.8h0M438.4 386.6h0M439.1 394.1h0M439.8 400.2h0M440.5 405.6h0M441.2 410.6h0M441.9 414.5h0M442.6 419.7h0M443.3 424.7h0M444.0 428.5h0M444.7 432.9h0M445.5 436.7h0M446.2 440.4h0M446.9 443.1h0M447.6 447.1h0M448.3 450.8h0M449.0 454.9h0M449.7 458.4h0M450.4 460.7h0M451.1 462.9h0M451.8 464.2h0M452.6 466.1h0M453.3 467.7h0M454.0 469.3h0M454.7 470.9h0M455.4 471.3h0M456.1 472.6h0M456.8 473.2h0M457.5 473.9h0M458.2 475.4h0M458.9 475.7h0M459.7 476.7h0M460.4 477.1h0M461.1 477.0h0M461.8 477.3h0M462.5 478.8h0M463.2 478.6h0M463.9 478.8h0M464.6 479.6h0M465.3 479.8h0M466.0 479.8h0M466.8 480.2h0M467.5 480.6h0M468.2 480.8h0M468.9 481.3h0M469.6 481.2h0M470.3 481.4h0M471.0 481.9h0M471.7 482.0h0M472.4 482.4h0M473.1 482.2h0M473.9 482.4h0M474.6 482.3h0M475.3 483.1h0M476.0 482.4h0M476.7 483.0h0M477.4 482.8h0M478.1 483.2h0M478.8 483.4h0M479.5 482.8h0M480.2 483.3h0M481.0 482.9h0M481.7 483.9h0M482.4 483.5h0M483.1 483.2h0M483.8 483.5h0M484.5 484.1h0M485.2 484.3h0M485.9 484.3h0M486.6 483.7h0M487.3 484.0h0M488.1 484.5h0M488.8 483.9h0M489.5 484.1h0M490.2 484.0h0M490.9 484.0h0M491.6 484.7h0M492.3 484.6h0M493.0 484.6h0M493.7 484.7h0M494.4 484.8h0M495.2 485.0h0M495.9 484.7h0M496.6 484.6h0M497.3 484.5h0M498.0 485.1h0M498.7 484.7h0M499.4 484.5h0M500.1 484.8h0M500.8 485.0h0M501.5 485.2h0M502.3 485.3h0M503.0 484.9h0M503.7 484.9h0M504.4 485.0h0M505.1 484.8h0M505.8 485.2h0M506.5 485.3h0M507.2 485.3h0M507.9 484.8h0M508.6 485.0h0M509.4 485.7h0M510.1 485.1h0M510.8 485.6h0M511.5 485.6h0M512.2 485.4h0M512.9 485.2h0M513.6 485.6h0M514.3 485.3h0M515.0 485.5h0M515.7 485.6h0M516.5 485.4h0M517.2 485.6h0M517.9 485.6h0M518.6 485.3h0M519.3 485.6h0M520.0 485.5h0M520.7 485.2h0M521.4 485.6h0M522.1 485.6h0M522.8 485.5h0M523.6 485.1h0" stroke="#300a10" stroke-width="2.45" stroke-linecap="round"/>
</g>
<g stroke="#3a3a3a" stroke-width="1.1" fill="none">
<rect x="32.0" y="5.2" width="491.7" height="500.7"/>
<path d="M277.6 5.2V505.9M32.0 255.2H523.7"/>
<path d="M274.1 255.2v-1.7M274.1 505.9v-1.7M267.2 255.2v-1.7M267.2 505.9v-1.7M260.4 255.2v-3.6M260.4 505.9v-3.6M253.6 255.2v-1.7M253.6 505.9v-1.7M246.7 255.2v-1.7M246.7 505.9v-1.7M239.9 255.2v-1.7M239.9 505.9v-1.7M233.1 255.2v-1.7M233.1 505.9v-1.7M226.2 255.2v-1.7M226.2 505.9v-1.7M219.4 255.2v-1.7M219.4 505.9v-1.7M212.6 255.2v-1.7M212.6 505.9v-1.7M205.8 255.2v-1.7M205.8 505.9v-1.7M198.9 255.2v-1.7M198.9 505.9v-1.7M192.1 255.2v-3.6M192.1 505.9v-3.6M185.3 255.2v-1.7M185.3 505.9v-1.7M178.4 255.2v-1.7M178.4 505.9v-1.7M171.6 255.2v-1.7M171.6 505.9v-1.7M164.8 255.2v-1.7M164.8 505.9v-1.7M157.9 255.2v-1.7M157.9 505.9v-1.7M151.1 255.2v-1.7M151.1 505.9v-1.7M144.3 255.2v-1.7M144.3 505.9v-1.7M137.5 255.2v-1.7M137.5 505.9v-1.7M130.6 255.2v-1.7M130.6 505.9v-1.7M123.8 255.2v-3.6M123.8 505.9v-3.6M117.0 255.2v-1.7M117.0 505.9v-1.7M110.1 255.2v-1.7M110.1 505.9v-1.7M103.3 255.2v-1.7M103.3 505.9v-1.7M96.5 255.2v-1.7M96.5 505.9v-1.7M89.7 255.2v-1.7M89.7 505.9v-1.7M82.8 255.2v-1.7M82.8 505.9v-1.7M76.0 255.2v-1.7M76.0 505.9v-1.7M69.2 255.2v-1.7M69.2 505.9v-1.7M62.3 255.2v-1.7M62.3 505.9v-1.7M55.5 255.2v-3.6M55.5 505.9v-3.6M48.7 255.2v-1.7M48.7 505.9v-1.7M41.8 255.2v-1.7M41.8 505.9v-1.7M35.0 255.2v-1.7M35.0 505.9v-1.7M519.4 255.2v-1.7M519.4 505.9v-1.7M512.6 255.2v-1.7M512.6 505.9v-1.7M505.8 255.2v-3.6M505.8 505.9v-3.6M499.0 255.2v-1.7M499.0 505.9v-1.7M492.2 255.2v-1.7M492.2 505.9v-1.7M485.4 255.2v-1.7M485.4 505.9v-1.7M478.6 255.2v-1.7M478.6 505.9v-1.7M471.8 255.2v-1.7M471.8 505.9v-1.7M464.9 255.2v-1.7M464.9 505.9v-1.7M458.1 255.2v-1.7M458.1 505.9v-1.7M451.3 255.2v-1.7M451.3 505.9v-1.7M444.5 255.2v-1.7M444.5 505.9v-1.7M437.7 255.2v-3.6M437.7 505.9v-3.6M430.9 255.2v-1.7M430.9 505.9v-1.7M424.1 255.2v-1.7M424.1 505.9v-1.7M417.3 255.2v-1.7M417.3 505.9v-1.7M410.5 255.2v-1.7M410.5 505.9v-1.7M403.7 255.2v-1.7M403.7 505.9v-1.7M396.8 255.2v-1.7M396.8 505.9v-1.7M390.0 255.2v-1.7M390.0 505.9v-1.7M383.2 255.2v-1.7M383.2 505.9v-1.7M376.4 255.2v-1.7M376.4 505.9v-1.7M369.6 255.2v-3.6M369.6 505.9v-3.6M362.8 255.2v-1.7M362.8 505.9v-1.7M356.0 255.2v-1.7M356.0 505.9v-1.7M349.2 255.2v-1.7M349.2 505.9v-1.7M342.4 255.2v-1.7M342.4 505.9v-1.7M335.6 255.2v-1.7M335.6 505.9v-1.7M328.7 255.2v-1.7M328.7 505.9v-1.7M321.9 255.2v-1.7M321.9 505.9v-1.7M315.1 255.2v-1.7M315.1 505.9v-1.7M308.3 255.2v-1.7M308.3 505.9v-1.7M301.5 255.2v-3.6M301.5 505.9v-3.6M294.7 255.2v-1.7M294.7 505.9v-1.7M287.9 255.2v-1.7M287.9 505.9v-1.7M281.1 255.2v-1.7M281.1 505.9v-1.7" stroke-width="1"/>
</g>
<text x="56.3" y="521" font-family="Liberation Sans, Arial, sans-serif" font-size="12.4" fill="#222" stroke="#222" text-anchor="middle">101.0</text>
<text x="124.6" y="521" font-family="Liberation Sans, Arial, sans-serif" font-size="12.4" fill="#222" stroke="#222" text-anchor="middle">100.0</text>
<text x="192.9" y="521" font-family="Liberation Sans, Arial, sans-serif" font-size="12.4" fill="#222" stroke="#222" text-anchor="middle">99.0</text>
<text x="261.2" y="521" font-family="Liberation Sans, Arial, sans-serif" font-size="12.4" fill="#222" stroke="#222" text-anchor="middle">98.0</text>
<text x="302.3" y="521" font-family="Liberation Sans, Arial, sans-serif" font-size="12.4" fill="#222" stroke="#222" text-anchor="middle">101.0</text>
<text x="370.4" y="521" font-family="Liberation Sans, Arial, sans-serif" font-size="12.4" fill="#222" stroke="#222" text-anchor="middle">100.0</text>
<text x="438.5" y="521" font-family="Liberation Sans, Arial, sans-serif" font-size="12.4" fill="#222" stroke="#222" text-anchor="middle">99.0</text>
<text x="506.6" y="521" font-family="Liberation Sans, Arial, sans-serif" font-size="12.4" fill="#222" stroke="#222" text-anchor="middle">98.0</text>
<text x="154.8" y="541.6" font-family="Liberation Sans, Arial, sans-serif" font-size="12.7" fill="#222" stroke="#222" text-anchor="middle">Binding Energy (eV)</text>
<text x="400.7" y="541.6" font-family="Liberation Sans, Arial, sans-serif" font-size="12.7" fill="#222" stroke="#222" text-anchor="middle">Binding Energy (eV)</text>
<text transform="translate(20.8 130.8) rotate(-90)" font-family="Liberation Sans, Arial, sans-serif" font-size="17.65" fill="#1a1a1a" stroke="#1a1a1a" text-anchor="middle">Intensity (arb. unit)</text>
<text transform="translate(20.8 381.1) rotate(-90)" font-family="Liberation Sans, Arial, sans-serif" font-size="17.65" fill="#1a1a1a" stroke="#1a1a1a" text-anchor="middle">Intensity (arb. unit)</text>
<text x="37.7" y="27.1" font-family="Liberation Sans, Arial, sans-serif" font-size="18.5" letter-spacing="0.55" fill="#1a1a1a" stroke="#1a1a1a">(a)</text>
<text x="283.0" y="27.1" font-family="Liberation Sans, Arial, sans-serif" font-size="18.5" letter-spacing="0.9" fill="#1a1a1a" stroke="#1a1a1a">(b)</text>
<text x="37.7" y="280.2" font-family="Liberation Sans, Arial, sans-serif" font-size="18.5" letter-spacing="0.6" fill="#1a1a1a" stroke="#1a1a1a">(c)</text>
<text x="283.0" y="279.7" font-family="Liberation Sans, Arial, sans-serif" font-size="18.5" letter-spacing="0.9" fill="#1a1a1a" stroke="#1a1a1a">(d)</text>
<text x="201.3" y="31.7" font-family="Liberation Sans, Arial, sans-serif" font-size="18.6" fill="#1a1a1a" stroke="#1a1a1a">x = 10%</text>
<text x="202.2" y="55.2" font-family="Liberation Serif, Times New Roman, serif" font-size="19.5" fill="#222" stroke="#222">θ</text>
<text x="210.8" y="59.9" font-family="Liberation Sans, Arial, sans-serif" font-size="12" fill="#222" stroke="#222">e</text>
<text x="221.8" y="55.2" font-family="Liberation Sans, Arial, sans-serif" font-size="17.6" fill="#222" stroke="#222">= 0</text>
<text x="246.6" y="48.6" font-family="Liberation Sans, Arial, sans-serif" font-size="11.2" fill="#222" stroke="#222">0</text>
<text x="449.1" y="31.9" font-family="Liberation Sans, Arial, sans-serif" font-size="18.6" fill="#1a1a1a" stroke="#1a1a1a">x = 50%</text>
<text x="455.3" y="51.0" font-family="Liberation Serif, Times New Roman, serif" font-size="19.5" fill="#222" stroke="#222">θ</text>
<text x="463.9" y="55.7" font-family="Liberation Sans, Arial, sans-serif" font-size="12" fill="#222" stroke="#222">e</text>
<text x="474.9" y="51.0" font-family="Liberation Sans, Arial, sans-serif" font-size="17.6" fill="#222" stroke="#222">= 0</text>
<text x="499.7" y="44.4" font-family="Liberation Sans, Arial, sans-serif" font-size="11.2" fill="#222" stroke="#222">0</text>
<text x="201.3" y="284.5" font-family="Liberation Sans, Arial, sans-serif" font-size="18.6" fill="#1a1a1a" stroke="#1a1a1a">x = 90%</text>
<text x="206.5" y="309.8" font-family="Liberation Serif, Times New Roman, serif" font-size="19.5" fill="#222" stroke="#222">θ</text>
<text x="215.1" y="314.5" font-family="Liberation Sans, Arial, sans-serif" font-size="12" fill="#222" stroke="#222">e</text>
<text x="226.1" y="309.8" font-family="Liberation Sans, Arial, sans-serif" font-size="17.6" fill="#222" stroke="#222">= 0</text>
<text x="250.9" y="303.2" font-family="Liberation Sans, Arial, sans-serif" font-size="11.2" fill="#222" stroke="#222">0</text>
<text x="449.1" y="284.5" font-family="Liberation Sans, Arial, sans-serif" font-size="18.6" fill="#1a1a1a" stroke="#1a1a1a">x = 50%</text>
<text x="451.1" y="310.3" font-family="Liberation Serif, Times New Roman, serif" font-size="19.5" fill="#222" stroke="#222">θ</text>
<text x="459.7" y="315.0" font-family="Liberation Sans, Arial, sans-serif" font-size="12" fill="#222" stroke="#222">e</text>
<text x="470.7" y="310.3" font-family="Liberation Sans, Arial, sans-serif" font-size="17.6" fill="#222" stroke="#222">= 60</text>
<text x="504.5" y="303.7" font-family="Liberation Sans, Arial, sans-serif" font-size="11.2" fill="#222" stroke="#222">0</text>
<path d="M110.6 145L158.9 192.2" stroke="#333" stroke-width="0.9" fill="none"/>
<path d="M158.9 192.2L154.7 189.9L156.5 188.1Z" fill="#333"/>
<text x="73.5" y="143.5" font-family="Liberation Serif, Times New Roman, serif" font-weight="bold" font-size="17.4" fill="#1c1c1c" stroke="#1c1c1c">Si(S)'</text>
<path d="M209.9 115.8L187.4 144.6" stroke="#5a5a5a" stroke-width="0.9" fill="none"/>
<path d="M187.4 144.6L189.2 140.2L191.3 141.7Z" fill="#5a5a5a"/>
<text x="208.3" y="114.7" font-family="Liberation Serif, Times New Roman, serif" font-weight="bold" font-size="17.4" fill="#1c1c1c" stroke="#1c1c1c">Si(B)</text>
<path d="M218.9 171.3L200 190" stroke="#8a3038" stroke-width="0.9" fill="none"/>
<path d="M200 190L202.4 185.8L204.2 187.7Z" fill="#8a3038"/>
<text x="218.0" y="171.3" font-family="Liberation Serif, Times New Roman, serif" font-weight="bold" font-size="17.4" letter-spacing="0.35" fill="#74202a" stroke="#74202a">Si(S)&quot;</text>
<path d="M353.9 150.7L403.8 197.4" stroke="#333" stroke-width="0.9" fill="none"/>
<path d="M403.8 197.4L399.5 195.2L401.3 193.3Z" fill="#333"/>
<text x="315.7" y="148.9" font-family="Liberation Serif, Times New Roman, serif" font-weight="bold" font-size="17.4" fill="#1c1c1c" stroke="#1c1c1c">Si(S)'</text>
<path d="M458.3 115.8L433.6 146.2" stroke="#5a5a5a" stroke-width="0.9" fill="none"/>
<path d="M433.6 146.2L435.5 141.8L437.5 143.4Z" fill="#5a5a5a"/>
<text x="456.1" y="115.8" font-family="Liberation Serif, Times New Roman, serif" font-weight="bold" font-size="17.4" fill="#1c1c1c" stroke="#1c1c1c">Si(B)</text>
<path d="M459 169.8L443.7 193.4" stroke="#8a3038" stroke-width="0.9" fill="none"/>
<path d="M443.7 193.4L445.1 188.8L447.3 190.2Z" fill="#8a3038"/>
<text x="457.6" y="168.7" font-family="Liberation Serif, Times New Roman, serif" font-weight="bold" font-size="17.4" letter-spacing="0.35" fill="#74202a" stroke="#74202a">Si(S)&quot;</text>
<path d="M107.8 400.7L157.2 447.4" stroke="#333" stroke-width="0.9" fill="none"/>
<path d="M157.2 447.4L153.0 445.2L154.7 443.3Z" fill="#333"/>
<text x="69.6" y="399.6" font-family="Liberation Serif, Times New Roman, serif" font-weight="bold" font-size="17.4" fill="#1c1c1c" stroke="#1c1c1c">Si(S)'</text>
<path d="M206.5 367.6L183.6 390.1" stroke="#5a5a5a" stroke-width="0.9" fill="none"/>
<path d="M183.6 390.1L186.0 385.9L187.8 387.8Z" fill="#5a5a5a"/>
<text x="206.1" y="365.3" font-family="Liberation Serif, Times New Roman, serif" font-weight="bold" font-size="17.4" fill="#1c1c1c" stroke="#1c1c1c">Si(B)</text>
<path d="M214.9 433.7L198.1 452.4" stroke="#8a3038" stroke-width="0.9" fill="none"/>
<path d="M198.1 452.4L200.2 448.1L202.1 449.8Z" fill="#8a3038"/>
<text x="214.0" y="431.7" font-family="Liberation Serif, Times New Roman, serif" font-weight="bold" font-size="17.4" letter-spacing="0.35" fill="#74202a" stroke="#74202a">Si(S)&quot;</text>
<path d="M358.9 398L403.8 437.8" stroke="#333" stroke-width="0.9" fill="none"/>
<path d="M403.8 437.8L399.5 435.7L401.2 433.8Z" fill="#333"/>
<text x="319.1" y="395.1" font-family="Liberation Serif, Times New Roman, serif" font-weight="bold" font-size="17.4" fill="#1c1c1c" stroke="#1c1c1c">Si(S)'</text>
<path d="M451.6 379.3L432.5 403.6" stroke="#5a5a5a" stroke-width="0.9" fill="none"/>
<path d="M432.5 403.6L434.4 399.2L436.4 400.8Z" fill="#5a5a5a"/>
<text x="450.4" y="376.4" font-family="Liberation Serif, Times New Roman, serif" font-weight="bold" font-size="17.4" fill="#1c1c1c" stroke="#1c1c1c">Si(B)</text>
<path d="M459.9 424.9L444.2 444.5" stroke="#8a3038" stroke-width="0.9" fill="none"/>
<path d="M444.2 444.5L446.1 440.1L448.1 441.7Z" fill="#8a3038"/>
<text x="458.3" y="423.6" font-family="Liberation Serif, Times New Roman, serif" font-weight="bold" font-size="17.4" letter-spacing="0.35" fill="#74202a" stroke="#74202a">Si(S)&quot;</text>
</svg></body></html>
